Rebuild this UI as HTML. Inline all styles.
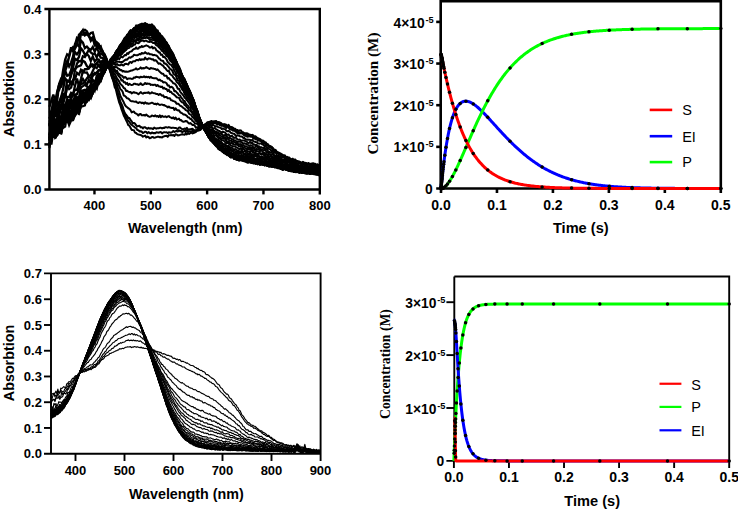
<!DOCTYPE html>
<html><head><meta charset="utf-8"><style>
html,body{margin:0;padding:0;background:#fff;width:738px;height:512px;overflow:hidden;}
svg{display:block;font-family:"Liberation Sans",sans-serif;}
</style></head><body>
<svg width="738" height="512" viewBox="0 0 738 512">
<rect width="738" height="512" fill="#fff"/>
<g fill="none" stroke="#000" stroke-width="2" stroke-linejoin="round">
<path d="M112.49 78.77 L113.62 82.32 L114.74 87.17 L115.87 89.18 L117 94.27 L118.12 98.56 L119.25 102.67 L120.38 105.48 L121.5 109.25 L122.63 112.21 L123.76 115.49 L124.88 117.57 L126.01 120.04 L127.14 122.16 L128.26 125.1 L129.39 125.72 L130.52 127.71 L131.64 129.91 L132.77 130.1 L133.9 130.24 L135.02 132.58 L136.15 133 L137.27 134.15 L138.4 134.42 L139.53 134.83 L140.65 135.02 L141.78 135.56 L142.91 136.7 L144.03 136.09 L145.16 135.63 L146.29 137.42 L147.41 136.59 L148.54 137.02 L149.67 138.32 L150.79 137.89 L151.92 137.11 L153.05 137.12 L154.17 137.78 L155.3 137.49 L156.43 137.08 L157.55 136.73 L158.68 136.83 L159.81 137.18 L160.93 137.12 L162.06 137.54 L163.19 136.64 L164.31 136.28 L165.44 135.91 L166.57 135.77 L167.69 136.91 L168.82 135.13 L169.95 135.36 L171.07 135.09 L172.2 135.38 L173.33 134.95 L174.45 136.04 L175.58 134.17 L176.71 134.7 L177.83 135.41 L178.96 135.33 L180.09 134.87 L181.21 134.54 L182.34 134.17 L183.47 134.49 L184.59 134.77 L185.72 133.49 L186.85 134.38 L187.97 133.11 L189.1 134 L190.23 133.17 L191.35 132.55 L192.48 133.44 L193.6 132.99 L194.73 132.61 L195.86 131.98 L196.98 130.83 L198.11 130.59 L199.24 129.78 L200.36 129.73 L201.49 127.45 L202.62 127.58 L203.74 126.69 L204.87 124.51 L206 123.9 L207.12 122.39 L208.25 122.08 L209.38 122.18 L210.5 121.37 L211.63 120.98 L212.76 121.89 L213.88 121.48 L215.01 121.17 L216.14 120.89 L217.26 122.59 L218.39 122.03 L219.52 122.26 L220.64 122.96 L221.77 123.69 L222.9 124.58 L224.02 124.11 L225.15 124.34 L226.28 124.75 L227.4 126.45 L228.53 124.73 L229.66 126.52 L230.78 127.34 L231.91 126.94 L233.04 127.76 L234.16 128.73 L235.29 128.84 L236.42 130.36 L237.54 129.91 L238.67 130.99 L239.8 130.35 L240.92 130.47 L242.05 131.99 L243.18 132.27 L244.3 133.24 L245.43 133.15 L246.56 133.18 L247.68 133.47 L248.81 134.59 L249.93 134.57 L251.06 135.33 L252.19 134.78 L253.31 135.37 L254.44 136.77 L255.57 136.22 L256.69 137.91 L257.82 138.5 L258.95 138.54 L260.07 139.09 L261.2 140.06 L262.33 140.57 L263.45 140.7 L264.58 142.49 L265.71 142.22 L266.83 144.07 L267.96 144.15 L269.09 145.92 L270.21 146.63 L271.34 146.72 L272.47 147.76 L273.59 149.09 L274.72 149.61 L275.85 150.21 L276.97 151.93 L278.1 152.62 L279.23 152.81 L280.35 153.37 L281.48 154.26 L282.61 154.78 L283.73 155.44 L284.86 155.37 L285.99 157.13 L287.11 156.86 L288.24 157.47 L289.37 157.5 L290.49 159.1 L291.62 159.64 L292.75 158.67 L293.87 160.88 L295 159.37 L296.13 160.47 L297.25 161.71 L298.38 161.94 L299.51 161.57 L300.63 162.32 L301.76 163.02 L302.88 161.87 L304.01 162.59 L305.14 162.65 L306.26 164.2 L307.39 163.68 L308.52 163.07 L309.64 164.78 L310.77 164.64 L311.9 163.39 L313.02 163.33 L314.15 163.54 L315.28 164.87 L316.4 164.76 L317.53 164.22 L318.66 165.19 L319.78 164.86"/>
<path d="M112.49 78.2 L113.62 80.55 L114.74 84.59 L115.87 87.98 L117 91.55 L118.12 95.88 L119.25 100.01 L120.38 103.33 L121.5 106.76 L122.63 109.03 L123.76 112.5 L124.88 115.65 L126.01 117.1 L127.14 118.91 L128.26 120.81 L129.39 121.74 L130.52 123.83 L131.64 124.77 L132.77 125.7 L133.9 126.49 L135.02 127.65 L136.15 128.14 L137.27 129.96 L138.4 130.22 L139.53 131.41 L140.65 131.23 L141.78 131.75 L142.91 133.01 L144.03 132.46 L145.16 131.66 L146.29 132 L147.41 133.32 L148.54 132.1 L149.67 132.82 L150.79 133.54 L151.92 132.48 L153.05 133.16 L154.17 132.94 L155.3 133.26 L156.43 132.33 L157.55 132.49 L158.68 132.76 L159.81 132.18 L160.93 132.11 L162.06 133.48 L163.19 132.5 L164.31 132.15 L165.44 132.39 L166.57 132.17 L167.69 133.1 L168.82 132.34 L169.95 132.47 L171.07 132.75 L172.2 132.06 L173.33 130.99 L174.45 131.96 L175.58 131.29 L176.71 130.99 L177.83 131.59 L178.96 130.37 L180.09 131.27 L181.21 130.93 L182.34 132.34 L183.47 131.36 L184.59 130.66 L185.72 132.17 L186.85 130.33 L187.97 131.86 L189.1 131.25 L190.23 131.39 L191.35 131.16 L192.48 130.85 L193.6 131.57 L194.73 130.45 L195.86 131.31 L196.98 130.38 L198.11 129.97 L199.24 130.22 L200.36 129.7 L201.49 127.74 L202.62 126.68 L203.74 126.67 L204.87 124.39 L206 124.23 L207.12 124.11 L208.25 123.33 L209.38 123.66 L210.5 123.29 L211.63 121.41 L212.76 122.58 L213.88 121.44 L215.01 122.26 L216.14 123.35 L217.26 122.2 L218.39 122.88 L219.52 124.88 L220.64 123.35 L221.77 125.04 L222.9 125.2 L224.02 124.46 L225.15 125.94 L226.28 126.05 L227.4 126.01 L228.53 126.35 L229.66 127.79 L230.78 127.51 L231.91 128.11 L233.04 128.88 L234.16 130.59 L235.29 130.15 L236.42 130.85 L237.54 131.68 L238.67 132.79 L239.8 132.27 L240.92 133.03 L242.05 132.82 L243.18 133.06 L244.3 133.79 L245.43 134.58 L246.56 134.71 L247.68 135.43 L248.81 135.16 L249.93 135.29 L251.06 135 L252.19 135.27 L253.31 136.79 L254.44 137.65 L255.57 138.46 L256.69 137.42 L257.82 138.49 L258.95 138.86 L260.07 140.67 L261.2 141.13 L262.33 140.95 L263.45 141.74 L264.58 142.55 L265.71 143.29 L266.83 143.82 L267.96 145.57 L269.09 146.74 L270.21 146.03 L271.34 146.81 L272.47 147.73 L273.59 150.4 L274.72 150.93 L275.85 151.34 L276.97 152.11 L278.1 152.5 L279.23 154.35 L280.35 154.12 L281.48 155.63 L282.61 156.68 L283.73 155.87 L284.86 156.43 L285.99 156.93 L287.11 158.01 L288.24 158.55 L289.37 159.21 L290.49 159.52 L291.62 159.34 L292.75 159.27 L293.87 161.58 L295 161.37 L296.13 161.04 L297.25 161.27 L298.38 161.42 L299.51 162.88 L300.63 162.43 L301.76 163.13 L302.88 162.3 L304.01 163.07 L305.14 163.27 L306.26 163.06 L307.39 164.19 L308.52 163.69 L309.64 163.87 L310.77 163.74 L311.9 164.21 L313.02 164.66 L314.15 165.46 L315.28 163.89 L316.4 165.89 L317.53 165.79 L318.66 165.45 L319.78 165.59"/>
<path d="M112.49 76.74 L113.62 80.78 L114.74 83.8 L115.87 86.4 L117 90.48 L118.12 93.67 L119.25 97.69 L120.38 101.85 L121.5 103.91 L122.63 106.62 L123.76 110.67 L124.88 113.16 L126.01 114.74 L127.14 116.08 L128.26 117.89 L129.39 118.07 L130.52 119.89 L131.64 121.32 L132.77 123.42 L133.9 122.93 L135.02 123.68 L136.15 125.32 L137.27 126.43 L138.4 126.02 L139.53 125.7 L140.65 127.39 L141.78 127.12 L142.91 128.39 L144.03 127.35 L145.16 127.19 L146.29 128.18 L147.41 128.83 L148.54 127.88 L149.67 128.53 L150.79 128.22 L151.92 128.39 L153.05 129.01 L154.17 127.62 L155.3 128.22 L156.43 128.7 L157.55 128.17 L158.68 128.24 L159.81 127.83 L160.93 127.82 L162.06 128.44 L163.19 127.83 L164.31 128.04 L165.44 127.15 L166.57 127.34 L167.69 127.66 L168.82 127.12 L169.95 127.51 L171.07 127.93 L172.2 127.79 L173.33 127.63 L174.45 127.88 L175.58 127.89 L176.71 128.49 L177.83 128.95 L178.96 127.52 L180.09 127.44 L181.21 128.59 L182.34 129.18 L183.47 129.17 L184.59 128.5 L185.72 129.11 L186.85 127.78 L187.97 129.71 L189.1 129.35 L190.23 129.45 L191.35 129.01 L192.48 128.84 L193.6 129.8 L194.73 130.64 L195.86 130.04 L196.98 129.29 L198.11 128.64 L199.24 130.23 L200.36 129.62 L201.49 128.35 L202.62 127.23 L203.74 126.84 L204.87 124.61 L206 124.05 L207.12 124.19 L208.25 123.99 L209.38 123.87 L210.5 123.97 L211.63 122.17 L212.76 123.55 L213.88 122.94 L215.01 123.06 L216.14 123.55 L217.26 124.48 L218.39 124 L219.52 124.44 L220.64 125.42 L221.77 125.92 L222.9 125.46 L224.02 126.46 L225.15 127.12 L226.28 128.04 L227.4 127.16 L228.53 127.39 L229.66 129.13 L230.78 129.5 L231.91 129.84 L233.04 130.66 L234.16 130.23 L235.29 131.28 L236.42 132.41 L237.54 133.19 L238.67 133.21 L239.8 133.7 L240.92 132.99 L242.05 133.48 L243.18 134.31 L244.3 135.45 L245.43 135.89 L246.56 136.29 L247.68 136.83 L248.81 136.11 L249.93 136.42 L251.06 136.73 L252.19 136.29 L253.31 138.7 L254.44 138.19 L255.57 139.46 L256.69 138.68 L257.82 140.91 L258.95 139.53 L260.07 140.81 L261.2 141.14 L262.33 142.97 L263.45 143.2 L264.58 143.25 L265.71 145.13 L266.83 145.18 L267.96 145.92 L269.09 146.3 L270.21 147.52 L271.34 147.68 L272.47 149.49 L273.59 149.79 L274.72 150.99 L275.85 150.87 L276.97 153.34 L278.1 152.77 L279.23 154.76 L280.35 154.71 L281.48 155.4 L282.61 157.11 L283.73 156.12 L284.86 157.37 L285.99 158.01 L287.11 159.03 L288.24 159.34 L289.37 159.23 L290.49 159.34 L291.62 160.48 L292.75 159.99 L293.87 161.97 L295 161.32 L296.13 162.09 L297.25 161.08 L298.38 161.72 L299.51 162.51 L300.63 163.56 L301.76 163.32 L302.88 162.87 L304.01 163.69 L305.14 163.81 L306.26 164.38 L307.39 165.13 L308.52 163.28 L309.64 164.15 L310.77 165.38 L311.9 164.25 L313.02 165.17 L314.15 165.34 L315.28 164.86 L316.4 165.87 L317.53 165.71 L318.66 166.14 L319.78 165.65"/>
<path d="M112.49 75.21 L113.62 77.63 L114.74 80.18 L115.87 82.12 L117 85.5 L118.12 88.86 L119.25 91.92 L120.38 95.91 L121.5 97.94 L122.63 100.35 L123.76 102.32 L124.88 104.86 L126.01 106.43 L127.14 107.24 L128.26 108.27 L129.39 108.79 L130.52 110.13 L131.64 112.34 L132.77 111.77 L133.9 111.61 L135.02 113.14 L136.15 113.63 L137.27 114.25 L138.4 115.45 L139.53 114.27 L140.65 113.9 L141.78 115.31 L142.91 115.24 L144.03 114.95 L145.16 115.66 L146.29 114.54 L147.41 115.64 L148.54 116.37 L149.67 116.76 L150.79 116.6 L151.92 115.53 L153.05 115.85 L154.17 116.26 L155.3 115.32 L156.43 116.53 L157.55 115.95 L158.68 117.04 L159.81 115.23 L160.93 117.22 L162.06 115.75 L163.19 116.67 L164.31 116.72 L165.44 116.32 L166.57 117.12 L167.69 116.52 L168.82 116.12 L169.95 117.13 L171.07 117.57 L172.2 118.28 L173.33 117.42 L174.45 119.01 L175.58 117.49 L176.71 119.48 L177.83 119.11 L178.96 118.55 L180.09 120.33 L181.21 120.03 L182.34 121.37 L183.47 121.83 L184.59 121.63 L185.72 120.94 L186.85 121.27 L187.97 122.46 L189.1 123.55 L190.23 123.06 L191.35 123.84 L192.48 124.95 L193.6 124.92 L194.73 125.63 L195.86 127.64 L196.98 127.33 L198.11 127.33 L199.24 128.49 L200.36 128.05 L201.49 127.06 L202.62 127.14 L203.74 126.58 L204.87 126.02 L206 125.04 L207.12 125.26 L208.25 124.7 L209.38 126.04 L210.5 125.04 L211.63 125.38 L212.76 124.69 L213.88 125.27 L215.01 126.2 L216.14 126.3 L217.26 126.56 L218.39 127.15 L219.52 127.59 L220.64 127.64 L221.77 129.03 L222.9 128.46 L224.02 128.93 L225.15 129.14 L226.28 130.59 L227.4 131.28 L228.53 131.04 L229.66 131.47 L230.78 132.78 L231.91 133.11 L233.04 133.67 L234.16 133.66 L235.29 135.14 L236.42 135.98 L237.54 135.15 L238.67 135.66 L239.8 136.24 L240.92 136.5 L242.05 136.56 L243.18 137.96 L244.3 137.78 L245.43 139.14 L246.56 139.71 L247.68 139.55 L248.81 139.8 L249.93 139.66 L251.06 140.78 L252.19 139.81 L253.31 141.21 L254.44 141.66 L255.57 142.1 L256.69 142.23 L257.82 143.33 L258.95 143.66 L260.07 143.44 L261.2 143.58 L262.33 144.58 L263.45 144.73 L264.58 146.3 L265.71 146.34 L266.83 148.02 L267.96 147.75 L269.09 149.24 L270.21 149.14 L271.34 151.13 L272.47 150.66 L273.59 152.94 L274.72 152.68 L275.85 152.65 L276.97 155.28 L278.1 155.51 L279.23 156.26 L280.35 156.7 L281.48 157.78 L282.61 157.32 L283.73 157.62 L284.86 158.65 L285.99 159.32 L287.11 159.49 L288.24 161.14 L289.37 161.32 L290.49 160.3 L291.62 161.84 L292.75 161.57 L293.87 161.73 L295 161.49 L296.13 163.25 L297.25 163.59 L298.38 163.81 L299.51 163.16 L300.63 163.1 L301.76 164.73 L302.88 163.72 L304.01 164.55 L305.14 165.03 L306.26 165.93 L307.39 164.63 L308.52 164.31 L309.64 166.23 L310.77 165.65 L311.9 166.03 L313.02 165.15 L314.15 166.94 L315.28 166.65 L316.4 166.15 L317.53 166.79 L318.66 166.28 L319.78 166.33"/>
<path d="M112.49 71.6 L113.62 75.36 L114.74 77.5 L115.87 78.5 L117 81.83 L118.12 84.3 L119.25 86.22 L120.38 89.26 L121.5 90.05 L122.63 91.81 L123.76 95.51 L124.88 95.87 L126.01 96.99 L127.14 98.33 L128.26 98.57 L129.39 99.59 L130.52 100.81 L131.64 101.25 L132.77 101.32 L133.9 101.63 L135.02 101.75 L136.15 101.44 L137.27 102.61 L138.4 103.04 L139.53 102.15 L140.65 102.42 L141.78 103.16 L142.91 102.58 L144.03 103.78 L145.16 102.21 L146.29 103.44 L147.41 103.16 L148.54 103.77 L149.67 103.59 L150.79 103.13 L151.92 102.65 L153.05 103.21 L154.17 103.99 L155.3 103.7 L156.43 104.44 L157.55 103.51 L158.68 104.29 L159.81 104.95 L160.93 104.63 L162.06 104.48 L163.19 105.17 L164.31 104.88 L165.44 105.88 L166.57 106.38 L167.69 107.35 L168.82 106.45 L169.95 107.46 L171.07 107.73 L172.2 108.12 L173.33 107.78 L174.45 109.93 L175.58 108.25 L176.71 109.92 L177.83 110.45 L178.96 110.19 L180.09 112.09 L181.21 112.9 L182.34 113.42 L183.47 114.59 L184.59 114.51 L185.72 115.05 L186.85 115.8 L187.97 117.3 L189.1 117.55 L190.23 118.94 L191.35 118.93 L192.48 120.95 L193.6 121.55 L194.73 123.24 L195.86 123.39 L196.98 123.67 L198.11 124.75 L199.24 127.11 L200.36 126.95 L201.49 126.82 L202.62 126.9 L203.74 126.02 L204.87 127.01 L206 126.12 L207.12 125.76 L208.25 125.61 L209.38 127.59 L210.5 127.36 L211.63 126.45 L212.76 128.6 L213.88 128.32 L215.01 127.99 L216.14 129.42 L217.26 129.69 L218.39 130.65 L219.52 131.06 L220.64 131.77 L221.77 132.84 L222.9 131.51 L224.02 132.17 L225.15 132.5 L226.28 134.09 L227.4 134.81 L228.53 134.31 L229.66 135.91 L230.78 136.17 L231.91 135.67 L233.04 137.08 L234.16 137.95 L235.29 137.24 L236.42 138.25 L237.54 139.59 L238.67 139.74 L239.8 139.56 L240.92 140.61 L242.05 140.42 L243.18 140.4 L244.3 140.41 L245.43 141.3 L246.56 141.44 L247.68 142.59 L248.81 143.04 L249.93 141.89 L251.06 143.21 L252.19 142.65 L253.31 144.73 L254.44 144.42 L255.57 145.23 L256.69 144.84 L257.82 146.3 L258.95 146.22 L260.07 147.42 L261.2 147.16 L262.33 147.86 L263.45 148.06 L264.58 147.81 L265.71 149.02 L266.83 149.28 L267.96 151.03 L269.09 151.82 L270.21 152.79 L271.34 152.2 L272.47 153.47 L273.59 154.65 L274.72 155.51 L275.85 155.85 L276.97 156.59 L278.1 156.96 L279.23 156.82 L280.35 157.62 L281.48 158.97 L282.61 159.78 L283.73 160.26 L284.86 159.12 L285.99 160.71 L287.11 160.54 L288.24 161.28 L289.37 161.08 L290.49 163.14 L291.62 163.08 L292.75 163.02 L293.87 164.46 L295 162.86 L296.13 164.69 L297.25 163.75 L298.38 164.56 L299.51 165.82 L300.63 165.1 L301.76 165.75 L302.88 166.21 L304.01 165.98 L305.14 165.87 L306.26 167.23 L307.39 166.68 L308.52 166.35 L309.64 166.66 L310.77 167.56 L311.9 166.14 L313.02 167.27 L314.15 166.76 L315.28 166.69 L316.4 168.2 L317.53 168.01 L318.66 168.41 L319.78 167.65"/>
<path d="M112.49 70.35 L113.62 72.89 L114.74 74 L115.87 76.08 L117 78.26 L118.12 79.84 L119.25 81.6 L120.38 84.01 L121.5 84.86 L122.63 86.12 L123.76 87.98 L124.88 88.45 L126.01 90.95 L127.14 90.69 L128.26 91.65 L129.39 92.18 L130.52 91.97 L131.64 93.45 L132.77 92.68 L133.9 92.11 L135.02 92.78 L136.15 92.77 L137.27 93.46 L138.4 94.19 L139.53 93.21 L140.65 92.13 L141.78 93.06 L142.91 93.7 L144.03 92.74 L145.16 93.05 L146.29 92.66 L147.41 92.89 L148.54 92.24 L149.67 93.49 L150.79 93.26 L151.92 92.18 L153.05 93.07 L154.17 93.16 L155.3 93.38 L156.43 94.09 L157.55 93.91 L158.68 94.93 L159.81 93.94 L160.93 94.67 L162.06 95.74 L163.19 95.37 L164.31 97.29 L165.44 97.04 L166.57 97 L167.69 98.25 L168.82 98.27 L169.95 98.26 L171.07 100.18 L172.2 100.37 L173.33 101.1 L174.45 101.36 L175.58 102.14 L176.71 103.85 L177.83 103.62 L178.96 104.29 L180.09 105.74 L181.21 106.18 L182.34 106.97 L183.47 108.1 L184.59 108.63 L185.72 110.08 L186.85 110.44 L187.97 111.5 L189.1 113.71 L190.23 114.48 L191.35 115.09 L192.48 117.27 L193.6 117.63 L194.73 119.52 L195.86 121.01 L196.98 121.44 L198.11 123.08 L199.24 125.72 L200.36 125.72 L201.49 126.11 L202.62 126.15 L203.74 127.28 L204.87 127.08 L206 126.43 L207.12 127.19 L208.25 128.17 L209.38 128.83 L210.5 129.18 L211.63 129.19 L212.76 129.63 L213.88 130.5 L215.01 131.53 L216.14 131.7 L217.26 132.44 L218.39 132.22 L219.52 133.96 L220.64 133.52 L221.77 133.99 L222.9 134.93 L224.02 135.77 L225.15 134.84 L226.28 135.56 L227.4 137.79 L228.53 137.49 L229.66 138.11 L230.78 138.26 L231.91 139.32 L233.04 139.14 L234.16 140.78 L235.29 140.38 L236.42 141.4 L237.54 141.7 L238.67 141.73 L239.8 141.82 L240.92 141.83 L242.05 142.59 L243.18 143.44 L244.3 143.23 L245.43 143.78 L246.56 144.05 L247.68 144.49 L248.81 146 L249.93 145.2 L251.06 145.16 L252.19 146.07 L253.31 147.22 L254.44 147.42 L255.57 146.91 L256.69 146.5 L257.82 147.2 L258.95 148.63 L260.07 148.84 L261.2 149.45 L262.33 149.45 L263.45 150.26 L264.58 149.98 L265.71 150.49 L266.83 152.68 L267.96 152.02 L269.09 154.12 L270.21 154.62 L271.34 154.64 L272.47 154.49 L273.59 154.99 L274.72 156.89 L275.85 157.09 L276.97 158.46 L278.1 158.1 L279.23 158.96 L280.35 159.55 L281.48 160.18 L282.61 160.24 L283.73 160.25 L284.86 161.45 L285.99 161.79 L287.11 161.92 L288.24 162.3 L289.37 162.02 L290.49 163.55 L291.62 163.46 L292.75 163.75 L293.87 164.19 L295 165.14 L296.13 165.92 L297.25 165.87 L298.38 164.76 L299.51 166.39 L300.63 165.84 L301.76 166.85 L302.88 166.59 L304.01 167.08 L305.14 166.79 L306.26 167.89 L307.39 166.97 L308.52 167.46 L309.64 168.06 L310.77 167.78 L311.9 167.58 L313.02 168.1 L314.15 168.79 L315.28 168.59 L316.4 167.72 L317.53 168.67 L318.66 169.62 L319.78 169.44"/>
<path d="M112.49 68.13 L113.62 69.7 L114.74 71.33 L115.87 72.79 L117 73.54 L118.12 75.05 L119.25 76.61 L120.38 77.74 L121.5 80.51 L122.63 80.08 L123.76 82.27 L124.88 82.12 L126.01 83.92 L127.14 82.87 L128.26 85.08 L129.39 83.85 L130.52 84.64 L131.64 85.01 L132.77 84.85 L133.9 83.76 L135.02 83.79 L136.15 84.2 L137.27 84.17 L138.4 84.91 L139.53 84.54 L140.65 83.22 L141.78 84.53 L142.91 84.96 L144.03 84.25 L145.16 82.96 L146.29 83.99 L147.41 83.54 L148.54 83.86 L149.67 83.84 L150.79 84.9 L151.92 84.62 L153.05 85.18 L154.17 84.68 L155.3 84.79 L156.43 85.99 L157.55 85.08 L158.68 86.17 L159.81 86.43 L160.93 86.99 L162.06 86.56 L163.19 88.56 L164.31 87.88 L165.44 88.94 L166.57 88.94 L167.69 91.13 L168.82 89.84 L169.95 92.07 L171.07 91.75 L172.2 93.5 L173.33 94.13 L174.45 94.84 L175.58 95.96 L176.71 97.3 L177.83 97.53 L178.96 97.69 L180.09 100.19 L181.21 101.55 L182.34 102.54 L183.47 102.6 L184.59 104.97 L185.72 105.66 L186.85 107.17 L187.97 108.21 L189.1 110.29 L190.23 110.59 L191.35 111.92 L192.48 113.4 L193.6 115.13 L194.73 117.48 L195.86 119.17 L196.98 121.22 L198.11 121.67 L199.24 123.72 L200.36 125.27 L201.49 125.36 L202.62 126.29 L203.74 127.43 L204.87 127.61 L206 127.38 L207.12 128.03 L208.25 128.79 L209.38 130.48 L210.5 130.06 L211.63 130.26 L212.76 131.15 L213.88 131.43 L215.01 131.84 L216.14 133.47 L217.26 133.77 L218.39 133.75 L219.52 134.94 L220.64 135.9 L221.77 136.24 L222.9 136.25 L224.02 137.61 L225.15 137.13 L226.28 139.18 L227.4 138.47 L228.53 139.43 L229.66 140.96 L230.78 140.57 L231.91 141.26 L233.04 141.14 L234.16 142.14 L235.29 142.61 L236.42 143.44 L237.54 142.88 L238.67 145.28 L239.8 144.09 L240.92 144.34 L242.05 145.43 L243.18 145.02 L244.3 145.94 L245.43 146.18 L246.56 146.23 L247.68 147.79 L248.81 147.95 L249.93 146.93 L251.06 148.4 L252.19 147.68 L253.31 148.31 L254.44 148.72 L255.57 149.64 L256.69 148.85 L257.82 149.47 L258.95 149.54 L260.07 151.08 L261.2 150.55 L262.33 151.08 L263.45 152.58 L264.58 152.82 L265.71 153.85 L266.83 154.44 L267.96 154.36 L269.09 154.44 L270.21 154.81 L271.34 156.47 L272.47 156.95 L273.59 157.5 L274.72 156.98 L275.85 157.92 L276.97 158.2 L278.1 160.18 L279.23 159.27 L280.35 161.01 L281.48 160.75 L282.61 161.2 L283.73 161.52 L284.86 162.64 L285.99 162.32 L287.11 163.24 L288.24 164.6 L289.37 164.11 L290.49 164.62 L291.62 164.49 L292.75 165.13 L293.87 165.43 L295 165.04 L296.13 166.77 L297.25 166.68 L298.38 166.01 L299.51 166.83 L300.63 167.28 L301.76 167.65 L302.88 166.29 L304.01 166.81 L305.14 167.93 L306.26 168.56 L307.39 167.08 L308.52 167.48 L309.64 167.91 L310.77 168.74 L311.9 168.42 L313.02 168.58 L314.15 169.37 L315.28 168.33 L316.4 169.3 L317.53 168.52 L318.66 169.79 L319.78 169.72"/>
<path d="M112.49 66.82 L113.62 68.48 L114.74 69.74 L115.87 71.05 L117 70.74 L118.12 73.38 L119.25 74 L120.38 75.17 L121.5 75.45 L122.63 76.32 L123.76 77.83 L124.88 76.98 L126.01 77.64 L127.14 79.18 L128.26 78.54 L129.39 78.39 L130.52 78.58 L131.64 78.9 L132.77 78.83 L133.9 77.5 L135.02 77.82 L136.15 76.7 L137.27 77.09 L138.4 77.21 L139.53 77.69 L140.65 76.65 L141.78 77.19 L142.91 77.09 L144.03 76.25 L145.16 77.31 L146.29 76.7 L147.41 77.31 L148.54 76.85 L149.67 77.86 L150.79 76.68 L151.92 77.68 L153.05 78.05 L154.17 78.34 L155.3 78.21 L156.43 78.16 L157.55 79.39 L158.68 80.26 L159.81 79.63 L160.93 80.7 L162.06 80.87 L163.19 82.52 L164.31 82.16 L165.44 82.48 L166.57 83.27 L167.69 85.6 L168.82 85.37 L169.95 87.54 L171.07 86.8 L172.2 87.21 L173.33 88.39 L174.45 91.31 L175.58 91.07 L176.71 92.42 L177.83 93.54 L178.96 95.1 L180.09 95.47 L181.21 97.62 L182.34 98.71 L183.47 100.73 L184.59 100.98 L185.72 103.47 L186.85 104.74 L187.97 105.66 L189.1 107.51 L190.23 107.84 L191.35 110.76 L192.48 112.07 L193.6 114.22 L194.73 116.28 L195.86 117.89 L196.98 119.18 L198.11 121.32 L199.24 122.65 L200.36 125.33 L201.49 124.71 L202.62 126.67 L203.74 126.53 L204.87 127.42 L206 128.24 L207.12 128.65 L208.25 129 L209.38 129.79 L210.5 131.5 L211.63 132.19 L212.76 133.17 L213.88 132.35 L215.01 133.57 L216.14 133.91 L217.26 135.8 L218.39 136.09 L219.52 137.77 L220.64 137.87 L221.77 138.65 L222.9 137.96 L224.02 138.87 L225.15 138.88 L226.28 141.06 L227.4 141.24 L228.53 141.92 L229.66 142.7 L230.78 143.65 L231.91 142.57 L233.04 144.01 L234.16 144.53 L235.29 144.64 L236.42 144.54 L237.54 144.72 L238.67 146.14 L239.8 146.47 L240.92 145.72 L242.05 146.89 L243.18 147.63 L244.3 147.13 L245.43 148.35 L246.56 148.78 L247.68 149.04 L248.81 149.26 L249.93 149.08 L251.06 149.41 L252.19 149.49 L253.31 151.24 L254.44 149.72 L255.57 151.55 L256.69 150.9 L257.82 151.57 L258.95 151.72 L260.07 153.16 L261.2 153.45 L262.33 153.27 L263.45 153.7 L264.58 153.99 L265.71 154.96 L266.83 154.48 L267.96 155.38 L269.09 157.18 L270.21 156.75 L271.34 156.12 L272.47 158.37 L273.59 158.22 L274.72 157.83 L275.85 159.37 L276.97 159.71 L278.1 160.59 L279.23 161.39 L280.35 161.18 L281.48 161.67 L282.61 163.02 L283.73 162.73 L284.86 162.85 L285.99 162.92 L287.11 164.65 L288.24 165.19 L289.37 164.99 L290.49 165.4 L291.62 164.89 L292.75 165.55 L293.87 165.64 L295 166.22 L296.13 167.23 L297.25 166.34 L298.38 167.71 L299.51 166.52 L300.63 166.64 L301.76 167.87 L302.88 167.98 L304.01 167.02 L305.14 167.74 L306.26 168.34 L307.39 169.3 L308.52 167.91 L309.64 169.69 L310.77 168.84 L311.9 168.55 L313.02 168.22 L314.15 169.05 L315.28 169.97 L316.4 168.95 L317.53 169.2 L318.66 170.05 L319.78 171.08"/>
<path d="M112.49 66.62 L113.62 66.64 L114.74 67.46 L115.87 66.98 L117 67.15 L118.12 68.64 L119.25 68.94 L120.38 70.22 L121.5 70.01 L122.63 71.57 L123.76 70.99 L124.88 71.78 L126.01 71.46 L127.14 71.74 L128.26 71.66 L129.39 71.29 L130.52 70.74 L131.64 70.61 L132.77 70.23 L133.9 69.61 L135.02 69.36 L136.15 68.32 L137.27 69.48 L138.4 69.12 L139.53 68.63 L140.65 67.4 L141.78 68.71 L142.91 68 L144.03 68.47 L145.16 67.83 L146.29 67.11 L147.41 67.91 L148.54 68.48 L149.67 69.09 L150.79 67.96 L151.92 68.4 L153.05 68.49 L154.17 68.93 L155.3 69.05 L156.43 69.87 L157.55 69.35 L158.68 70.62 L159.81 71.78 L160.93 72.86 L162.06 73.8 L163.19 73.81 L164.31 75.73 L165.44 75.71 L166.57 75.78 L167.69 78.55 L168.82 77.93 L169.95 79.7 L171.07 80.65 L172.2 81.77 L173.33 83.37 L174.45 83.53 L175.58 84.43 L176.71 86.26 L177.83 88.86 L178.96 88.68 L180.09 91.48 L181.21 93.03 L182.34 94.11 L183.47 95.53 L184.59 97.64 L185.72 98.4 L186.85 100.11 L187.97 101.41 L189.1 103.04 L190.23 104.84 L191.35 107.61 L192.48 108.41 L193.6 110.57 L194.73 113.94 L195.86 115.26 L196.98 117.27 L198.11 120.34 L199.24 122.69 L200.36 124.74 L201.49 124.83 L202.62 126.37 L203.74 127.9 L204.87 128.34 L206 129.41 L207.12 129.79 L208.25 131.15 L209.38 132.25 L210.5 133.16 L211.63 132.86 L212.76 133.56 L213.88 135.27 L215.01 135.19 L216.14 135.58 L217.26 136.98 L218.39 138.11 L219.52 138.61 L220.64 139.26 L221.77 140.2 L222.9 140.27 L224.02 140.9 L225.15 142.2 L226.28 143.36 L227.4 142.66 L228.53 143.78 L229.66 144.14 L230.78 145.82 L231.91 145.79 L233.04 146.33 L234.16 146.5 L235.29 146.51 L236.42 147.58 L237.54 147.74 L238.67 148.85 L239.8 149.26 L240.92 147.94 L242.05 149.68 L243.18 148.76 L244.3 149.53 L245.43 150.93 L246.56 150.08 L247.68 151.85 L248.81 151.31 L249.93 151.71 L251.06 150.62 L252.19 151.92 L253.31 151.94 L254.44 153.23 L255.57 152.6 L256.69 153.81 L257.82 154.55 L258.95 153.45 L260.07 153.81 L261.2 154.38 L262.33 154.34 L263.45 154.75 L264.58 155.76 L265.71 157.02 L266.83 156.62 L267.96 157.6 L269.09 157.9 L270.21 158.43 L271.34 158.48 L272.47 159.52 L273.59 159.45 L274.72 160.17 L275.85 160.49 L276.97 161.92 L278.1 161.63 L279.23 162.15 L280.35 161.71 L281.48 162.86 L282.61 164.44 L283.73 164.14 L284.86 164.21 L285.99 164.03 L287.11 164.08 L288.24 164.6 L289.37 164.71 L290.49 165.18 L291.62 165.7 L292.75 165.55 L293.87 168.01 L295 166.93 L296.13 167.54 L297.25 167.17 L298.38 167.61 L299.51 168 L300.63 167.26 L301.76 169.09 L302.88 168.4 L304.01 167.55 L305.14 169.85 L306.26 170.04 L307.39 168.62 L308.52 168.32 L309.64 170.48 L310.77 170.63 L311.9 168.81 L313.02 169.39 L314.15 170.01 L315.28 169.72 L316.4 170.02 L317.53 169.86 L318.66 171.83 L319.78 171.73"/>
<path d="M112.49 63.82 L113.62 63.87 L114.74 64.56 L115.87 64.94 L117 63.85 L118.12 65 L119.25 65.22 L120.38 65.18 L121.5 64.21 L122.63 65.26 L123.76 65.44 L124.88 63.88 L126.01 63.81 L127.14 64.17 L128.26 64.52 L129.39 62.42 L130.52 61.99 L131.64 62.89 L132.77 61.42 L133.9 61.16 L135.02 61.3 L136.15 60.11 L137.27 60.03 L138.4 60.43 L139.53 59.07 L140.65 60.07 L141.78 59.32 L142.91 59.44 L144.03 59.63 L145.16 57.54 L146.29 59.05 L147.41 59.5 L148.54 58.35 L149.67 58.49 L150.79 58.79 L151.92 59.52 L153.05 59.2 L154.17 60.64 L155.3 60.24 L156.43 60.7 L157.55 62.4 L158.68 63.8 L159.81 63.3 L160.93 64.18 L162.06 65.09 L163.19 65.78 L164.31 67.58 L165.44 68.22 L166.57 69.86 L167.69 71.09 L168.82 70.64 L169.95 73.88 L171.07 74.78 L172.2 75.41 L173.33 77.4 L174.45 78.74 L175.58 79.76 L176.71 82.01 L177.83 82.87 L178.96 84.12 L180.09 86.1 L181.21 87.49 L182.34 89.8 L183.47 90.82 L184.59 93.78 L185.72 95.6 L186.85 97.43 L187.97 99.07 L189.1 100.13 L190.23 101.42 L191.35 104.56 L192.48 107.21 L193.6 108.89 L194.73 111.34 L195.86 114.42 L196.98 115.58 L198.11 117.8 L199.24 121.31 L200.36 122.98 L201.49 123.86 L202.62 125.88 L203.74 128.26 L204.87 127.56 L206 128.6 L207.12 131.51 L208.25 131.39 L209.38 133.31 L210.5 134.97 L211.63 135.02 L212.76 136.46 L213.88 136.01 L215.01 138.17 L216.14 138.97 L217.26 139.65 L218.39 139.69 L219.52 141.12 L220.64 141.19 L221.77 142.73 L222.9 143.8 L224.02 144.5 L225.15 144.41 L226.28 145.7 L227.4 146.19 L228.53 145.68 L229.66 147.25 L230.78 147.78 L231.91 147.88 L233.04 148.82 L234.16 149.54 L235.29 148.99 L236.42 149.81 L237.54 150.35 L238.67 150.84 L239.8 151.17 L240.92 151.33 L242.05 150.54 L243.18 152.29 L244.3 151.3 L245.43 151.8 L246.56 152.35 L247.68 153.96 L248.81 153.63 L249.93 152.38 L251.06 154.04 L252.19 154.34 L253.31 154.37 L254.44 155.06 L255.57 154.87 L256.69 155.75 L257.82 155 L258.95 155.99 L260.07 157.38 L261.2 156.33 L262.33 157.16 L263.45 157.03 L264.58 157.64 L265.71 157.31 L266.83 158.38 L267.96 158.95 L269.09 160.46 L270.21 159.76 L271.34 160.42 L272.47 160.34 L273.59 161.02 L274.72 161.48 L275.85 162.53 L276.97 162.47 L278.1 162.89 L279.23 163.21 L280.35 162.88 L281.48 164.49 L282.61 165 L283.73 165.59 L284.86 164.43 L285.99 165.87 L287.11 165.26 L288.24 165.89 L289.37 166.89 L290.49 166.16 L291.62 167.25 L292.75 167.36 L293.87 167.96 L295 167 L296.13 168.58 L297.25 168.38 L298.38 169.01 L299.51 168.41 L300.63 168.83 L301.76 169.43 L302.88 169.76 L304.01 169.65 L305.14 169.2 L306.26 169.58 L307.39 169.19 L308.52 169.15 L309.64 170.06 L310.77 170.02 L311.9 169.76 L313.02 169.92 L314.15 170.25 L315.28 171.18 L316.4 170.66 L317.53 171.5 L318.66 172.16 L319.78 170.98"/>
<path d="M112.49 63.68 L113.62 62.52 L114.74 63.47 L115.87 61.97 L117 61.57 L118.12 61.63 L119.25 61.82 L120.38 62.19 L121.5 62.04 L122.63 61.89 L123.76 60.99 L124.88 60.1 L126.01 59.51 L127.14 59.69 L128.26 58.36 L129.39 57.3 L130.52 57.82 L131.64 56.64 L132.77 56.47 L133.9 54.81 L135.02 55.06 L136.15 55.14 L137.27 55.33 L138.4 54.77 L139.53 54.03 L140.65 54.37 L141.78 52.99 L142.91 53.46 L144.03 53.2 L145.16 52.15 L146.29 53.18 L147.41 53.85 L148.54 53.24 L149.67 54.15 L150.79 54.27 L151.92 54.43 L153.05 55.21 L154.17 54.82 L155.3 55.23 L156.43 55.46 L157.55 56.47 L158.68 58.24 L159.81 58.79 L160.93 60.4 L162.06 60.71 L163.19 61.03 L164.31 63.54 L165.44 63.58 L166.57 64.44 L167.69 65.91 L168.82 67.11 L169.95 68.78 L171.07 69.46 L172.2 70.56 L173.33 73.3 L174.45 74.73 L175.58 74.88 L176.71 78 L177.83 80.32 L178.96 80.72 L180.09 84.14 L181.21 85.86 L182.34 87.18 L183.47 89.55 L184.59 90.3 L185.72 92.47 L186.85 94.87 L187.97 96.23 L189.1 98.41 L190.23 100.01 L191.35 102.96 L192.48 105.18 L193.6 107.86 L194.73 110.24 L195.86 112.14 L196.98 114.47 L198.11 118.64 L199.24 121.37 L200.36 123.12 L201.49 123.86 L202.62 125.85 L203.74 128.48 L204.87 128.75 L206 129.75 L207.12 130.81 L208.25 132.71 L209.38 133.67 L210.5 134.74 L211.63 135.18 L212.76 137.72 L213.88 137.15 L215.01 139.47 L216.14 140.1 L217.26 140.44 L218.39 142.35 L219.52 143.18 L220.64 142.99 L221.77 144.09 L222.9 145.32 L224.02 144.25 L225.15 144.87 L226.28 146.36 L227.4 147.07 L228.53 147.69 L229.66 147.65 L230.78 149.9 L231.91 149.94 L233.04 150.48 L234.16 150.13 L235.29 151.13 L236.42 151.58 L237.54 151.84 L238.67 151.69 L239.8 152.97 L240.92 151.95 L242.05 152.33 L243.18 153.32 L244.3 153.72 L245.43 153.94 L246.56 154.5 L247.68 155.08 L248.81 154.81 L249.93 154.77 L251.06 155.39 L252.19 154.64 L253.31 156.19 L254.44 155.98 L255.57 155.67 L256.69 156.54 L257.82 157.3 L258.95 156.18 L260.07 157.07 L261.2 157.39 L262.33 158.26 L263.45 158.01 L264.58 158.36 L265.71 159.54 L266.83 159.1 L267.96 158.99 L269.09 160.33 L270.21 160.45 L271.34 161.09 L272.47 161.13 L273.59 162.63 L274.72 161.8 L275.85 162.57 L276.97 162.42 L278.1 163.92 L279.23 163.84 L280.35 165.3 L281.48 164.96 L282.61 165.11 L283.73 165.95 L284.86 165.41 L285.99 166.53 L287.11 166.65 L288.24 166.15 L289.37 167.59 L290.49 166.72 L291.62 168.61 L292.75 167.64 L293.87 168.04 L295 167.74 L296.13 169.29 L297.25 168.71 L298.38 168.78 L299.51 169.06 L300.63 168.9 L301.76 169.51 L302.88 170.15 L304.01 169.26 L305.14 170.16 L306.26 170.51 L307.39 169.65 L308.52 171 L309.64 170.35 L310.77 171.32 L311.9 170.2 L313.02 170.14 L314.15 171.65 L315.28 170.96 L316.4 171.64 L317.53 171.63 L318.66 172.77 L319.78 171.98"/>
<path d="M112.49 62.56 L113.62 60.9 L114.74 60.58 L115.87 60.3 L117 59.34 L118.12 58.51 L119.25 59.2 L120.38 57.47 L121.5 56.85 L122.63 57.37 L123.76 56.13 L124.88 55.02 L126.01 55.25 L127.14 53.16 L128.26 53.85 L129.39 52.13 L130.52 51.67 L131.64 51.31 L132.77 49.79 L133.9 49.09 L135.02 48.89 L136.15 47.42 L137.27 48.78 L138.4 48.58 L139.53 47.02 L140.65 47.35 L141.78 45.96 L142.91 46.94 L144.03 46.41 L145.16 45.87 L146.29 45.37 L147.41 45.82 L148.54 46.32 L149.67 47.56 L150.79 47.53 L151.92 46.64 L153.05 48.33 L154.17 47.43 L155.3 48.29 L156.43 50.52 L157.55 50.85 L158.68 52.56 L159.81 52.3 L160.93 54.9 L162.06 54.6 L163.19 57.02 L164.31 56.79 L165.44 58.04 L166.57 59.4 L167.69 62 L168.82 63.05 L169.95 64.46 L171.07 64.69 L172.2 66.54 L173.33 67.85 L174.45 71.39 L175.58 72.45 L176.71 75.06 L177.83 75.77 L178.96 78.28 L180.09 80.45 L181.21 81.8 L182.34 83.93 L183.47 86.62 L184.59 88.03 L185.72 90.65 L186.85 91.97 L187.97 94.62 L189.1 96.7 L190.23 98.73 L191.35 101.31 L192.48 103.68 L193.6 106.37 L194.73 109.06 L195.86 111.49 L196.98 114.45 L198.11 117.61 L199.24 119.26 L200.36 122.23 L201.49 123.86 L202.62 125.98 L203.74 127.27 L204.87 128.5 L206 130.17 L207.12 131.65 L208.25 133.03 L209.38 134.88 L210.5 136.28 L211.63 136.74 L212.76 138.16 L213.88 138.9 L215.01 140.15 L216.14 140.69 L217.26 141.37 L218.39 142.33 L219.52 144.48 L220.64 145.25 L221.77 146.03 L222.9 147.12 L224.02 146.22 L225.15 147 L226.28 148.45 L227.4 149.52 L228.53 148.48 L229.66 149.69 L230.78 150.69 L231.91 151.04 L233.04 151.35 L234.16 152.65 L235.29 153.11 L236.42 153.1 L237.54 152.75 L238.67 153.25 L239.8 153.54 L240.92 153.59 L242.05 155.17 L243.18 155.38 L244.3 154.34 L245.43 155.44 L246.56 156.07 L247.68 156.76 L248.81 156.05 L249.93 156.23 L251.06 155.81 L252.19 157.5 L253.31 156.86 L254.44 158.4 L255.57 158.56 L256.69 158.22 L257.82 158.38 L258.95 159.1 L260.07 159.3 L261.2 158.59 L262.33 159.64 L263.45 159.25 L264.58 160 L265.71 160.38 L266.83 161.37 L267.96 161.12 L269.09 161.12 L270.21 161.63 L271.34 162.63 L272.47 162.61 L273.59 163.15 L274.72 163.61 L275.85 163.51 L276.97 164.01 L278.1 165.43 L279.23 165.62 L280.35 165.05 L281.48 166.17 L282.61 167.17 L283.73 165.87 L284.86 166.69 L285.99 165.98 L287.11 167.11 L288.24 168.46 L289.37 167.53 L290.49 168.58 L291.62 167.97 L292.75 168.07 L293.87 168.82 L295 169.77 L296.13 170.57 L297.25 168.98 L298.38 170.41 L299.51 170.66 L300.63 170.77 L301.76 170.84 L302.88 170.35 L304.01 169.4 L305.14 171.16 L306.26 171.59 L307.39 170.49 L308.52 171.48 L309.64 171.17 L310.77 171.37 L311.9 170.39 L313.02 172.3 L314.15 171.7 L315.28 171.84 L316.4 171.67 L317.53 172.62 L318.66 172.36 L319.78 173.32"/>
<path d="M112.49 60.3 L113.62 59.95 L114.74 59.8 L115.87 58.45 L117 56.62 L118.12 56.98 L119.25 54.79 L120.38 55.64 L121.5 54.54 L122.63 53.16 L123.76 51.87 L124.88 50.9 L126.01 50.04 L127.14 48.69 L128.26 48.11 L129.39 47.87 L130.52 45.64 L131.64 46.61 L132.77 45.64 L133.9 44.67 L135.02 44.51 L136.15 42.12 L137.27 42.93 L138.4 43.2 L139.53 42.37 L140.65 40.42 L141.78 40.89 L142.91 40.21 L144.03 41.42 L145.16 40.76 L146.29 40.68 L147.41 41.47 L148.54 41.72 L149.67 41.92 L150.79 41.46 L151.92 42.05 L153.05 42.97 L154.17 42.71 L155.3 43.95 L156.43 45.54 L157.55 45.45 L158.68 47.1 L159.81 47.99 L160.93 49.34 L162.06 51.06 L163.19 51.44 L164.31 53.44 L165.44 54.02 L166.57 56.14 L167.69 56.43 L168.82 58.03 L169.95 60.45 L171.07 61.65 L172.2 62.24 L173.33 65.59 L174.45 67.42 L175.58 68.13 L176.71 71.34 L177.83 72.81 L178.96 74.19 L180.09 78.2 L181.21 79.95 L182.34 82.25 L183.47 83.58 L184.59 85.29 L185.72 87.85 L186.85 89.35 L187.97 93.04 L189.1 94.87 L190.23 96 L191.35 98.91 L192.48 102.49 L193.6 103.33 L194.73 107.12 L195.86 109.97 L196.98 113.38 L198.11 115.98 L199.24 118.46 L200.36 121.03 L201.49 123.48 L202.62 124.89 L203.74 127.18 L204.87 128.62 L206 130.54 L207.12 131.69 L208.25 134.69 L209.38 135.84 L210.5 136.89 L211.63 138.17 L212.76 138.71 L213.88 140.72 L215.01 141.12 L216.14 142.34 L217.26 143.43 L218.39 144.11 L219.52 145.84 L220.64 145.83 L221.77 146.41 L222.9 146.82 L224.02 148.58 L225.15 148.88 L226.28 149.17 L227.4 150.99 L228.53 149.99 L229.66 152.3 L230.78 152.4 L231.91 153.16 L233.04 154.16 L234.16 154.94 L235.29 155.3 L236.42 154.97 L237.54 155.29 L238.67 154.7 L239.8 155.48 L240.92 156.39 L242.05 155.46 L243.18 156.83 L244.3 156.62 L245.43 156.52 L246.56 156.87 L247.68 157.05 L248.81 158.21 L249.93 157.96 L251.06 158.23 L252.19 158.44 L253.31 158.66 L254.44 158.95 L255.57 158.93 L256.69 159.95 L257.82 159.42 L258.95 158.86 L260.07 161.19 L261.2 160.38 L262.33 161.33 L263.45 161.72 L264.58 161.46 L265.71 162.2 L266.83 161.48 L267.96 161.98 L269.09 162.55 L270.21 162.1 L271.34 163.87 L272.47 164.15 L273.59 164.95 L274.72 164.26 L275.85 163.91 L276.97 164.72 L278.1 165.27 L279.23 165.25 L280.35 166.28 L281.48 167.06 L282.61 166.85 L283.73 167.84 L284.86 167.52 L285.99 168.26 L287.11 168.43 L288.24 169.14 L289.37 168.31 L290.49 169.4 L291.62 168.92 L292.75 168.46 L293.87 170.11 L295 170.21 L296.13 169.98 L297.25 169.63 L298.38 169.62 L299.51 170.55 L300.63 170.3 L301.76 170.1 L302.88 170.48 L304.01 169.85 L305.14 171.7 L306.26 171.15 L307.39 171.31 L308.52 171.45 L309.64 172.75 L310.77 172.08 L311.9 172.04 L313.02 171.77 L314.15 172.26 L315.28 172.08 L316.4 173.49 L317.53 173.31 L318.66 173.03 L319.78 172.92"/>
<path d="M112.49 59.91 L113.62 60.29 L114.74 58.36 L115.87 57.62 L117 56.19 L118.12 55 L119.25 55.05 L120.38 52.75 L121.5 52.87 L122.63 52.22 L123.76 50.37 L124.88 50.09 L126.01 49.49 L127.14 47 L128.26 46.6 L129.39 44.36 L130.52 43.64 L131.64 44.4 L132.77 43.72 L133.9 41.52 L135.02 41.55 L136.15 40.93 L137.27 39.75 L138.4 40.73 L139.53 39.05 L140.65 39.51 L141.78 38.04 L142.91 37.87 L144.03 38.11 L145.16 38.13 L146.29 37.65 L147.41 37.96 L148.54 38.27 L149.67 39.98 L150.79 39.49 L151.92 39.89 L153.05 40.14 L154.17 39.86 L155.3 41.01 L156.43 43.33 L157.55 43.48 L158.68 45.46 L159.81 46.43 L160.93 46.96 L162.06 47.92 L163.19 50.11 L164.31 51.26 L165.44 51.64 L166.57 53.17 L167.69 55.53 L168.82 57.26 L169.95 59.42 L171.07 60.79 L172.2 60.99 L173.33 63.55 L174.45 65.63 L175.58 67.47 L176.71 70.14 L177.83 72.59 L178.96 72.97 L180.09 76.17 L181.21 79.24 L182.34 80.59 L183.47 82.96 L184.59 84.74 L185.72 86.91 L186.85 89.14 L187.97 91.09 L189.1 93.16 L190.23 96.13 L191.35 98.51 L192.48 101.46 L193.6 103.82 L194.73 107.32 L195.86 109.95 L196.98 113.04 L198.11 116.13 L199.24 118.41 L200.36 121.03 L201.49 123.2 L202.62 124.94 L203.74 128.31 L204.87 129.08 L206 131.43 L207.12 133.05 L208.25 135.04 L209.38 135.46 L210.5 136.61 L211.63 138.25 L212.76 139.83 L213.88 141.06 L215.01 142.44 L216.14 142.19 L217.26 142.92 L218.39 145.54 L219.52 146.25 L220.64 145.82 L221.77 148.07 L222.9 147.57 L224.02 148.98 L225.15 149.26 L226.28 150.62 L227.4 151.39 L228.53 151.33 L229.66 152.75 L230.78 152.7 L231.91 154.31 L233.04 153.63 L234.16 154.12 L235.29 155.32 L236.42 155.81 L237.54 156.15 L238.67 156.9 L239.8 155.78 L240.92 156.02 L242.05 157.27 L243.18 157.01 L244.3 156.98 L245.43 157.8 L246.56 158.88 L247.68 158.51 L248.81 158.88 L249.93 157.35 L251.06 158.85 L252.19 157.91 L253.31 158.98 L254.44 159.29 L255.57 160.45 L256.69 159.32 L257.82 161.16 L258.95 160.09 L260.07 161.87 L261.2 161.8 L262.33 161.37 L263.45 161.97 L264.58 160.9 L265.71 161.95 L266.83 161.62 L267.96 161.72 L269.09 162.81 L270.21 163.06 L271.34 163.52 L272.47 163.32 L273.59 164.18 L274.72 165.14 L275.85 164.76 L276.97 165.52 L278.1 165.64 L279.23 165.8 L280.35 166.02 L281.48 166.53 L282.61 166.86 L283.73 166.69 L284.86 168.02 L285.99 168.31 L287.11 168.88 L288.24 169.21 L289.37 167.8 L290.49 169.32 L291.62 169.44 L292.75 169.32 L293.87 169.94 L295 170.14 L296.13 170 L297.25 170.54 L298.38 169.89 L299.51 170.32 L300.63 171.53 L301.76 170.86 L302.88 171.71 L304.01 170.21 L305.14 172.28 L306.26 172.24 L307.39 171.26 L308.52 171.42 L309.64 171.77 L310.77 172.38 L311.9 171.77 L313.02 172.67 L314.15 172.53 L315.28 172.72 L316.4 172.59 L317.53 173.54 L318.66 174.04 L319.78 173.96"/>
<path d="M112.49 60.34 L113.62 59 L114.74 58.79 L115.87 57.32 L117 55.59 L118.12 54.64 L119.25 54.19 L120.38 53.29 L121.5 51.65 L122.63 49.67 L123.76 49.05 L124.88 48.94 L126.01 47.63 L127.14 46.08 L128.26 45.41 L129.39 44.2 L130.52 42.45 L131.64 41.71 L132.77 41.52 L133.9 40.67 L135.02 40.57 L136.15 39.78 L137.27 38.35 L138.4 39 L139.53 37.2 L140.65 36.53 L141.78 37.81 L142.91 37.5 L144.03 36.94 L145.16 35.64 L146.29 35.93 L147.41 37.34 L148.54 37.2 L149.67 37.75 L150.79 37.88 L151.92 37.09 L153.05 39.03 L154.17 38.53 L155.3 39.36 L156.43 41.19 L157.55 41.27 L158.68 42.89 L159.81 44.97 L160.93 45.1 L162.06 47.52 L163.19 47.92 L164.31 50.46 L165.44 51.04 L166.57 52.41 L167.69 53.64 L168.82 55.07 L169.95 58.07 L171.07 58.38 L172.2 59.83 L173.33 62.49 L174.45 65.69 L175.58 66.66 L176.71 69.37 L177.83 71.31 L178.96 72.22 L180.09 75.42 L181.21 77.29 L182.34 81.02 L183.47 82.92 L184.59 83.9 L185.72 87.07 L186.85 89.24 L187.97 91.99 L189.1 94.27 L190.23 95.64 L191.35 98.24 L192.48 101 L193.6 103.16 L194.73 107.11 L195.86 110.76 L196.98 112.21 L198.11 115.94 L199.24 118.86 L200.36 121.64 L201.49 123.84 L202.62 126.32 L203.74 128.5 L204.87 129.77 L206 131.8 L207.12 133.73 L208.25 134.58 L209.38 137.07 L210.5 136.95 L211.63 138.44 L212.76 140.03 L213.88 140.67 L215.01 143 L216.14 143.49 L217.26 143.48 L218.39 145.09 L219.52 146.22 L220.64 146.95 L221.77 147.55 L222.9 148.65 L224.02 148.63 L225.15 149.05 L226.28 149.83 L227.4 151.06 L228.53 151.33 L229.66 152.87 L230.78 153.49 L231.91 153.78 L233.04 154.28 L234.16 154.54 L235.29 154.82 L236.42 156.49 L237.54 155.47 L238.67 156.38 L239.8 156.56 L240.92 155.91 L242.05 157.64 L243.18 157.39 L244.3 157.8 L245.43 157.11 L246.56 159.07 L247.68 158.68 L248.81 159.67 L249.93 158.15 L251.06 159.03 L252.19 158.65 L253.31 160.37 L254.44 159.14 L255.57 161.06 L256.69 160.74 L257.82 160.41 L258.95 159.9 L260.07 161.05 L261.2 161.84 L262.33 162.31 L263.45 161.35 L264.58 161.71 L265.71 163.2 L266.83 161.88 L267.96 162.8 L269.09 164.39 L270.21 163.65 L271.34 164.04 L272.47 164.79 L273.59 164.07 L274.72 164.03 L275.85 165.73 L276.97 165.71 L278.1 166.3 L279.23 166.1 L280.35 167.26 L281.48 167.16 L282.61 167.74 L283.73 167.51 L284.86 167.61 L285.99 167.7 L287.11 167.49 L288.24 168.03 L289.37 168.07 L290.49 168.57 L291.62 169.98 L292.75 169.88 L293.87 170.29 L295 169.67 L296.13 170.47 L297.25 170.67 L298.38 169.79 L299.51 171.34 L300.63 171.65 L301.76 171.81 L302.88 171.65 L304.01 170.62 L305.14 171.06 L306.26 172.78 L307.39 172.34 L308.52 172.17 L309.64 171.7 L310.77 171.66 L311.9 172.37 L313.02 172.98 L314.15 171.77 L315.28 171.59 L316.4 172.66 L317.53 173.03 L318.66 173.11 L319.78 173.1"/>
<path d="M112.49 60.48 L113.62 58 L114.74 57.27 L115.87 55.38 L117 54.76 L118.12 54.12 L119.25 52.56 L120.38 51.25 L121.5 50.38 L122.63 50.01 L123.76 49.31 L124.88 46.99 L126.01 46.4 L127.14 44.91 L128.26 44.1 L129.39 42.19 L130.52 40.71 L131.64 40 L132.77 39.4 L133.9 39.33 L135.02 37.59 L136.15 37.08 L137.27 36.73 L138.4 36.63 L139.53 36.15 L140.65 35.62 L141.78 36.12 L142.91 34.95 L144.03 35.7 L145.16 34.1 L146.29 33.94 L147.41 35.01 L148.54 35.25 L149.67 35.28 L150.79 35.36 L151.92 35.41 L153.05 36.13 L154.17 37.58 L155.3 39.42 L156.43 39.65 L157.55 40.34 L158.68 41.55 L159.81 42.75 L160.93 44.79 L162.06 46.48 L163.19 46.52 L164.31 48.25 L165.44 48.55 L166.57 50.89 L167.69 52.39 L168.82 53.72 L169.95 55.52 L171.07 58.03 L172.2 58.7 L173.33 61.66 L174.45 64.77 L175.58 65.65 L176.71 68.38 L177.83 69.45 L178.96 72.39 L180.09 75.22 L181.21 76.8 L182.34 80.29 L183.47 82.16 L184.59 83.88 L185.72 86.86 L186.85 88.03 L187.97 90.82 L189.1 92.44 L190.23 95.29 L191.35 97.03 L192.48 100.94 L193.6 102.84 L194.73 106.88 L195.86 110.46 L196.98 112.61 L198.11 114.72 L199.24 119.04 L200.36 121.32 L201.49 123.31 L202.62 125.92 L203.74 128.11 L204.87 130.26 L206 131.52 L207.12 133.45 L208.25 134.19 L209.38 135.98 L210.5 137.53 L211.63 138.31 L212.76 139.59 L213.88 140.62 L215.01 143.29 L216.14 143.8 L217.26 143.92 L218.39 144.97 L219.52 145.74 L220.64 146.59 L221.77 149.01 L222.9 148.96 L224.02 149.35 L225.15 149.89 L226.28 151.61 L227.4 151.07 L228.53 152.06 L229.66 153.66 L230.78 153.14 L231.91 154.58 L233.04 155.53 L234.16 155.25 L235.29 156.32 L236.42 156.64 L237.54 156.7 L238.67 156.84 L239.8 157.48 L240.92 156.77 L242.05 156.55 L243.18 156.91 L244.3 157.31 L245.43 157.58 L246.56 159.33 L247.68 158.63 L248.81 160.18 L249.93 158.87 L251.06 160.17 L252.19 160.18 L253.31 159.64 L254.44 160.88 L255.57 160.2 L256.69 160.6 L257.82 162.1 L258.95 160.44 L260.07 162.69 L261.2 161.13 L262.33 161.37 L263.45 162.08 L264.58 162.56 L265.71 163.59 L266.83 162.62 L267.96 163.98 L269.09 163.83 L270.21 163.16 L271.34 163.73 L272.47 165.05 L273.59 164.63 L274.72 164.7 L275.85 165.62 L276.97 165.37 L278.1 165.99 L279.23 166.78 L280.35 166.74 L281.48 167.48 L282.61 168.16 L283.73 166.98 L284.86 167.96 L285.99 167.58 L287.11 168.69 L288.24 169.52 L289.37 169.85 L290.49 168.51 L291.62 169.23 L292.75 168.75 L293.87 170.23 L295 170.86 L296.13 171.41 L297.25 171.36 L298.38 170.62 L299.51 170.94 L300.63 170.14 L301.76 171.6 L302.88 171.75 L304.01 171.67 L305.14 172.43 L306.26 172.95 L307.39 172.03 L308.52 172 L309.64 172.58 L310.77 171.71 L311.9 172.42 L313.02 171.84 L314.15 172.68 L315.28 173.27 L316.4 174.01 L317.53 172.93 L318.66 173.02 L319.78 174.51"/>
<path d="M112.49 59.69 L113.62 57.91 L114.74 58.21 L115.87 55.42 L117 54.17 L118.12 52.68 L119.25 51.09 L120.38 50.57 L121.5 50.24 L122.63 49.09 L123.76 47.65 L124.88 46.33 L126.01 44.94 L127.14 44.2 L128.26 42.28 L129.39 41.18 L130.52 40.82 L131.64 40.34 L132.77 37.88 L133.9 36.79 L135.02 36.47 L136.15 36.36 L137.27 35.16 L138.4 36.28 L139.53 34.35 L140.65 33.41 L141.78 34.73 L142.91 34.97 L144.03 34.43 L145.16 34.02 L146.29 33 L147.41 34 L148.54 34.37 L149.67 35.4 L150.79 34.81 L151.92 35.5 L153.05 36.57 L154.17 36.29 L155.3 37.28 L156.43 38.31 L157.55 39.02 L158.68 41.86 L159.81 42.33 L160.93 44.24 L162.06 44.69 L163.19 47.04 L164.31 46.94 L165.44 48.23 L166.57 49.68 L167.69 52.22 L168.82 52.68 L169.95 55.03 L171.07 56.64 L172.2 58.15 L173.33 61.3 L174.45 63.53 L175.58 65.51 L176.71 67.06 L177.83 69.81 L178.96 70.81 L180.09 74.69 L181.21 76.78 L182.34 78.48 L183.47 80.56 L184.59 82.83 L185.72 85.13 L186.85 87.08 L187.97 90.73 L189.1 92.43 L190.23 95.47 L191.35 97.27 L192.48 99.33 L193.6 102.64 L194.73 106.8 L195.86 109.28 L196.98 112.85 L198.11 115.34 L199.24 119.29 L200.36 121.35 L201.49 122.74 L202.62 125.06 L203.74 127.57 L204.87 129.63 L206 131.44 L207.12 133.97 L208.25 134.38 L209.38 136.5 L210.5 138.23 L211.63 139.3 L212.76 140.52 L213.88 142.04 L215.01 143.4 L216.14 144.13 L217.26 144.74 L218.39 146.47 L219.52 146.28 L220.64 147.15 L221.77 148.03 L222.9 149.26 L224.02 150.45 L225.15 150.75 L226.28 150.65 L227.4 152.04 L228.53 152.11 L229.66 153.31 L230.78 155.09 L231.91 155.2 L233.04 155.19 L234.16 155.24 L235.29 155.41 L236.42 156.28 L237.54 157.07 L238.67 158.12 L239.8 157.35 L240.92 157.51 L242.05 156.79 L243.18 158.58 L244.3 158.8 L245.43 159.46 L246.56 160.01 L247.68 158.94 L248.81 159.07 L249.93 159.9 L251.06 160.55 L252.19 159.61 L253.31 161.16 L254.44 160.29 L255.57 160.12 L256.69 160.47 L257.82 161.86 L258.95 161.02 L260.07 162.53 L261.2 161.6 L262.33 162.6 L263.45 161.65 L264.58 162.37 L265.71 162.29 L266.83 163.46 L267.96 162.57 L269.09 163.94 L270.21 164.54 L271.34 163.98 L272.47 164.89 L273.59 165.89 L274.72 166.04 L275.85 165.29 L276.97 166.47 L278.1 167 L279.23 166.29 L280.35 167.57 L281.48 166.77 L282.61 168.33 L283.73 168.04 L284.86 167.06 L285.99 167.61 L287.11 167.98 L288.24 168.25 L289.37 168.9 L290.49 168.68 L291.62 169.57 L292.75 169.57 L293.87 170.81 L295 170.41 L296.13 170.8 L297.25 171.11 L298.38 170.67 L299.51 170.62 L300.63 170.66 L301.76 171.83 L302.88 172.22 L304.01 171.51 L305.14 172.02 L306.26 171.6 L307.39 172.03 L308.52 171.92 L309.64 172.26 L310.77 172.51 L311.9 171.86 L313.02 172.41 L314.15 172.74 L315.28 173.13 L316.4 173.94 L317.53 173.33 L318.66 173.1 L319.78 173.02"/>
<path d="M112.49 58.9 L113.62 58.71 L114.74 56.19 L115.87 54.26 L117 53.77 L118.12 51.66 L119.25 51.07 L120.38 50.46 L121.5 49.77 L122.63 48.64 L123.76 46.64 L124.88 44.69 L126.01 43.92 L127.14 42.02 L128.26 41.75 L129.39 39.59 L130.52 38.8 L131.64 38.38 L132.77 37.5 L133.9 36.04 L135.02 35.95 L136.15 35.78 L137.27 34.58 L138.4 34.21 L139.53 33.74 L140.65 32.22 L141.78 33.11 L142.91 33.54 L144.03 32.61 L145.16 32.41 L146.29 33 L147.41 32.38 L148.54 33.78 L149.67 33.23 L150.79 34.54 L151.92 33.74 L153.05 33.97 L154.17 36.14 L155.3 35.88 L156.43 38.71 L157.55 37.76 L158.68 39.51 L159.81 41.11 L160.93 42.43 L162.06 43.83 L163.19 45.9 L164.31 46.97 L165.44 47.8 L166.57 48.74 L167.69 52.07 L168.82 52.56 L169.95 54.91 L171.07 56.39 L172.2 57.47 L173.33 59.94 L174.45 62.93 L175.58 63.31 L176.71 66.77 L177.83 69.61 L178.96 71.06 L180.09 73.17 L181.21 76.99 L182.34 78.41 L183.47 80.98 L184.59 83.25 L185.72 86.02 L186.85 87.93 L187.97 90.09 L189.1 92.45 L190.23 94.21 L191.35 97.69 L192.48 99.64 L193.6 102.44 L194.73 105.43 L195.86 108.67 L196.98 112.38 L198.11 114.28 L199.24 118.35 L200.36 121.41 L201.49 123.68 L202.62 125.1 L203.74 128.33 L204.87 129.28 L206 131.85 L207.12 132.66 L208.25 135.44 L209.38 136.12 L210.5 138.35 L211.63 139.04 L212.76 140.52 L213.88 141.44 L215.01 142.88 L216.14 143.52 L217.26 144.05 L218.39 145.65 L219.52 147.85 L220.64 146.75 L221.77 149.81 L222.9 150.42 L224.02 149.57 L225.15 151.04 L226.28 152.37 L227.4 153.06 L228.53 152.68 L229.66 153.24 L230.78 155.44 L231.91 155.56 L233.04 156.23 L234.16 156.93 L235.29 156.82 L236.42 156.75 L237.54 156.11 L238.67 157.35 L239.8 157.12 L240.92 157.47 L242.05 157.11 L243.18 158.04 L244.3 159.02 L245.43 159.11 L246.56 159.49 L247.68 160.45 L248.81 159.26 L249.93 159.6 L251.06 160.5 L252.19 160.03 L253.31 160.44 L254.44 161.16 L255.57 160.96 L256.69 161.9 L257.82 162.19 L258.95 162.02 L260.07 162.4 L261.2 161.97 L262.33 162.89 L263.45 162.21 L264.58 162.77 L265.71 162.76 L266.83 162.53 L267.96 163.88 L269.09 163.41 L270.21 164.39 L271.34 164.41 L272.47 165.31 L273.59 166.12 L274.72 165.14 L275.85 166.35 L276.97 167 L278.1 167.18 L279.23 166.86 L280.35 167.62 L281.48 167.78 L282.61 167.59 L283.73 168.03 L284.86 168.57 L285.99 168 L287.11 167.82 L288.24 169 L289.37 169.3 L290.49 169.5 L291.62 169.55 L292.75 169.23 L293.87 170.1 L295 170.75 L296.13 170.54 L297.25 171.47 L298.38 171.68 L299.51 171.35 L300.63 171.71 L301.76 171.33 L302.88 171.86 L304.01 170.59 L305.14 172.12 L306.26 171.75 L307.39 171.42 L308.52 172.13 L309.64 172.06 L310.77 172.71 L311.9 172.45 L313.02 173.27 L314.15 172.64 L315.28 172.01 L316.4 173.04 L317.53 173.64 L318.66 173.83 L319.78 174.16"/>
<path d="M112.49 58.66 L113.62 57.6 L114.74 57.46 L115.87 54.24 L117 54.06 L118.12 52.47 L119.25 50.2 L120.38 49.13 L121.5 48.8 L122.63 47.01 L123.76 45.45 L124.88 44.03 L126.01 43.16 L127.14 42.13 L128.26 41.41 L129.39 39.55 L130.52 37.9 L131.64 37.39 L132.77 36.59 L133.9 35.02 L135.02 34.85 L136.15 33.69 L137.27 33.93 L138.4 32.83 L139.53 32.42 L140.65 31.24 L141.78 31.07 L142.91 31.23 L144.03 31.02 L145.16 30.69 L146.29 31.2 L147.41 32.4 L148.54 32.8 L149.67 32.21 L150.79 33.3 L151.92 32.48 L153.05 33.7 L154.17 34.18 L155.3 35.62 L156.43 37.3 L157.55 37.97 L158.68 38.91 L159.81 39.38 L160.93 42.05 L162.06 43.17 L163.19 44.5 L164.31 45.96 L165.44 46.61 L166.57 48.11 L167.69 50.11 L168.82 51.3 L169.95 53.7 L171.07 54.91 L172.2 57.37 L173.33 59.54 L174.45 61.7 L175.58 63.83 L176.71 65.78 L177.83 68.8 L178.96 70.52 L180.09 73.29 L181.21 75.96 L182.34 79.1 L183.47 80.93 L184.59 82.51 L185.72 84.24 L186.85 87.74 L187.97 88.92 L189.1 91.14 L190.23 93.56 L191.35 97.39 L192.48 100.44 L193.6 101.48 L194.73 106.49 L195.86 109.37 L196.98 110.96 L198.11 114.67 L199.24 117.74 L200.36 120.44 L201.49 123.76 L202.62 125.45 L203.74 128.96 L204.87 129.87 L206 131.51 L207.12 132.85 L208.25 135.54 L209.38 136.64 L210.5 139.06 L211.63 139.49 L212.76 141.64 L213.88 141.56 L215.01 143.04 L216.14 143.49 L217.26 145.24 L218.39 145.56 L219.52 146.99 L220.64 147.76 L221.77 148.57 L222.9 150.48 L224.02 150.78 L225.15 150.84 L226.28 151.65 L227.4 151.97 L228.53 152.65 L229.66 154.94 L230.78 154.1 L231.91 155.33 L233.04 156.19 L234.16 155.98 L235.29 156.56 L236.42 156.4 L237.54 157.14 L238.67 158.33 L239.8 158.08 L240.92 157.98 L242.05 158.39 L243.18 158.48 L244.3 159.47 L245.43 159.6 L246.56 160.41 L247.68 160.88 L248.81 160.24 L249.93 159.42 L251.06 160.41 L252.19 159.58 L253.31 161.06 L254.44 160.74 L255.57 161.76 L256.69 160.73 L257.82 162.26 L258.95 161.11 L260.07 163.11 L261.2 161.75 L262.33 162.33 L263.45 163.34 L264.58 162.74 L265.71 164.04 L266.83 163.83 L267.96 164.01 L269.09 164.78 L270.21 164.75 L271.34 165.22 L272.47 165.1 L273.59 166.28 L274.72 165.05 L275.85 166.08 L276.97 165.96 L278.1 166.73 L279.23 166.24 L280.35 166.56 L281.48 167.14 L282.61 167.6 L283.73 167.33 L284.86 167.32 L285.99 168.6 L287.11 168.66 L288.24 170.1 L289.37 169.57 L290.49 169.99 L291.62 169.8 L292.75 170.81 L293.87 170.27 L295 171.16 L296.13 171.27 L297.25 170.9 L298.38 170.52 L299.51 171.23 L300.63 171.87 L301.76 171.24 L302.88 172.05 L304.01 171.26 L305.14 172.25 L306.26 171.6 L307.39 172.39 L308.52 172.55 L309.64 172.97 L310.77 171.98 L311.9 172.63 L313.02 173.15 L314.15 172.96 L315.28 172.54 L316.4 172.68 L317.53 174.15 L318.66 174.27 L319.78 173.6"/>
<path d="M112.49 58.1 L113.62 56.83 L114.74 55.43 L115.87 54.23 L117 52.42 L118.12 51.29 L119.25 50.14 L120.38 49.53 L121.5 47.37 L122.63 46.36 L123.76 44.85 L124.88 44.15 L126.01 42.65 L127.14 41.3 L128.26 39.2 L129.39 38.02 L130.52 37.29 L131.64 36.01 L132.77 35.41 L133.9 34.56 L135.02 34.06 L136.15 33.72 L137.27 33.43 L138.4 33.12 L139.53 30.52 L140.65 30.1 L141.78 30.71 L142.91 29.89 L144.03 30.29 L145.16 29.58 L146.29 30.86 L147.41 30.94 L148.54 30.78 L149.67 31.55 L150.79 31.47 L151.92 31.87 L153.05 32.45 L154.17 33.84 L155.3 34.49 L156.43 35.96 L157.55 36.59 L158.68 39.07 L159.81 39.56 L160.93 40.42 L162.06 42.52 L163.19 43.56 L164.31 44.09 L165.44 45.8 L166.57 47.32 L167.69 49.3 L168.82 50.23 L169.95 53.54 L171.07 55.2 L172.2 56.13 L173.33 59.61 L174.45 61.39 L175.58 63.3 L176.71 65.68 L177.83 67.69 L178.96 69.46 L180.09 72.82 L181.21 74.91 L182.34 78.53 L183.47 79.83 L184.59 81.31 L185.72 84.45 L186.85 86.75 L187.97 89.27 L189.1 91.81 L190.23 94.34 L191.35 97.24 L192.48 98.8 L193.6 101.88 L194.73 106.33 L195.86 108.61 L196.98 110.98 L198.11 114.57 L199.24 118.76 L200.36 120.15 L201.49 123.7 L202.62 125.43 L203.74 128.34 L204.87 130.31 L206 132 L207.12 134.08 L208.25 135.89 L209.38 137.91 L210.5 138.34 L211.63 138.96 L212.76 141.51 L213.88 141.12 L215.01 143.56 L216.14 144.18 L217.26 144.59 L218.39 146.33 L219.52 147.71 L220.64 147.71 L221.77 149.08 L222.9 150.53 L224.02 151.46 L225.15 150.8 L226.28 151.68 L227.4 152.89 L228.53 153.93 L229.66 154.01 L230.78 155.76 L231.91 155.04 L233.04 155.75 L234.16 156.5 L235.29 157.84 L236.42 157.56 L237.54 157.11 L238.67 158.88 L239.8 159.14 L240.92 158.36 L242.05 157.79 L243.18 158.68 L244.3 159.61 L245.43 160.19 L246.56 159.42 L247.68 159.71 L248.81 160.21 L249.93 160.63 L251.06 160.07 L252.19 161.43 L253.31 162.1 L254.44 161.61 L255.57 160.84 L256.69 162.52 L257.82 162.85 L258.95 161.56 L260.07 162.45 L261.2 163.21 L262.33 163.64 L263.45 162.38 L264.58 162.55 L265.71 162.93 L266.83 163.72 L267.96 164.74 L269.09 164.27 L270.21 164.44 L271.34 164.23 L272.47 164.65 L273.59 165.74 L274.72 164.9 L275.85 166.05 L276.97 166.6 L278.1 166.51 L279.23 166.73 L280.35 167.22 L281.48 166.87 L282.61 168.74 L283.73 167.5 L284.86 167.54 L285.99 168.84 L287.11 169.78 L288.24 169.28 L289.37 169.23 L290.49 168.99 L291.62 170.03 L292.75 169.66 L293.87 170.37 L295 171.11 L296.13 170.95 L297.25 171.09 L298.38 171.73 L299.51 171.97 L300.63 171.59 L301.76 171.22 L302.88 171.58 L304.01 171.88 L305.14 172.98 L306.26 171.99 L307.39 171.95 L308.52 171.64 L309.64 172.22 L310.77 173.65 L311.9 172.85 L313.02 172.86 L314.15 173.47 L315.28 172.36 L316.4 174.08 L317.53 174.36 L318.66 174.15 L319.78 174.89"/>
<path d="M112.49 58.85 L113.62 56.59 L114.74 55.44 L115.87 53.85 L117 52.64 L118.12 51.25 L119.25 50.29 L120.38 48.98 L121.5 46.25 L122.63 45.85 L123.76 45.22 L124.88 41.62 L126.01 41.58 L127.14 39.17 L128.26 38.75 L129.39 36.14 L130.52 36.61 L131.64 35.5 L132.77 34.12 L133.9 33.95 L135.02 32.04 L136.15 32.01 L137.27 31.21 L138.4 31.91 L139.53 30.95 L140.65 30.36 L141.78 29.13 L142.91 28.75 L144.03 28.49 L145.16 28.72 L146.29 29.76 L147.41 29.22 L148.54 29.85 L149.67 29.78 L150.79 30.4 L151.92 30.38 L153.05 32.24 L154.17 32.92 L155.3 34.2 L156.43 34.96 L157.55 36.02 L158.68 36.51 L159.81 38.95 L160.93 39.41 L162.06 41.69 L163.19 43.33 L164.31 43.35 L165.44 45.64 L166.57 46.74 L167.69 48.83 L168.82 50.46 L169.95 52.85 L171.07 54.92 L172.2 55.53 L173.33 58.33 L174.45 60.52 L175.58 61.72 L176.71 65.96 L177.83 67.7 L178.96 69.84 L180.09 71.58 L181.21 74.58 L182.34 77.89 L183.47 79.77 L184.59 82.53 L185.72 84.25 L186.85 87.13 L187.97 89.59 L189.1 91.32 L190.23 93.4 L191.35 96.93 L192.48 98.91 L193.6 102 L194.73 104.94 L195.86 109.42 L196.98 110.79 L198.11 114.78 L199.24 118.65 L200.36 121.23 L201.49 122.86 L202.62 126.14 L203.74 127.56 L204.87 130.26 L206 131.84 L207.12 134.4 L208.25 135.52 L209.38 136.44 L210.5 139.33 L211.63 140.02 L212.76 141.2 L213.88 141.89 L215.01 144.28 L216.14 144.84 L217.26 145.41 L218.39 147.31 L219.52 148.74 L220.64 148.07 L221.77 149.12 L222.9 149.92 L224.02 150.35 L225.15 152.01 L226.28 152.74 L227.4 153.18 L228.53 153.35 L229.66 154.51 L230.78 155.39 L231.91 156.34 L233.04 156.73 L234.16 157.77 L235.29 158.17 L236.42 157.48 L237.54 158.55 L238.67 157.81 L239.8 157.8 L240.92 159.12 L242.05 157.87 L243.18 158.98 L244.3 160.29 L245.43 159.93 L246.56 160.54 L247.68 160.94 L248.81 161.6 L249.93 160.85 L251.06 161.64 L252.19 160.92 L253.31 161.82 L254.44 162.03 L255.57 161.16 L256.69 161.28 L257.82 162.51 L258.95 161.69 L260.07 163.42 L261.2 162.59 L262.33 162.64 L263.45 163.51 L264.58 163.18 L265.71 164.14 L266.83 164.64 L267.96 164.36 L269.09 165.58 L270.21 164.52 L271.34 165.44 L272.47 165.3 L273.59 165.37 L274.72 165.75 L275.85 165.43 L276.97 166.26 L278.1 166.57 L279.23 166.96 L280.35 167.19 L281.48 167.05 L282.61 168.31 L283.73 168.05 L284.86 168.25 L285.99 168.64 L287.11 168.29 L288.24 169.94 L289.37 170.11 L290.49 169.92 L291.62 170.58 L292.75 169.79 L293.87 170.7 L295 171.51 L296.13 171.87 L297.25 170.88 L298.38 171.52 L299.51 171.35 L300.63 171.51 L301.76 172.42 L302.88 171.44 L304.01 170.83 L305.14 173.01 L306.26 172.39 L307.39 172.29 L308.52 172.13 L309.64 172.81 L310.77 172.96 L311.9 171.69 L313.02 172.23 L314.15 173.32 L315.28 172.48 L316.4 173.35 L317.53 173.06 L318.66 173.28 L319.78 174.95"/>
<path d="M112.49 59.17 L113.62 56.73 L114.74 55.08 L115.87 54.17 L117 51.87 L118.12 49.55 L119.25 49.15 L120.38 47.57 L121.5 45.64 L122.63 45.57 L123.76 42.87 L124.88 41.11 L126.01 40.04 L127.14 38.98 L128.26 37.69 L129.39 35.17 L130.52 35.6 L131.64 35.13 L132.77 33.06 L133.9 31.23 L135.02 32.3 L136.15 31.17 L137.27 30.47 L138.4 29.52 L139.53 28.95 L140.65 28.2 L141.78 29.29 L142.91 28.92 L144.03 27.94 L145.16 27.25 L146.29 28.64 L147.41 29.32 L148.54 29.08 L149.67 29.32 L150.79 29.83 L151.92 30 L153.05 31.35 L154.17 31 L155.3 31.64 L156.43 33.6 L157.55 33.93 L158.68 37 L159.81 37 L160.93 39.17 L162.06 39.49 L163.19 41.56 L164.31 43.03 L165.44 43.57 L166.57 45.28 L167.69 48.83 L168.82 49.62 L169.95 52.57 L171.07 53.45 L172.2 55.67 L173.33 57.09 L174.45 60.32 L175.58 62.56 L176.71 63.95 L177.83 67.68 L178.96 69.48 L180.09 71.83 L181.21 75.11 L182.34 76.43 L183.47 78.9 L184.59 81.96 L185.72 83.69 L186.85 86.67 L187.97 88.55 L189.1 91.73 L190.23 93.55 L191.35 96.23 L192.48 98.71 L193.6 101.15 L194.73 104.32 L195.86 108.72 L196.98 111.49 L198.11 115.06 L199.24 117.54 L200.36 121.01 L201.49 123.54 L202.62 125.96 L203.74 128.45 L204.87 129.23 L206 131.87 L207.12 133.2 L208.25 135.63 L209.38 137.27 L210.5 139.38 L211.63 139.8 L212.76 141.09 L213.88 143.1 L215.01 143.96 L216.14 145.02 L217.26 146.21 L218.39 147.39 L219.52 148.7 L220.64 148.55 L221.77 150.86 L222.9 151.21 L224.02 151.68 L225.15 152.35 L226.28 152.1 L227.4 153.32 L228.53 153.16 L229.66 155.68 L230.78 156.34 L231.91 156.5 L233.04 156.55 L234.16 156.75 L235.29 157.09 L236.42 157.28 L237.54 158.97 L238.67 159.61 L239.8 159.19 L240.92 158.91 L242.05 159.85 L243.18 159.74 L244.3 160.35 L245.43 159.35 L246.56 161.08 L247.68 161.2 L248.81 161.69 L249.93 160.05 L251.06 161.75 L252.19 161.21 L253.31 162.55 L254.44 162.28 L255.57 161.3 L256.69 161.84 L257.82 162.35 L258.95 162.74 L260.07 162.57 L261.2 162.46 L262.33 163.13 L263.45 163.96 L264.58 164.64 L265.71 164.02 L266.83 164.3 L267.96 163.79 L269.09 164.22 L270.21 164.54 L271.34 165.65 L272.47 164.63 L273.59 165.9 L274.72 166.91 L275.85 166.84 L276.97 166.01 L278.1 166.55 L279.23 167.11 L280.35 167.38 L281.48 168.78 L282.61 167.84 L283.73 168.82 L284.86 167.99 L285.99 168.75 L287.11 169.22 L288.24 169.66 L289.37 168.94 L290.49 169.44 L291.62 170.55 L292.75 169.65 L293.87 171.63 L295 171 L296.13 171.78 L297.25 171.99 L298.38 171.61 L299.51 172.65 L300.63 170.72 L301.76 171.27 L302.88 171.91 L304.01 172.54 L305.14 172.8 L306.26 172.21 L307.39 172.95 L308.52 173.14 L309.64 173.04 L310.77 172.93 L311.9 173.31 L313.02 173.19 L314.15 173.2 L315.28 172.69 L316.4 173.91 L317.53 172.82 L318.66 174.69 L319.78 173.84"/>
<path d="M112.49 57.43 L113.62 56.55 L114.74 54.62 L115.87 53.64 L117 51.59 L118.12 50.23 L119.25 48.3 L120.38 46.52 L121.5 44.61 L122.63 43.24 L123.76 42.08 L124.88 39.88 L126.01 39.12 L127.14 37.32 L128.26 37.41 L129.39 35.09 L130.52 33.8 L131.64 34.03 L132.77 31.53 L133.9 31.18 L135.02 31.04 L136.15 30.24 L137.27 29.21 L138.4 29.19 L139.53 27.13 L140.65 27.1 L141.78 27.48 L142.91 27.86 L144.03 27.76 L145.16 26.18 L146.29 26.6 L147.41 27.49 L148.54 27.63 L149.67 28.22 L150.79 27.71 L151.92 29.12 L153.05 30.02 L154.17 29.7 L155.3 31.75 L156.43 33.14 L157.55 33.81 L158.68 35.73 L159.81 35.8 L160.93 38.72 L162.06 39.1 L163.19 40.47 L164.31 42.65 L165.44 43.06 L166.57 45.53 L167.69 47.17 L168.82 49.44 L169.95 51.41 L171.07 52.73 L172.2 54.3 L173.33 56.85 L174.45 60.25 L175.58 61.02 L176.71 63.43 L177.83 66.89 L178.96 69.08 L180.09 71.17 L181.21 74.35 L182.34 77.19 L183.47 79.63 L184.59 80.67 L185.72 82.86 L186.85 85.18 L187.97 88.11 L189.1 90.03 L190.23 92.25 L191.35 96.27 L192.48 98.74 L193.6 100.34 L194.73 104.08 L195.86 107.99 L196.98 110.83 L198.11 114.68 L199.24 118.56 L200.36 120.99 L201.49 123.46 L202.62 125.16 L203.74 128.06 L204.87 129.65 L206 131.12 L207.12 134.75 L208.25 136.24 L209.38 138.28 L210.5 139.36 L211.63 139.1 L212.76 141.75 L213.88 142.05 L215.01 144.67 L216.14 145.08 L217.26 145.56 L218.39 147.72 L219.52 148.02 L220.64 148.77 L221.77 150.04 L222.9 151.85 L224.02 151.79 L225.15 151.21 L226.28 153.2 L227.4 154.34 L228.53 153.26 L229.66 155.17 L230.78 155.74 L231.91 156.49 L233.04 156.64 L234.16 157.83 L235.29 158.38 L236.42 158.58 L237.54 158.89 L238.67 158.72 L239.8 159.92 L240.92 159.75 L242.05 159.25 L243.18 158.9 L244.3 159.48 L245.43 159.99 L246.56 160.42 L247.68 161.67 L248.81 161.37 L249.93 161.8 L251.06 161.3 L252.19 162.2 L253.31 163.01 L254.44 162.77 L255.57 162.72 L256.69 162.53 L257.82 163.52 L258.95 163.48 L260.07 164.33 L261.2 162.73 L262.33 162.75 L263.45 162.98 L264.58 164.71 L265.71 164.85 L266.83 163.82 L267.96 165.5 L269.09 165.93 L270.21 165.04 L271.34 164.57 L272.47 164.92 L273.59 165.67 L274.72 166.59 L275.85 166.07 L276.97 166.21 L278.1 166.52 L279.23 166.86 L280.35 167.35 L281.48 167.57 L282.61 168.39 L283.73 168.74 L284.86 168.47 L285.99 168.19 L287.11 169.19 L288.24 170.66 L289.37 169.9 L290.49 169.5 L291.62 170.11 L292.75 170.42 L293.87 170.4 L295 170.39 L296.13 172.06 L297.25 170.94 L298.38 170.89 L299.51 172.75 L300.63 170.88 L301.76 172.06 L302.88 171.35 L304.01 172.72 L305.14 172.8 L306.26 173.13 L307.39 173.18 L308.52 172.24 L309.64 172.48 L310.77 172.89 L311.9 172.01 L313.02 173.75 L314.15 173.77 L315.28 173.39 L316.4 173.32 L317.53 173.36 L318.66 173.48 L319.78 173.72"/>
<path d="M112.49 58.94 L113.62 55.96 L114.74 55.98 L115.87 52.5 L117 50.39 L118.12 49.91 L119.25 47.84 L120.38 46.79 L121.5 45.89 L122.63 42.98 L123.76 42.3 L124.88 39.75 L126.01 39.89 L127.14 37.86 L128.26 36.67 L129.39 33.85 L130.52 34.1 L131.64 33.65 L132.77 31.92 L133.9 30.62 L135.02 29.42 L136.15 28.31 L137.27 29.18 L138.4 27.91 L139.53 27.61 L140.65 26.3 L141.78 26.5 L142.91 27.44 L144.03 26.45 L145.16 26.09 L146.29 26.31 L147.41 26.82 L148.54 26.75 L149.67 27.68 L150.79 27.85 L151.92 27.21 L153.05 28.7 L154.17 30.25 L155.3 31.56 L156.43 32.75 L157.55 32.4 L158.68 35.09 L159.81 35.11 L160.93 36.72 L162.06 38.39 L163.19 40.64 L164.31 41.5 L165.44 43.04 L166.57 44.06 L167.69 46.99 L168.82 48.11 L169.95 50.39 L171.07 52.25 L172.2 54.72 L173.33 56.34 L174.45 59.25 L175.58 60.47 L176.71 63.31 L177.83 66.73 L178.96 68.54 L180.09 71.57 L181.21 72.83 L182.34 76.28 L183.47 78.76 L184.59 79.87 L185.72 82.85 L186.85 84.85 L187.97 88.1 L189.1 91.2 L190.23 92.94 L191.35 96.46 L192.48 98.57 L193.6 101.15 L194.73 104.79 L195.86 107.3 L196.98 110.92 L198.11 114.92 L199.24 118.35 L200.36 120.32 L201.49 122.93 L202.62 125.55 L203.74 128.35 L204.87 130.07 L206 131.58 L207.12 133.76 L208.25 136.59 L209.38 137.66 L210.5 139.66 L211.63 139.78 L212.76 141.86 L213.88 142.23 L215.01 143.41 L216.14 144.52 L217.26 146 L218.39 147.47 L219.52 149.25 L220.64 148.68 L221.77 150.99 L222.9 151.37 L224.02 151.53 L225.15 152.63 L226.28 152.49 L227.4 154.01 L228.53 153.45 L229.66 156.32 L230.78 156.3 L231.91 156.93 L233.04 156.88 L234.16 157.52 L235.29 157.97 L236.42 157.58 L237.54 158.66 L238.67 159.44 L239.8 158.89 L240.92 159.12 L242.05 159.82 L243.18 159.16 L244.3 160.6 L245.43 161.18 L246.56 160.92 L247.68 160.57 L248.81 160.9 L249.93 160.52 L251.06 161.28 L252.19 161.49 L253.31 162.83 L254.44 162.82 L255.57 162.68 L256.69 162.03 L257.82 163.06 L258.95 162.01 L260.07 163.26 L261.2 163.58 L262.33 163.57 L263.45 163.98 L264.58 163.46 L265.71 163.85 L266.83 165.17 L267.96 164.03 L269.09 165.1 L270.21 165.65 L271.34 165.05 L272.47 165.9 L273.59 166.03 L274.72 166.35 L275.85 166.34 L276.97 166.32 L278.1 166.61 L279.23 167.8 L280.35 168.09 L281.48 167.76 L282.61 168.52 L283.73 169.38 L284.86 168.65 L285.99 169.4 L287.11 169.12 L288.24 170.48 L289.37 170.22 L290.49 170.65 L291.62 170.93 L292.75 170.33 L293.87 170.58 L295 170.65 L296.13 171.36 L297.25 170.89 L298.38 171.79 L299.51 172.05 L300.63 171.44 L301.76 172.5 L302.88 171.57 L304.01 171.16 L305.14 171.85 L306.26 173.6 L307.39 171.99 L308.52 173.05 L309.64 173.7 L310.77 173 L311.9 173.06 L313.02 173.68 L314.15 173.25 L315.28 173.2 L316.4 173.82 L317.53 173.81 L318.66 174.19 L319.78 173.93"/>
<path d="M112.49 57.41 L113.62 57.34 L114.74 55.43 L115.87 51.84 L117 51.18 L118.12 50.14 L119.25 48.12 L120.38 46.55 L121.5 44.71 L122.63 43.4 L123.76 42.22 L124.88 39.89 L126.01 38.66 L127.14 37.34 L128.26 35.66 L129.39 33.77 L130.52 32.61 L131.64 31.85 L132.77 31.25 L133.9 30.38 L135.02 28.7 L136.15 29.07 L137.27 28.5 L138.4 27.91 L139.53 26.94 L140.65 26.71 L141.78 25.58 L142.91 26.46 L144.03 25.75 L145.16 25.2 L146.29 26.33 L147.41 26.48 L148.54 27.18 L149.67 26.88 L150.79 26.92 L151.92 26.63 L153.05 27.71 L154.17 29.87 L155.3 30.49 L156.43 31.56 L157.55 32.93 L158.68 33.62 L159.81 35.32 L160.93 36.43 L162.06 39.06 L163.19 40.16 L164.31 41.16 L165.44 42.03 L166.57 44.46 L167.69 45.96 L168.82 47.51 L169.95 50.5 L171.07 51.75 L172.2 53.78 L173.33 56.82 L174.45 58.1 L175.58 59.89 L176.71 62.82 L177.83 66.42 L178.96 67.57 L180.09 71.72 L181.21 73.42 L182.34 76.4 L183.47 78.46 L184.59 80.71 L185.72 83.07 L186.85 85.43 L187.97 87.48 L189.1 90.1 L190.23 92.96 L191.35 96.11 L192.48 98.73 L193.6 101.25 L194.73 104.78 L195.86 108.04 L196.98 110.42 L198.11 113.41 L199.24 118.15 L200.36 120.96 L201.49 122.9 L202.62 126.25 L203.74 128.11 L204.87 130.75 L206 131.77 L207.12 133.83 L208.25 136.06 L209.38 136.86 L210.5 139.64 L211.63 140.88 L212.76 142.6 L213.88 143.26 L215.01 143.92 L216.14 144.64 L217.26 146.59 L218.39 146.93 L219.52 149.29 L220.64 149.7 L221.77 150.47 L222.9 151.24 L224.02 151.31 L225.15 152.7 L226.28 152.56 L227.4 154 L228.53 154.1 L229.66 155.49 L230.78 156.89 L231.91 156.65 L233.04 156.38 L234.16 158.79 L235.29 158.57 L236.42 158.84 L237.54 159.13 L238.67 158.87 L239.8 159.21 L240.92 160 L242.05 159.19 L243.18 159.38 L244.3 161.03 L245.43 161.42 L246.56 160.95 L247.68 160.76 L248.81 161.58 L249.93 161.21 L251.06 161.77 L252.19 161.53 L253.31 161.87 L254.44 162.19 L255.57 162.27 L256.69 162.81 L257.82 162.6 L258.95 162.51 L260.07 163.9 L261.2 164.13 L262.33 164.21 L263.45 163.1 L264.58 164.05 L265.71 165.31 L266.83 164.67 L267.96 164.98 L269.09 165.34 L270.21 165.88 L271.34 164.86 L272.47 165.89 L273.59 165.88 L274.72 166.87 L275.85 165.97 L276.97 167.06 L278.1 167.3 L279.23 167.96 L280.35 167.18 L281.48 168.1 L282.61 168.83 L283.73 168.97 L284.86 168.81 L285.99 169.48 L287.11 169.54 L288.24 170.37 L289.37 170.67 L290.49 170.51 L291.62 171.43 L292.75 170.21 L293.87 171.99 L295 170.24 L296.13 172 L297.25 171.81 L298.38 171.56 L299.51 172.34 L300.63 171.36 L301.76 172.38 L302.88 171.32 L304.01 172.77 L305.14 173.36 L306.26 172.2 L307.39 172.44 L308.52 173.03 L309.64 172.84 L310.77 173.5 L311.9 172.82 L313.02 173.56 L314.15 173.41 L315.28 173.05 L316.4 173.32 L317.53 174.31 L318.66 174.32 L319.78 174.35"/>
<path d="M112.49 58.46 L113.62 55.74 L114.74 54.73 L115.87 53.35 L117 50.9 L118.12 49.92 L119.25 46.68 L120.38 45.3 L121.5 44.02 L122.63 43.69 L123.76 40.69 L124.88 39.82 L126.01 37.88 L127.14 35.83 L128.26 35.09 L129.39 34.07 L130.52 32.67 L131.64 31.33 L132.77 31.3 L133.9 29.55 L135.02 28.17 L136.15 27.99 L137.27 28.2 L138.4 26.93 L139.53 26.48 L140.65 25.11 L141.78 25.88 L142.91 24.96 L144.03 24.69 L145.16 25.4 L146.29 25.03 L147.41 25.9 L148.54 26.64 L149.67 25.67 L150.79 27.06 L151.92 26.52 L153.05 28.74 L154.17 27.88 L155.3 29.06 L156.43 31.03 L157.55 32.87 L158.68 33.63 L159.81 34.89 L160.93 36.66 L162.06 38.34 L163.19 40.14 L164.31 40.47 L165.44 42.02 L166.57 43.61 L167.69 45.78 L168.82 47.76 L169.95 49.88 L171.07 52.11 L172.2 53.19 L173.33 55.93 L174.45 58 L175.58 60.57 L176.71 63.44 L177.83 66.42 L178.96 68.62 L180.09 71.17 L181.21 74.05 L182.34 75.97 L183.47 78.48 L184.59 79.63 L185.72 83.79 L186.85 84.28 L187.97 88.49 L189.1 89.64 L190.23 92.67 L191.35 95.89 L192.48 97.94 L193.6 101.08 L194.73 105.4 L195.86 108.61 L196.98 110.49 L198.11 113.8 L199.24 116.79 L200.36 120.99 L201.49 122.43 L202.62 125.65 L203.74 128.34 L204.87 130.35 L206 132.13 L207.12 133.31 L208.25 136.37 L209.38 137.94 L210.5 138.67 L211.63 140.21 L212.76 141.45 L213.88 142.85 L215.01 144.72 L216.14 144.79 L217.26 146.19 L218.39 147.95 L219.52 147.94 L220.64 150.07 L221.77 150.11 L222.9 151.05 L224.02 151.59 L225.15 152.55 L226.28 152.98 L227.4 155.19 L228.53 154.28 L229.66 155.13 L230.78 156.69 L231.91 156.49 L233.04 156.96 L234.16 158.08 L235.29 157.95 L236.42 158.68 L237.54 159.52 L238.67 159.46 L239.8 159.17 L240.92 160.09 L242.05 159.76 L243.18 159.6 L244.3 161.26 L245.43 160.07 L246.56 161.53 L247.68 161.81 L248.81 161.45 L249.93 161.22 L251.06 162.12 L252.19 162.39 L253.31 162.87 L254.44 161.81 L255.57 161.97 L256.69 162.49 L257.82 163.06 L258.95 162.78 L260.07 163.3 L261.2 164.5 L262.33 164.6 L263.45 163.46 L264.58 165.26 L265.71 164.62 L266.83 164.99 L267.96 164.22 L269.09 165.39 L270.21 166.08 L271.34 166.45 L272.47 166 L273.59 166.46 L274.72 166.58 L275.85 166.59 L276.97 168 L278.1 167.71 L279.23 167.33 L280.35 168.41 L281.48 168.84 L282.61 169.53 L283.73 168.02 L284.86 168.14 L285.99 169.31 L287.11 169.81 L288.24 170.24 L289.37 169.31 L290.49 169.61 L291.62 169.85 L292.75 169.93 L293.87 171.01 L295 171.69 L296.13 170.95 L297.25 172.04 L298.38 171.27 L299.51 172.28 L300.63 172.62 L301.76 171.8 L302.88 172.55 L304.01 171.32 L305.14 173.19 L306.26 172.63 L307.39 172.94 L308.52 173.46 L309.64 173.53 L310.77 173.64 L311.9 172.39 L313.02 172.73 L314.15 172.76 L315.28 173.95 L316.4 174.49 L317.53 174.15 L318.66 174.81 L319.78 175.04"/>
<path d="M112.49 57.19 L113.62 56.8 L114.74 54.26 L115.87 52.25 L117 50.65 L118.12 49.47 L119.25 46.37 L120.38 44.79 L121.5 43.65 L122.63 42.3 L123.76 41.79 L124.88 39.28 L126.01 37.99 L127.14 36.55 L128.26 34.92 L129.39 33.12 L130.52 31.85 L131.64 31.97 L132.77 30.75 L133.9 28 L135.02 28.29 L136.15 27.75 L137.27 27.12 L138.4 26.87 L139.53 25.67 L140.65 25.62 L141.78 24.64 L142.91 24.21 L144.03 24.47 L145.16 23.45 L146.29 24 L147.41 25.18 L148.54 25.38 L149.67 25.51 L150.79 26.46 L151.92 26.93 L153.05 27.52 L154.17 27.6 L155.3 29.1 L156.43 31.67 L157.55 31.15 L158.68 34.24 L159.81 34.33 L160.93 36.73 L162.06 37.75 L163.19 39.56 L164.31 40.45 L165.44 41.41 L166.57 42.96 L167.69 45.8 L168.82 47.98 L169.95 50.42 L171.07 52.13 L172.2 53.78 L173.33 56.05 L174.45 58.55 L175.58 60.53 L176.71 62.33 L177.83 65.67 L178.96 67.59 L180.09 69.92 L181.21 73.54 L182.34 75.63 L183.47 78.87 L184.59 80.14 L185.72 82.04 L186.85 84.85 L187.97 87.96 L189.1 89.83 L190.23 92.27 L191.35 95.31 L192.48 97.77 L193.6 100.34 L194.73 103.75 L195.86 107.02 L196.98 109.91 L198.11 113.57 L199.24 117.28 L200.36 119.98 L201.49 123.42 L202.62 125.9 L203.74 127.77 L204.87 130.1 L206 132.87 L207.12 133.67 L208.25 136.64 L209.38 138.29 L210.5 138.74 L211.63 140.77 L212.76 141.53 L213.88 143.43 L215.01 144.05 L216.14 145.51 L217.26 146.47 L218.39 147.54 L219.52 148.57 L220.64 150 L221.77 150.56 L222.9 152.17 L224.02 152.56 L225.15 152.15 L226.28 154.18 L227.4 154.68 L228.53 155.41 L229.66 155.78 L230.78 157.25 L231.91 157.31 L233.04 156.61 L234.16 158.33 L235.29 158.57 L236.42 159.63 L237.54 159.41 L238.67 160.34 L239.8 159.55 L240.92 160.26 L242.05 160.41 L243.18 160.96 L244.3 160.11 L245.43 160.58 L246.56 161.78 L247.68 162.04 L248.81 162.34 L249.93 161.41 L251.06 161.76 L252.19 162.57 L253.31 163.48 L254.44 162.41 L255.57 163.36 L256.69 162.71 L257.82 164.11 L258.95 163.95 L260.07 164.92 L261.2 163.39 L262.33 164.03 L263.45 165.04 L264.58 164.78 L265.71 164.54 L266.83 165.42 L267.96 164.47 L269.09 166.59 L270.21 165.65 L271.34 165.64 L272.47 166.59 L273.59 165.78 L274.72 166.53 L275.85 167.47 L276.97 166.86 L278.1 168.37 L279.23 167.67 L280.35 167.52 L281.48 168.11 L282.61 169.87 L283.73 169.64 L284.86 168.28 L285.99 168.59 L287.11 169.97 L288.24 169.31 L289.37 169.49 L290.49 171.08 L291.62 170.03 L292.75 171.48 L293.87 171.7 L295 171.58 L296.13 172.29 L297.25 171.51 L298.38 172.55 L299.51 171.25 L300.63 172.37 L301.76 171.81 L302.88 172.43 L304.01 171.31 L305.14 172.57 L306.26 172.98 L307.39 172.41 L308.52 172.6 L309.64 173.28 L310.77 173.92 L311.9 172.39 L313.02 173.03 L314.15 173.64 L315.28 172.54 L316.4 174.09 L317.53 173.54 L318.66 175.13 L319.78 174.81"/>
<path d="M112.49 56.89 L113.62 55.87 L114.74 55.18 L115.87 52.05 L117 50.65 L118.12 48.91 L119.25 47.55 L120.38 44.98 L121.5 43.41 L122.63 42.43 L123.76 41.12 L124.88 37.66 L126.01 37.13 L127.14 34.99 L128.26 34.65 L129.39 31.58 L130.52 30.79 L131.64 30.67 L132.77 30.25 L133.9 28.37 L135.02 28.68 L136.15 27.23 L137.27 25.96 L138.4 26.75 L139.53 25.59 L140.65 24.76 L141.78 23.67 L142.91 25 L144.03 24.28 L145.16 23.64 L146.29 24.8 L147.41 24.58 L148.54 25.62 L149.67 25.61 L150.79 25.99 L151.92 24.76 L153.05 27.02 L154.17 28 L155.3 29.21 L156.43 30.72 L157.55 31.84 L158.68 33.28 L159.81 33.55 L160.93 35.96 L162.06 37.42 L163.19 39.46 L164.31 39.71 L165.44 41.73 L166.57 43.64 L167.69 44.8 L168.82 45.99 L169.95 49.14 L171.07 51.81 L172.2 52.19 L173.33 54.69 L174.45 58.74 L175.58 59.99 L176.71 62.08 L177.83 65.2 L178.96 67.88 L180.09 69.33 L181.21 73.26 L182.34 75.98 L183.47 77.52 L184.59 79.06 L185.72 82.25 L186.85 85.64 L187.97 88.29 L189.1 90.42 L190.23 91.83 L191.35 94.35 L192.48 98.56 L193.6 100.29 L194.73 104.03 L195.86 108.6 L196.98 109.93 L198.11 114.37 L199.24 117.77 L200.36 119.95 L201.49 122.77 L202.62 125.14 L203.74 129.17 L204.87 129.8 L206 132.68 L207.12 133.58 L208.25 135.58 L209.38 137.7 L210.5 139.31 L211.63 139.48 L212.76 141.63 L213.88 142.75 L215.01 144.93 L216.14 146.28 L217.26 145.82 L218.39 148.76 L219.52 149.89 L220.64 149.45 L221.77 150.13 L222.9 151.81 L224.02 152.76 L225.15 153.64 L226.28 154.31 L227.4 154.92 L228.53 155.14 L229.66 156.48 L230.78 156.16 L231.91 156.33 L233.04 156.76 L234.16 158.92 L235.29 158.37 L236.42 159.54 L237.54 159.2 L238.67 159.79 L239.8 160.24 L240.92 159.28 L242.05 160.48 L243.18 159.94 L244.3 160.21 L245.43 160.76 L246.56 162.3 L247.68 162.52 L248.81 161.54 L249.93 160.82 L251.06 162.48 L252.19 161.76 L253.31 162.55 L254.44 162.11 L255.57 163.75 L256.69 163.66 L257.82 164.44 L258.95 163.03 L260.07 164.54 L261.2 163.79 L262.33 164.81 L263.45 164.06 L264.58 165.04 L265.71 164.99 L266.83 164.88 L267.96 164.37 L269.09 166.36 L270.21 165.3 L271.34 166.66 L272.47 166.71 L273.59 166.38 L274.72 167.44 L275.85 166.3 L276.97 166.7 L278.1 168.11 L279.23 167.7 L280.35 167.92 L281.48 167.58 L282.61 169.1 L283.73 169.17 L284.86 168.26 L285.99 169.68 L287.11 168.9 L288.24 170.37 L289.37 170.27 L290.49 169.85 L291.62 170.32 L292.75 171.23 L293.87 171.16 L295 170.26 L296.13 172.01 L297.25 171.46 L298.38 171.52 L299.51 171.74 L300.63 172.1 L301.76 172.39 L302.88 172.79 L304.01 171.88 L305.14 173.02 L306.26 172.51 L307.39 173.73 L308.52 172.29 L309.64 173.84 L310.77 172.74 L311.9 172.4 L313.02 173.56 L314.15 174.33 L315.28 173.96 L316.4 174.59 L317.53 173.17 L318.66 174.04 L319.78 175.46"/>
<path d="M112.49 58.35 L113.62 56.32 L114.74 54.69 L115.87 51.92 L117 50.15 L118.12 48.94 L119.25 47.15 L120.38 45.77 L121.5 44.11 L122.63 41.39 L123.76 39.4 L124.88 37.92 L126.01 37.29 L127.14 34.66 L128.26 33.71 L129.39 32.24 L130.52 30.11 L131.64 30.57 L132.77 29.37 L133.9 28.52 L135.02 27.74 L136.15 25.41 L137.27 25.94 L138.4 25.09 L139.53 24.52 L140.65 24.33 L141.78 24.19 L142.91 23.82 L144.03 23.91 L145.16 23.11 L146.29 24.27 L147.41 24.33 L148.54 24.99 L149.67 24.78 L150.79 25.07 L151.92 24.37 L153.05 25.73 L154.17 26.44 L155.3 28.5 L156.43 30.23 L157.55 30.14 L158.68 33.15 L159.81 33.64 L160.93 36.01 L162.06 35.94 L163.19 37.78 L164.31 39.04 L165.44 41.51 L166.57 42.24 L167.69 44.67 L168.82 46.36 L169.95 48.96 L171.07 50.15 L172.2 52.49 L173.33 54.04 L174.45 56.82 L175.58 59.56 L176.71 62.33 L177.83 65.02 L178.96 66.35 L180.09 69.33 L181.21 72.7 L182.34 75.44 L183.47 77.98 L184.59 79.44 L185.72 82.14 L186.85 84.41 L187.97 87.25 L189.1 89.46 L190.23 92.85 L191.35 95.07 L192.48 97.41 L193.6 100.07 L194.73 103.67 L195.86 108.16 L196.98 109.8 L198.11 113.14 L199.24 117.28 L200.36 119.86 L201.49 123.36 L202.62 125.9 L203.74 128.9 L204.87 129.99 L206 131.41 L207.12 134.48 L208.25 135.37 L209.38 137.46 L210.5 140.46 L211.63 141.25 L212.76 141.44 L213.88 143.24 L215.01 144.31 L216.14 144.9 L217.26 147.18 L218.39 148.98 L219.52 148.57 L220.64 148.99 L221.77 151.32 L222.9 151.57 L224.02 153.25 L225.15 152.15 L226.28 153.65 L227.4 153.98 L228.53 154.69 L229.66 156.47 L230.78 157.54 L231.91 157.34 L233.04 157.11 L234.16 158.47 L235.29 158.8 L236.42 159.59 L237.54 159.91 L238.67 160.4 L239.8 160.4 L240.92 159.98 L242.05 159.34 L243.18 161.02 L244.3 161.3 L245.43 160.71 L246.56 160.91 L247.68 162.46 L248.81 162.58 L249.93 161.92 L251.06 162.93 L252.19 162.91 L253.31 163.05 L254.44 163.35 L255.57 163.71 L256.69 162.73 L257.82 163.83 L258.95 163.38 L260.07 164.13 L261.2 163.84 L262.33 163.59 L263.45 163.59 L264.58 165.44 L265.71 164.57 L266.83 165.99 L267.96 165.95 L269.09 166.35 L270.21 166.55 L271.34 166.58 L272.47 166.7 L273.59 166.27 L274.72 166.28 L275.85 166.99 L276.97 167.38 L278.1 167.25 L279.23 167.98 L280.35 169 L281.48 168.57 L282.61 169.69 L283.73 169.05 L284.86 168.14 L285.99 169.86 L287.11 170.01 L288.24 170.05 L289.37 169.88 L290.49 170.85 L291.62 171.01 L292.75 170.73 L293.87 170.74 L295 171.97 L296.13 171.2 L297.25 171.51 L298.38 171.12 L299.51 172.37 L300.63 171.69 L301.76 173.08 L302.88 172.75 L304.01 171.89 L305.14 173.07 L306.26 173.04 L307.39 172.11 L308.52 172.69 L309.64 172.99 L310.77 173.33 L311.9 173.46 L313.02 172.49 L314.15 173.88 L315.28 174.34 L316.4 174.25 L317.53 174.22 L318.66 175.15 L319.78 174.79"/>
</g>
<g fill="none" stroke="#000" stroke-width="2.3" stroke-linejoin="miter" stroke-miterlimit="3">
<path d="M49.4 106.83 L51.37 100.33 L53.34 94.63 L55.31 101.53 L57.29 91.1 L59.26 84.71 L61.23 82.64 L63.2 69.78 L65.17 59.53 L67.14 54.33 L69.12 55.9 L71.09 47.33 L73.06 52.04 L75.03 44.85 L77 37.66 L78.97 38.8 L80.94 32.53 L82.92 30.49 L84.89 29.84 L86.86 31.32 L88.83 35.32 L90.8 32.99 L92.77 32.43 L94.75 39.77 L96.72 44.18 L98.69 46.95 L100.66 46.1 L102.63 52.95 L104.6 54.22 L106.57 58.92 L108.55 65.85 L110.52 70.68 L111.36 75.28 L112.49 78.77"/>
<path d="M49.4 118.83 L51.37 116 L53.34 108.8 L55.31 108.49 L57.29 93.12 L59.26 83.51 L61.23 78.29 L63.2 76.97 L65.17 70.85 L67.14 65.32 L69.12 56.72 L71.09 49.41 L73.06 46.99 L75.03 48.48 L77 44.8 L78.97 34.69 L80.94 33.05 L82.92 30.07 L84.89 35.35 L86.86 34.27 L88.83 36.29 L90.8 38.49 L92.77 37.34 L94.75 44.66 L96.72 42.11 L98.69 43.88 L100.66 50.9 L102.63 51.97 L104.6 54.72 L106.57 59.83 L108.55 66.16 L110.52 71.96 L111.36 73.83 L112.49 78.2"/>
<path d="M49.4 111.13 L51.37 113.23 L53.34 98.84 L55.31 109.19 L57.29 99.97 L59.26 83.1 L61.23 87.53 L63.2 76.9 L65.17 65.67 L67.14 61.16 L69.12 66.36 L71.09 62.48 L73.06 56.44 L75.03 44.07 L77 44.37 L78.97 46.37 L80.94 33.57 L82.92 34.84 L84.89 32.85 L86.86 32.96 L88.83 35.67 L90.8 40.84 L92.77 38.12 L94.75 44.73 L96.72 46.22 L98.69 47.9 L100.66 48.26 L102.63 50.86 L104.6 57.41 L106.57 60.3 L108.55 65.56 L110.52 71 L111.36 73.45 L112.49 76.74"/>
<path d="M49.4 121.7 L51.37 118.12 L53.34 102.95 L55.31 108.73 L57.29 92.62 L59.26 89.67 L61.23 83.65 L63.2 82.49 L65.17 70.56 L67.14 75.75 L69.12 75 L71.09 70.17 L73.06 60 L75.03 51.93 L77 54.36 L78.97 51.53 L80.94 40.51 L82.92 42.63 L84.89 48.08 L86.86 46.54 L88.83 48.84 L90.8 49.85 L92.77 47 L94.75 51.74 L96.72 47.38 L98.69 51.9 L100.66 53.84 L102.63 54.6 L104.6 56.96 L106.57 59.42 L108.55 65.35 L110.52 69.91 L111.36 71.81 L112.49 75.21"/>
<path d="M49.4 116.6 L51.37 122.42 L53.34 106.92 L55.31 102.5 L57.29 104.68 L59.26 102.11 L61.23 96.67 L63.2 88.84 L65.17 78.48 L67.14 80.92 L69.12 81.29 L71.09 75.51 L73.06 67.52 L75.03 58.66 L77 60.2 L78.97 56.95 L80.94 48.25 L82.92 50.66 L84.89 54.59 L86.86 53.39 L88.83 49.75 L90.8 52.38 L92.77 54 L94.75 53.48 L96.72 57.3 L98.69 52.92 L100.66 57.61 L102.63 57.75 L104.6 59.68 L106.57 63.12 L108.55 64.53 L110.52 68.86 L111.36 70.48 L112.49 71.6"/>
<path d="M49.4 124.48 L51.37 120.7 L53.34 106.84 L55.31 117.05 L57.29 110.52 L59.26 102.18 L61.23 101.38 L63.2 97.55 L65.17 93.12 L67.14 80.49 L69.12 81.91 L71.09 74.21 L73.06 69.85 L75.03 70.55 L77 63.45 L78.97 60.92 L80.94 61.64 L82.92 56.27 L84.89 57.01 L86.86 53.95 L88.83 56.03 L90.8 61.07 L92.77 56.46 L94.75 61.59 L96.72 59.2 L98.69 59.64 L100.66 62.35 L102.63 60.54 L104.6 61.94 L106.57 62.12 L108.55 65.44 L110.52 68.24 L111.36 68.88 L112.49 70.35"/>
<path d="M49.4 125.26 L51.37 112.51 L53.34 120.4 L55.31 109.29 L57.29 110.53 L59.26 104.79 L61.23 96.72 L63.2 96.83 L65.17 97.25 L67.14 86.33 L69.12 85.69 L71.09 81.66 L73.06 83.52 L75.03 68.81 L77 67.11 L78.97 66.06 L80.94 65.35 L82.92 60.72 L84.89 62.13 L86.86 66.04 L88.83 67.95 L90.8 66.39 L92.77 64.52 L94.75 65.68 L96.72 63.14 L98.69 60.63 L100.66 63.53 L102.63 61.82 L104.6 64.52 L106.57 63.79 L108.55 63.15 L110.52 67.78 L111.36 67.47 L112.49 68.13"/>
<path d="M49.4 126.48 L51.37 115.2 L53.34 119.83 L55.31 113.94 L57.29 116.74 L59.26 105.03 L61.23 107.51 L63.2 93.27 L65.17 97.52 L67.14 85.85 L69.12 89.15 L71.09 87.61 L73.06 79.72 L75.03 79.28 L77 72.77 L78.97 74.6 L80.94 69.77 L82.92 72.39 L84.89 69.12 L86.86 69.23 L88.83 68.49 L90.8 64.07 L92.77 66.6 L94.75 64.58 L96.72 63.87 L98.69 65.76 L100.66 64.87 L102.63 65.01 L104.6 61.77 L106.57 64.08 L108.55 64.81 L110.52 66.23 L111.36 66.05 L112.49 66.82"/>
<path d="M49.4 124.57 L51.37 126.52 L53.34 116.71 L55.31 112.04 L57.29 109.04 L59.26 116.41 L61.23 104.25 L63.2 103.82 L65.17 95.67 L67.14 96.98 L69.12 97.05 L71.09 92.98 L73.06 94.78 L75.03 85.63 L77 78.65 L78.97 86.06 L80.94 79.06 L82.92 70.91 L84.89 72.55 L86.86 72.4 L88.83 76.29 L90.8 75.21 L92.77 70.91 L94.75 66.86 L96.72 68.08 L98.69 64.97 L100.66 68.37 L102.63 65.57 L104.6 64.52 L106.57 62.51 L108.55 65.66 L110.52 63.9 L111.36 65.47 L112.49 66.62"/>
<path d="M49.4 125.72 L51.37 119.25 L53.34 116.59 L55.31 124.06 L57.29 121.24 L59.26 115.93 L61.23 119.67 L63.2 103.46 L65.17 107.02 L67.14 98.98 L69.12 100.99 L71.09 99.39 L73.06 93.52 L75.03 89.66 L77 89.9 L78.97 83.51 L80.94 84.44 L82.92 83.23 L84.89 81.91 L86.86 78.44 L88.83 76.06 L90.8 78.41 L92.77 75.84 L94.75 72.82 L96.72 73.43 L98.69 70.24 L100.66 70.62 L102.63 65.3 L104.6 67.25 L106.57 65.36 L108.55 64.98 L110.52 64.52 L111.36 63.81 L112.49 63.82"/>
<path d="M49.4 140.72 L51.37 128.68 L53.34 126.33 L55.31 119.48 L57.29 118.81 L59.26 109.61 L61.23 108.65 L63.2 107.98 L65.17 112.62 L67.14 100.87 L69.12 109.45 L71.09 94.61 L73.06 94.53 L75.03 94.79 L77 94.05 L78.97 89.17 L80.94 82.37 L82.92 78.95 L84.89 82.12 L86.86 84.86 L88.83 79.74 L90.8 83.5 L92.77 74.15 L94.75 74.55 L96.72 72.43 L98.69 70.15 L100.66 70.55 L102.63 66.17 L104.6 66.14 L106.57 64.77 L108.55 64.65 L110.52 63.91 L111.36 64.3 L112.49 63.68"/>
<path d="M49.4 126.95 L51.37 127.81 L53.34 129.07 L55.31 121.24 L57.29 124.09 L59.26 124.06 L61.23 116.55 L63.2 113.88 L65.17 109.63 L67.14 100.12 L69.12 107.25 L71.09 98.83 L73.06 104.72 L75.03 93.85 L77 99.59 L78.97 97.72 L80.94 87.51 L82.92 86.11 L84.89 84.5 L86.86 86.78 L88.83 87.26 L90.8 84.85 L92.77 79.8 L94.75 82.45 L96.72 77.58 L98.69 73.64 L100.66 74.57 L102.63 70.53 L104.6 66.1 L106.57 63.59 L108.55 65.01 L110.52 63.73 L111.36 63.22 L112.49 62.56"/>
<path d="M49.4 135.35 L51.37 124.01 L53.34 131.43 L55.31 131.46 L57.29 118.16 L59.26 118.27 L61.23 127.09 L63.2 120.53 L65.17 116.54 L67.14 112.46 L69.12 106.8 L71.09 105.18 L73.06 100.6 L75.03 98.36 L77 97.17 L78.97 100.56 L80.94 90.99 L82.92 91.62 L84.89 94.96 L86.86 89.23 L88.83 89.59 L90.8 86.56 L92.77 86.02 L94.75 84.92 L96.72 76.06 L98.69 77.14 L100.66 75.18 L102.63 72.47 L104.6 68.06 L106.57 64.03 L108.55 65.17 L110.52 62.31 L111.36 61.78 L112.49 60.3"/>
<path d="M49.4 127.12 L51.37 127.61 L53.34 131.21 L55.31 129.25 L57.29 125.41 L59.26 117.21 L61.23 123.25 L63.2 111.11 L65.17 114.27 L67.14 112.21 L69.12 112.73 L71.09 110.72 L73.06 101.71 L75.03 106.87 L77 101.11 L78.97 105.21 L80.94 92.88 L82.92 96.33 L84.89 95.56 L86.86 91.18 L88.83 89.13 L90.8 86.01 L92.77 84.33 L94.75 84.15 L96.72 80.7 L98.69 74.98 L100.66 76.4 L102.63 73.58 L104.6 67.15 L106.57 65.78 L108.55 65.3 L110.52 63.08 L111.36 60.79 L112.49 59.91"/>
<path d="M49.4 135.63 L51.37 131.67 L53.34 136.47 L55.31 121.12 L57.29 120.78 L59.26 124.38 L61.23 127.5 L63.2 113.28 L65.17 108.32 L67.14 116.04 L69.12 110.11 L71.09 105.98 L73.06 103.45 L75.03 106.06 L77 105.24 L78.97 105.43 L80.94 98.45 L82.92 90.31 L84.89 89.77 L86.86 91.77 L88.83 93.91 L90.8 90.02 L92.77 86.6 L94.75 82.57 L96.72 79.21 L98.69 76.18 L100.66 75.71 L102.63 71.85 L104.6 69.13 L106.57 66.31 L108.55 64.24 L110.52 61.42 L111.36 60.88 L112.49 60.34"/>
<path d="M49.4 136.45 L51.37 137.45 L53.34 128.2 L55.31 126.89 L57.29 129.41 L59.26 121.1 L61.23 128.44 L63.2 112.03 L65.17 119.76 L67.14 116.29 L69.12 108.41 L71.09 105.31 L73.06 104.6 L75.03 99.88 L77 98.37 L78.97 99.68 L80.94 96.22 L82.92 99.23 L84.89 92.43 L86.86 89.7 L88.83 89.17 L90.8 93.26 L92.77 88.7 L94.75 82.78 L96.72 81.29 L98.69 76.08 L100.66 73.33 L102.63 72.25 L104.6 68.5 L106.57 65.33 L108.55 63.45 L110.52 62.12 L111.36 60.77 L112.49 60.48"/>
<path d="M49.4 133.31 L51.37 138.4 L53.34 125.79 L55.31 124.45 L57.29 123.44 L59.26 127.59 L61.23 128.82 L63.2 112.62 L65.17 110.6 L67.14 107.58 L69.12 114.42 L71.09 117.09 L73.06 111.89 L75.03 99.79 L77 107.64 L78.97 105.92 L80.94 102.2 L82.92 92.31 L84.89 96.55 L86.86 96.81 L88.83 93.69 L90.8 92.65 L92.77 86.62 L94.75 84.03 L96.72 80.69 L98.69 80.95 L100.66 75.99 L102.63 74.31 L104.6 69.63 L106.57 64.88 L108.55 64.83 L110.52 60.77 L111.36 61.32 L112.49 59.69"/>
<path d="M49.4 140.81 L51.37 132.8 L53.34 128.92 L55.31 130.94 L57.29 132.47 L59.26 119.73 L61.23 130.37 L63.2 123.75 L65.17 119.98 L67.14 117.79 L69.12 119.51 L71.09 117.38 L73.06 110.72 L75.03 108.92 L77 102.06 L78.97 103.47 L80.94 97.14 L82.92 96.84 L84.89 94.92 L86.86 95.67 L88.83 93.47 L90.8 89.59 L92.77 88.71 L94.75 83.75 L96.72 81.58 L98.69 76.38 L100.66 75.87 L102.63 72.25 L104.6 68.42 L106.57 66.88 L108.55 64.46 L110.52 61.72 L111.36 60.3 L112.49 58.9"/>
<path d="M49.4 139.35 L51.37 129.69 L53.34 137.79 L55.31 130.82 L57.29 127.59 L59.26 130 L61.23 121.32 L63.2 123.93 L65.17 118.83 L67.14 117.79 L69.12 114.93 L71.09 113.68 L73.06 109.48 L75.03 106.72 L77 101.25 L78.97 104.72 L80.94 103.07 L82.92 97.46 L84.89 98.86 L86.86 96.33 L88.83 90.22 L90.8 91.77 L92.77 85.56 L94.75 88.06 L96.72 81.75 L98.69 81.58 L100.66 78.22 L102.63 74.45 L104.6 71.69 L106.57 64.66 L108.55 62.54 L110.52 61.79 L111.36 61.42 L112.49 58.66"/>
<path d="M49.4 137.78 L51.37 131.38 L53.34 126.93 L55.31 137.47 L57.29 135.25 L59.26 130 L61.23 128.16 L63.2 125.49 L65.17 121.01 L67.14 120.17 L69.12 122.9 L71.09 113.16 L73.06 109.27 L75.03 110.45 L77 109.51 L78.97 103.61 L80.94 104.07 L82.92 101.52 L84.89 97.43 L86.86 97.02 L88.83 92.17 L90.8 92.18 L92.77 87.64 L94.75 87.12 L96.72 85.86 L98.69 78.01 L100.66 77.66 L102.63 71.42 L104.6 71.51 L106.57 66.49 L108.55 63.9 L110.52 62.26 L111.36 61.16 L112.49 58.1"/>
<path d="M49.4 146.31 L51.37 133.13 L53.34 128.41 L55.31 130.5 L57.29 135.31 L59.26 124.6 L61.23 125.43 L63.2 124.29 L65.17 122.47 L67.14 120.21 L69.12 117.64 L71.09 115.76 L73.06 111.99 L75.03 105.27 L77 108.24 L78.97 105.61 L80.94 103.03 L82.92 96.51 L84.89 100.72 L86.86 95.17 L88.83 93.21 L90.8 90.56 L92.77 88.14 L94.75 84.07 L96.72 80.45 L98.69 78.54 L100.66 78.13 L102.63 74.27 L104.6 69.49 L106.57 67.69 L108.55 65.05 L110.52 62.32 L111.36 59.99 L112.49 58.85"/>
<path d="M49.4 143.33 L51.37 139.86 L53.34 125.13 L55.31 124.63 L57.29 133.23 L59.26 126.21 L61.23 120.52 L63.2 118.85 L65.17 118.01 L67.14 110.96 L69.12 112.59 L71.09 119.81 L73.06 108.14 L75.03 110.34 L77 105.26 L78.97 104.83 L80.94 103.43 L82.92 101.4 L84.89 95.11 L86.86 94.17 L88.83 91.92 L90.8 96.5 L92.77 88.02 L94.75 85.71 L96.72 81.07 L98.69 79.3 L100.66 78.84 L102.63 75.28 L104.6 71.54 L106.57 67.28 L108.55 63.77 L110.52 61.58 L111.36 60.72 L112.49 59.17"/>
<path d="M49.4 145.95 L51.37 128.39 L53.34 130.01 L55.31 137.16 L57.29 124.34 L59.26 120.59 L61.23 132.27 L63.2 117.1 L65.17 113.44 L67.14 118.74 L69.12 114.93 L71.09 112.67 L73.06 113.55 L75.03 109.94 L77 109.28 L78.97 104.91 L80.94 99.3 L82.92 96.07 L84.89 103.35 L86.86 96.74 L88.83 94.75 L90.8 96.17 L92.77 92.85 L94.75 85.19 L96.72 82.58 L98.69 79.75 L100.66 78.88 L102.63 73.94 L104.6 69.02 L106.57 67.97 L108.55 63.27 L110.52 60.42 L111.36 60.01 L112.49 57.43"/>
<path d="M49.4 138.11 L51.37 131.56 L53.34 125.6 L55.31 131.69 L57.29 126.66 L59.26 121.28 L61.23 122.14 L63.2 127.76 L65.17 126.57 L67.14 114.34 L69.12 114.91 L71.09 119.56 L73.06 110.51 L75.03 106.07 L77 111.27 L78.97 112.19 L80.94 100.92 L82.92 99.49 L84.89 102.88 L86.86 94.2 L88.83 99.01 L90.8 91.81 L92.77 86.59 L94.75 90.53 L96.72 83.29 L98.69 80.85 L100.66 76.04 L102.63 74.03 L104.6 70.77 L106.57 67.49 L108.55 62.86 L110.52 61.42 L111.36 59.14 L112.49 58.94"/>
<path d="M49.4 134.87 L51.37 132.28 L53.34 125.6 L55.31 132.67 L57.29 127.48 L59.26 132.82 L61.23 133.49 L63.2 123.8 L65.17 117.85 L67.14 120.95 L69.12 113.37 L71.09 118.65 L73.06 115.12 L75.03 109.71 L77 102.81 L78.97 112.57 L80.94 105.34 L82.92 99.75 L84.89 101.41 L86.86 99.35 L88.83 100.01 L90.8 91.48 L92.77 90.43 L94.75 87.76 L96.72 86.3 L98.69 78.87 L100.66 80.36 L102.63 72.97 L104.6 72.3 L106.57 66.43 L108.55 64.53 L110.52 59.64 L111.36 59.9 L112.49 57.41"/>
<path d="M49.4 132.3 L51.37 136.31 L53.34 125.13 L55.31 125.45 L57.29 131.32 L59.26 128.57 L61.23 120.62 L63.2 122.26 L65.17 120.22 L67.14 114 L69.12 118.25 L71.09 116.14 L73.06 113.47 L75.03 112.42 L77 109.66 L78.97 114.46 L80.94 101.04 L82.92 98.31 L84.89 98.4 L86.86 94.34 L88.83 95.31 L90.8 97.91 L92.77 91.56 L94.75 85.75 L96.72 87.36 L98.69 79.38 L100.66 76.96 L102.63 75.65 L104.6 71.78 L106.57 65.72 L108.55 63.47 L110.52 62.11 L111.36 59.67 L112.49 58.46"/>
<path d="M49.4 134.58 L51.37 144.63 L53.34 130.76 L55.31 138.47 L57.29 133 L59.26 130.54 L61.23 128.37 L63.2 117.38 L65.17 117.66 L67.14 118.94 L69.12 113.6 L71.09 119.74 L73.06 119.4 L75.03 108.49 L77 105.73 L78.97 107.35 L80.94 103.54 L82.92 99.63 L84.89 102.38 L86.86 94.87 L88.83 95.76 L90.8 92.96 L92.77 90.29 L94.75 86.02 L96.72 85.37 L98.69 79.16 L100.66 78.93 L102.63 72.02 L104.6 71.41 L106.57 66.56 L108.55 63.77 L110.52 60.63 L111.36 59.03 L112.49 57.19"/>
<path d="M49.4 136.87 L51.37 140.42 L53.34 123.23 L55.31 124.71 L57.29 127.96 L59.26 124.25 L61.23 131.45 L63.2 120.04 L65.17 116.23 L67.14 118.85 L69.12 119.37 L71.09 115.09 L73.06 119.01 L75.03 115.58 L77 112.52 L78.97 109.8 L80.94 102.62 L82.92 98.74 L84.89 103.32 L86.86 101.87 L88.83 98.66 L90.8 98.08 L92.77 92.55 L94.75 89.1 L96.72 84.27 L98.69 84.11 L100.66 80.47 L102.63 74.38 L104.6 70.63 L106.57 67.85 L108.55 63.44 L110.52 60.54 L111.36 58.74 L112.49 56.89"/>
<path d="M49.4 148.01 L51.37 135.39 L53.34 132.45 L55.31 131.99 L57.29 125.06 L59.26 122.67 L61.23 133.73 L63.2 117.5 L65.17 122.07 L67.14 119 L69.12 125.01 L71.09 120.56 L73.06 120.09 L75.03 113.25 L77 108.92 L78.97 112.97 L80.94 106.66 L82.92 106.17 L84.89 105.46 L86.86 95.87 L88.83 98.83 L90.8 96.2 L92.77 93.73 L94.75 86.09 L96.72 88.6 L98.69 80.48 L100.66 81.3 L102.63 75.35 L104.6 70.86 L106.57 66.86 L108.55 63.29 L110.52 60.46 L111.36 59.13 L112.49 58.35"/>
</g>
<g stroke="#000" stroke-width="2.4" fill="none" stroke-linecap="butt">
<path d="M44.4 9 H319.8 M49.4 9 V189.5 M44.4 189.5 H319.8 M319.8 7.8 V194.4"/>
<path d="M44.4 144.38 H49.4"/>
<path d="M44.4 99.25 H49.4"/>
<path d="M44.4 54.12 H49.4"/>
<path d="M94.46 189.5 V194.4"/>
<path d="M150.79 189.5 V194.4"/>
<path d="M207.12 189.5 V194.4"/>
<path d="M263.45 189.5 V194.4"/>
</g>
<g font-family="Liberation Sans, sans-serif" font-weight="bold" font-size="13" fill="#000" text-anchor="end">
<text x="41.6" y="194.2">0.0</text>
<text x="41.6" y="149.07">0.1</text>
<text x="41.6" y="103.95">0.2</text>
<text x="41.6" y="58.83">0.3</text>
<text x="41.6" y="13.7">0.4</text>
</g>
<g font-family="Liberation Sans, sans-serif" font-weight="bold" font-size="13" fill="#000" text-anchor="middle">
<text x="94.46" y="209.8">400</text>
<text x="150.79" y="209.8">500</text>
<text x="207.12" y="209.8">600</text>
<text x="263.45" y="209.8">700</text>
<text x="319.78" y="209.8">800</text>
</g>
<text font-family="Liberation Sans, sans-serif" font-weight="bold" font-size="14.3" text-anchor="middle" x="185.2" y="233">Wavelength (nm)</text>
<text font-family="Liberation Sans, sans-serif" font-weight="bold" font-size="14.3" text-anchor="middle" transform="translate(13.5 98.8) rotate(-90)">Absorbtion</text>
<g fill="none" stroke="#000" stroke-width="1.15" stroke-linejoin="round">
<path d="M51 397.3 L51.98 394.11 L52.96 393.56 L53.94 394.08 L54.92 393.27 L55.9 391.12 L56.88 393.91 L57.86 389.14 L58.84 393.41 L59.82 393 L60.8 388.16 L61.78 388.61 L62.76 387.66 L63.74 386.68 L64.72 387.31 L65.7 388.08 L66.68 383.83 L67.66 383.53 L68.64 381.92 L69.62 381.74 L70.6 381.26 L71.58 379.89 L72.56 378.36 L73.54 378.48 L74.52 376.83 L75.5 375.73 L76.48 376.25 L77.46 375.59 L78.44 373.9 L79.42 373.23 L80.4 372.71 L81.38 372.42 L82.36 372.22 L83.34 371.54 L84.32 371.85 L85.3 370.86 L86.28 371.28 L87.26 370.03 L88.24 369.92 L89.22 369.72 L90.2 368.9 L91.18 369.73 L92.16 368.42 L93.14 368.13 L94.12 367.19 L95.1 367.47 L96.08 366.43 L97.06 365.07 L98.04 364.19 L99.02 363.74 L100 361.88 L100.98 360.49 L101.96 359.51 L102.94 359.34 L103.92 358.43 L104.9 356.65 L105.88 356.27 L106.86 355.73 L107.84 355.32 L108.82 354.84 L109.8 353.23 L110.78 353.44 L111.76 352.8 L112.74 352.52 L113.72 351.94 L114.7 351.45 L115.68 350.9 L116.66 350.79 L117.64 350.05 L118.62 349.91 L119.6 348.7 L120.58 348.87 L121.56 348.82 L122.54 348.26 L123.52 348.63 L124.5 347.91 L125.48 347.26 L126.46 347.21 L127.44 346.92 L128.42 347.01 L129.4 346.94 L130.38 346.56 L131.36 347.6 L132.34 347.02 L133.32 347.17 L134.3 346.59 L135.28 346.81 L136.26 347.32 L137.24 346.79 L138.22 347.12 L139.2 347.4 L140.18 347.84 L141.16 347.06 L142.14 348.22 L143.12 347.64 L144.1 348.51 L145.08 348.26 L146.06 348.52 L147.04 348.78 L148.02 348.75 L149 349.78 L149.98 348.96 L150.96 349.42 L151.94 350.53 L152.92 349.93 L153.9 350.08 L154.88 350.37 L155.86 351.73 L156.84 351.12 L157.82 352.03 L158.8 351.73 L159.78 352.61 L160.76 352.21 L161.74 353.4 L162.72 353.97 L163.7 353.64 L164.68 353.98 L165.66 354.58 L166.64 355.17 L167.62 355.38 L168.6 355.31 L169.58 356 L170.56 356.11 L171.54 356.36 L172.52 357.87 L173.5 358.31 L174.48 358.13 L175.46 358.74 L176.44 359.43 L177.42 359 L178.4 360.21 L179.38 359.49 L180.36 360.03 L181.34 361.58 L182.32 361.25 L183.3 361.35 L184.28 362.05 L185.26 362.32 L186.24 363.11 L187.22 362.91 L188.2 363.62 L189.18 364.27 L190.16 364.92 L191.14 365.45 L192.12 365.52 L193.1 365.73 L194.08 366.44 L195.06 367.32 L196.04 367.46 L197.02 368.74 L198 368.39 L198.98 369.61 L199.96 370.1 L200.94 370.33 L201.92 370.56 L202.9 371.68 L203.88 371.64 L204.86 372.35 L205.84 374.14 L206.82 374.68 L207.8 374.68 L208.78 375.43 L209.76 376.45 L210.74 377.13 L211.72 378.09 L212.7 378.41 L213.68 379.05 L214.66 380.01 L215.64 381.29 L216.62 382.99 L217.6 384.11 L218.58 384.29 L219.56 385.42 L220.54 387.61 L221.52 388.16 L222.5 388.95 L223.48 390.97 L224.46 392.22 L225.44 392.88 L226.42 394.12 L227.4 394.18 L228.38 395.2 L229.36 397.53 L230.34 398.41 L231.32 398.88 L232.3 400.54 L233.28 401.81 L234.26 403.36 L235.24 404.31 L236.22 404.98 L237.2 407.08 L238.18 407.9 L239.16 410.34 L240.14 410.83 L241.12 413.02 L242.1 415.15 L243.08 415.85 L244.06 417.24 L245.04 419.09 L246.02 420.2 L247 421.27 L247.98 422.83 L248.96 422.62 L249.94 423.7 L250.92 424.71 L251.9 425.14 L252.88 425.32 L253.86 426.08 L254.84 426.23 L255.82 427.03 L256.8 427.96 L257.78 428.67 L258.76 429.67 L259.74 430.26 L260.72 431.13 L261.7 430.81 L262.68 432.36 L263.66 432.4 L264.64 433 L265.62 433.75 L266.6 434.48 L267.58 435.84 L268.56 435.27 L269.54 436.24 L270.52 437.88 L271.5 437.34 L272.48 438.91 L273.46 439.09 L274.44 439.47 L275.42 440.53 L276.4 441.24 L277.38 441.97 L278.36 442.16 L279.34 442.27 L280.32 442.7 L281.3 442.77 L282.28 443.15 L283.26 443.63 L284.24 444.73 L285.22 445.2 L286.2 444.52 L287.18 445.2 L288.16 445.12 L289.14 446.1 L290.12 445.22 L291.1 445.35 L292.08 446.67 L293.06 445.86 L294.04 445.31 L295.02 446.81 L296 446.11 L296.98 445.99 L297.96 444.46 L298.94 446.09 L299.92 447.9 L300.9 447.67 L301.88 446.78 L302.86 447.28 L303.84 447.94 L304.82 444.35 L305.8 448.1 L306.78 449.1 L307.76 449.38 L308.74 449.27 L309.72 449.65 L310.7 449.79 L311.68 449.73 L312.66 450.12 L313.64 449.07 L314.62 450.01 L315.6 450.27 L316.58 449.45 L317.56 450.78 L318.54 449.95 L319.52 450.35 L320.5 450.36"/>
<path d="M51 397.32 L51.98 398.72 L52.96 395.59 L53.94 393.12 L54.92 396.85 L55.9 394.92 L56.88 396.81 L57.86 391.83 L58.84 391.62 L59.82 392.89 L60.8 390.09 L61.78 391.27 L62.76 391.8 L63.74 391.67 L64.72 389.07 L65.7 388.05 L66.68 387.38 L67.66 386.53 L68.64 383.51 L69.62 384.03 L70.6 382.44 L71.58 381.89 L72.56 381.01 L73.54 380.36 L74.52 379.5 L75.5 376.86 L76.48 375.5 L77.46 375.85 L78.44 374.4 L79.42 374.19 L80.4 371.95 L81.38 372.06 L82.36 372.06 L83.34 370.69 L84.32 371.07 L85.3 370.81 L86.28 369.87 L87.26 370.22 L88.24 369.96 L89.22 369.18 L90.2 368.73 L91.18 367.98 L92.16 367.94 L93.14 366.82 L94.12 366.92 L95.1 366.38 L96.08 364.72 L97.06 363.91 L98.04 363.27 L99.02 362.56 L100 360.35 L100.98 359.82 L101.96 358.68 L102.94 356.69 L103.92 356.21 L104.9 355.17 L105.88 353.61 L106.86 352.68 L107.84 352.4 L108.82 351 L109.8 350.36 L110.78 349.98 L111.76 348.56 L112.74 348.44 L113.72 347.69 L114.7 346.11 L115.68 346.23 L116.66 345.38 L117.64 344.87 L118.62 343.66 L119.6 343.66 L120.58 342.67 L121.56 343.14 L122.54 342.35 L123.52 342.21 L124.5 342.05 L125.48 341.07 L126.46 340.46 L127.44 340.39 L128.42 339.87 L129.4 340.76 L130.38 340.31 L131.36 340.14 L132.34 340.73 L133.32 339.92 L134.3 340.72 L135.28 340.39 L136.26 341.03 L137.24 340.55 L138.22 340.93 L139.2 341.41 L140.18 340.87 L141.16 341.44 L142.14 342.64 L143.12 343.07 L144.1 343.51 L145.08 344.74 L146.06 344.62 L147.04 345.05 L148.02 346.85 L149 346.75 L149.98 347.71 L150.96 348.81 L151.94 350.08 L152.92 349.75 L153.9 351.17 L154.88 351.96 L155.86 351.83 L156.84 352.23 L157.82 353.95 L158.8 354.57 L159.78 354.07 L160.76 355.65 L161.74 355.73 L162.72 356.93 L163.7 357.18 L164.68 356.86 L165.66 358.07 L166.64 358.52 L167.62 359.25 L168.6 359.08 L169.58 360.1 L170.56 360.97 L171.54 361.23 L172.52 362.26 L173.5 362.03 L174.48 362.12 L175.46 363.14 L176.44 363.97 L177.42 363.91 L178.4 364.94 L179.38 365.07 L180.36 365.69 L181.34 365.79 L182.32 366.97 L183.3 367.05 L184.28 366.99 L185.26 368.09 L186.24 368.77 L187.22 369.31 L188.2 369.63 L189.18 370.35 L190.16 370.38 L191.14 371.12 L192.12 371.33 L193.1 371.99 L194.08 372.15 L195.06 372.97 L196.04 373.82 L197.02 373.75 L198 374.85 L198.98 374.29 L199.96 375.05 L200.94 376.17 L201.92 376.07 L202.9 376.99 L203.88 377.46 L204.86 378.54 L205.84 378.21 L206.82 379.62 L207.8 380.22 L208.78 380.82 L209.76 381.97 L210.74 381.98 L211.72 382.99 L212.7 383.63 L213.68 383.8 L214.66 384.91 L215.64 386.54 L216.62 386.76 L217.6 387.64 L218.58 389.26 L219.56 390.38 L220.54 391.66 L221.52 392.65 L222.5 393.39 L223.48 394.37 L224.46 395.51 L225.44 396.37 L226.42 397.61 L227.4 398.04 L228.38 399.97 L229.36 400.89 L230.34 401.3 L231.32 402.11 L232.3 403.78 L233.28 405.43 L234.26 405.67 L235.24 406.98 L236.22 408.51 L237.2 410.17 L238.18 410.68 L239.16 412.27 L240.14 413.84 L241.12 415.79 L242.1 417.49 L243.08 418.6 L244.06 420.28 L245.04 421.63 L246.02 422.52 L247 423.83 L247.98 424.31 L248.96 425.18 L249.94 425.29 L250.92 426.26 L251.9 426.57 L252.88 427.11 L253.86 428.32 L254.84 427.98 L255.82 428.71 L256.8 429.21 L257.78 430.37 L258.76 430.67 L259.74 431.21 L260.72 431.63 L261.7 432.98 L262.68 433.63 L263.66 434.47 L264.64 434.57 L265.62 435.6 L266.6 436.16 L267.58 436.54 L268.56 436.29 L269.54 437.07 L270.52 437.69 L271.5 438.83 L272.48 439.46 L273.46 440.55 L274.44 440.33 L275.42 440.71 L276.4 442.1 L277.38 442.61 L278.36 442.27 L279.34 443.25 L280.32 443.51 L281.3 443.59 L282.28 444.67 L283.26 444.89 L284.24 444.78 L285.22 445.32 L286.2 444.79 L287.18 445.66 L288.16 445.21 L289.14 446.56 L290.12 445.76 L291.1 445.98 L292.08 446.81 L293.06 446.18 L294.04 446.55 L295.02 446.89 L296 447.14 L296.98 443.88 L297.96 444.91 L298.94 447.04 L299.92 445.89 L300.9 448.7 L301.88 447.59 L302.86 448.17 L303.84 448.64 L304.82 447.61 L305.8 448.32 L306.78 449.37 L307.76 448.66 L308.74 448.55 L309.72 448.78 L310.7 448.89 L311.68 449.88 L312.66 450.09 L313.64 449.98 L314.62 450.13 L315.6 449.97 L316.58 450.41 L317.56 450.19 L318.54 450.4 L319.52 450.02 L320.5 450.59"/>
<path d="M51 399.2 L51.98 400.92 L52.96 399.5 L53.94 399.55 L54.92 400.03 L55.9 397.67 L56.88 395.63 L57.86 394.18 L58.84 394.95 L59.82 397.19 L60.8 396.78 L61.78 391.76 L62.76 394.63 L63.74 393.89 L64.72 392.04 L65.7 390.91 L66.68 388.77 L67.66 389.73 L68.64 386.14 L69.62 385.23 L70.6 386 L71.58 383.07 L72.56 381.76 L73.54 381.09 L74.52 378.24 L75.5 377.86 L76.48 377.52 L77.46 376.57 L78.44 373.49 L79.42 373.47 L80.4 372.54 L81.38 371.44 L82.36 370.5 L83.34 370.86 L84.32 369.58 L85.3 369.27 L86.28 369.96 L87.26 369.27 L88.24 368.15 L89.22 368.46 L90.2 368.03 L91.18 366.81 L92.16 366.46 L93.14 365.97 L94.12 364.65 L95.1 364.5 L96.08 364 L97.06 363.15 L98.04 360.98 L99.02 360.47 L100 358.94 L100.98 357.53 L101.96 355.91 L102.94 354.15 L103.92 353.62 L104.9 351.74 L105.88 351.22 L106.86 349.17 L107.84 348.18 L108.82 347.17 L109.8 345.97 L110.78 345.17 L111.76 344.13 L112.74 342.72 L113.72 342.48 L114.7 341.64 L115.68 340.62 L116.66 340.47 L117.64 339.13 L118.62 338.46 L119.6 338.29 L120.58 338.09 L121.56 337.41 L122.54 337.09 L123.52 336.59 L124.5 336.1 L125.48 335.39 L126.46 335.3 L127.44 335.03 L128.42 334.2 L129.4 333.91 L130.38 334.63 L131.36 333.62 L132.34 333.64 L133.32 334.8 L134.3 333.93 L135.28 335.15 L136.26 334.5 L137.24 335.03 L138.22 335.72 L139.2 335.95 L140.18 336.05 L141.16 337.47 L142.14 337.96 L143.12 339.2 L144.1 338.76 L145.08 340.68 L146.06 341.17 L147.04 342.78 L148.02 343.66 L149 345.18 L149.98 345.49 L150.96 347.25 L151.94 349.31 L152.92 350.46 L153.9 351.94 L154.88 353.95 L155.86 355.28 L156.84 356.08 L157.82 358.18 L158.8 359.09 L159.78 361.5 L160.76 362.65 L161.74 364.36 L162.72 364.66 L163.7 366.56 L164.68 366.89 L165.66 368.69 L166.64 369.4 L167.62 370.14 L168.6 371.66 L169.58 372.65 L170.56 373.72 L171.54 374.12 L172.52 376.05 L173.5 376.21 L174.48 377.7 L175.46 378.57 L176.44 379.05 L177.42 379.77 L178.4 380.9 L179.38 381.64 L180.36 382.36 L181.34 383.06 L182.32 382.49 L183.3 383.75 L184.28 383.98 L185.26 385.09 L186.24 385.9 L187.22 386.22 L188.2 386.43 L189.18 387.54 L190.16 387.91 L191.14 388.29 L192.12 388.42 L193.1 389.24 L194.08 389.72 L195.06 389.51 L196.04 390.12 L197.02 390.94 L198 391.63 L198.98 391.44 L199.96 392.12 L200.94 392.85 L201.92 393.42 L202.9 393.69 L203.88 394.21 L204.86 394.86 L205.84 395.66 L206.82 395.98 L207.8 396.5 L208.78 396.43 L209.76 397.68 L210.74 398.12 L211.72 398.77 L212.7 398.74 L213.68 400.07 L214.66 400.27 L215.64 400.69 L216.62 401.88 L217.6 402.6 L218.58 403.71 L219.56 404.2 L220.54 405.11 L221.52 406.26 L222.5 406.72 L223.48 408.13 L224.46 409.1 L225.44 408.73 L226.42 409.84 L227.4 410.44 L228.38 411.64 L229.36 412.77 L230.34 413.09 L231.32 413.96 L232.3 415.09 L233.28 415.38 L234.26 416.73 L235.24 417.71 L236.22 418.86 L237.2 419.8 L238.18 420.58 L239.16 421.1 L240.14 422.52 L241.12 423.24 L242.1 424.41 L243.08 426.49 L244.06 426.76 L245.04 428.43 L246.02 429.61 L247 429.92 L247.98 429.83 L248.96 431.35 L249.94 431.43 L250.92 431.41 L251.9 432.68 L252.88 432.89 L253.86 433.79 L254.84 433.71 L255.82 433.63 L256.8 434.71 L257.78 434.93 L258.76 435.64 L259.74 436.5 L260.72 436.34 L261.7 436.35 L262.68 437.82 L263.66 438.42 L264.64 438.57 L265.62 439.23 L266.6 439.7 L267.58 440.39 L268.56 440.38 L269.54 440.77 L270.52 440.73 L271.5 441.71 L272.48 442.05 L273.46 443.22 L274.44 443.54 L275.42 443.89 L276.4 444.33 L277.38 444.43 L278.36 444.37 L279.34 444.58 L280.32 444.84 L281.3 445.7 L282.28 445.3 L283.26 446.05 L284.24 446.71 L285.22 446.84 L286.2 446.93 L287.18 446.46 L288.16 447.74 L289.14 447.16 L290.12 446.85 L291.1 447.47 L292.08 447.33 L293.06 448.19 L294.04 448.37 L295.02 446.87 L296 445.81 L296.98 444.81 L297.96 445.63 L298.94 447.94 L299.92 448.81 L300.9 449.14 L301.88 450.03 L302.86 449.36 L303.84 449.23 L304.82 447.64 L305.8 448.36 L306.78 450.67 L307.76 449.07 L308.74 451 L309.72 449.48 L310.7 449.94 L311.68 449.98 L312.66 450.35 L313.64 450.06 L314.62 450.79 L315.6 450.71 L316.58 450.84 L317.56 451.17 L318.54 451.53 L319.52 451.53 L320.5 451.22"/>
<path d="M51 404.67 L51.98 400.14 L52.96 400.12 L53.94 399.22 L54.92 401.48 L55.9 398.63 L56.88 397.64 L57.86 398.38 L58.84 396.5 L59.82 399.35 L60.8 397.51 L61.78 397.18 L62.76 396.42 L63.74 393.01 L64.72 393.34 L65.7 393.93 L66.68 392.57 L67.66 388.89 L68.64 389.07 L69.62 386.17 L70.6 385.12 L71.58 385.05 L72.56 384.81 L73.54 381.89 L74.52 379.77 L75.5 378.77 L76.48 378.28 L77.46 375.75 L78.44 374.69 L79.42 372.95 L80.4 372.53 L81.38 370.86 L82.36 371.08 L83.34 369.15 L84.32 368.7 L85.3 368.23 L86.28 368.05 L87.26 366.77 L88.24 366.48 L89.22 365.79 L90.2 364.89 L91.18 364.94 L92.16 364.69 L93.14 363.78 L94.12 362.26 L95.1 361.73 L96.08 360.18 L97.06 359.57 L98.04 357.83 L99.02 357.21 L100 355.21 L100.98 353.25 L101.96 351.71 L102.94 349.62 L103.92 348.22 L104.9 347.76 L105.88 346.28 L106.86 344.13 L107.84 343.03 L108.82 342.43 L109.8 341.05 L110.78 339.33 L111.76 338.23 L112.74 337.52 L113.72 335.43 L114.7 334.91 L115.68 334.24 L116.66 333.86 L117.64 332.88 L118.62 332.29 L119.6 331.35 L120.58 330.68 L121.56 329.94 L122.54 329.69 L123.52 328.85 L124.5 328.22 L125.48 327.49 L126.46 326.82 L127.44 327.52 L128.42 326.71 L129.4 326.54 L130.38 326.37 L131.36 326.73 L132.34 327.51 L133.32 326.97 L134.3 327.91 L135.28 327.93 L136.26 328.82 L137.24 329.56 L138.22 330 L139.2 330.43 L140.18 331.9 L141.16 332.7 L142.14 333.18 L143.12 334.68 L144.1 335.94 L145.08 337.35 L146.06 338.4 L147.04 340.83 L148.02 342.56 L149 343.69 L149.98 345.42 L150.96 347.07 L151.94 348.86 L152.92 351.67 L153.9 352.86 L154.88 354.67 L155.86 356.59 L156.84 358.47 L157.82 361.15 L158.8 362.97 L159.78 364.04 L160.76 366.74 L161.74 367.82 L162.72 369.64 L163.7 370.46 L164.68 372.88 L165.66 373.8 L166.64 374.68 L167.62 377.14 L168.6 377.44 L169.58 378.97 L170.56 379.59 L171.54 380.92 L172.52 382.57 L173.5 383.02 L174.48 384.36 L175.46 385.15 L176.44 385.92 L177.42 387.78 L178.4 388.25 L179.38 389.33 L180.36 389.2 L181.34 390.55 L182.32 391.25 L183.3 392.25 L184.28 392.28 L185.26 393.43 L186.24 394.38 L187.22 394.9 L188.2 395.44 L189.18 395.31 L190.16 396.65 L191.14 396.93 L192.12 396.69 L193.1 397.86 L194.08 397.65 L195.06 398.79 L196.04 399.59 L197.02 399.18 L198 400.33 L198.98 399.77 L199.96 400.61 L200.94 400.98 L201.92 401.15 L202.9 402.62 L203.88 402.86 L204.86 402.4 L205.84 403.1 L206.82 403.89 L207.8 404.21 L208.78 404.95 L209.76 404.72 L210.74 406.04 L211.72 405.97 L212.7 406.77 L213.68 407.57 L214.66 407.52 L215.64 409.17 L216.62 409.62 L217.6 410.47 L218.58 410.78 L219.56 411.17 L220.54 412.44 L221.52 413.23 L222.5 413.8 L223.48 413.68 L224.46 415.27 L225.44 414.94 L226.42 416.46 L227.4 416.31 L228.38 418.05 L229.36 417.83 L230.34 418.45 L231.32 419.31 L232.3 420.14 L233.28 420.78 L234.26 421.39 L235.24 422.64 L236.22 424 L237.2 424.04 L238.18 425.65 L239.16 425.65 L240.14 427.01 L241.12 428.48 L242.1 429.41 L243.08 429.66 L244.06 430.43 L245.04 431.23 L246.02 432.67 L247 432.44 L247.98 434.05 L248.96 434.57 L249.94 434.73 L250.92 434.39 L251.9 434.87 L252.88 435.65 L253.86 435.7 L254.84 437 L255.82 436.95 L256.8 436.97 L257.78 436.94 L258.76 437.98 L259.74 437.83 L260.72 438.97 L261.7 438.67 L262.68 439.37 L263.66 439.62 L264.64 440.02 L265.62 441.31 L266.6 440.99 L267.58 441.74 L268.56 442.39 L269.54 442.42 L270.52 442.5 L271.5 443.35 L272.48 444.27 L273.46 443.74 L274.44 445.03 L275.42 444.98 L276.4 445.62 L277.38 445.08 L278.36 445.54 L279.34 446.15 L280.32 446.41 L281.3 445.92 L282.28 446.46 L283.26 447.43 L284.24 447.75 L285.22 446.81 L286.2 447.59 L287.18 447.6 L288.16 447.89 L289.14 447.77 L290.12 448.56 L291.1 448.18 L292.08 448.63 L293.06 448.82 L294.04 448.8 L295.02 448.79 L296 447.46 L296.98 444.18 L297.96 445.78 L298.94 447.7 L299.92 449.34 L300.9 449.35 L301.88 450.42 L302.86 450.11 L303.84 449.92 L304.82 449.55 L305.8 449.32 L306.78 449.48 L307.76 449.4 L308.74 449.84 L309.72 450.05 L310.7 450.8 L311.68 450.1 L312.66 451.16 L313.64 450.65 L314.62 450.42 L315.6 450.46 L316.58 451.27 L317.56 451.1 L318.54 450.64 L319.52 451.19 L320.5 451"/>
<path d="M51 406.25 L51.98 406.63 L52.96 408.81 L53.94 403.38 L54.92 404.83 L55.9 403.49 L56.88 406.33 L57.86 404.62 L58.84 401.71 L59.82 402.28 L60.8 401.99 L61.78 402.91 L62.76 401.09 L63.74 400.28 L64.72 399.24 L65.7 397.07 L66.68 396.59 L67.66 392.54 L68.64 392.71 L69.62 391.6 L70.6 388.89 L71.58 386.68 L72.56 387.11 L73.54 385.78 L74.52 383.32 L75.5 380.16 L76.48 379.52 L77.46 375.96 L78.44 375.88 L79.42 373.37 L80.4 371.1 L81.38 370.6 L82.36 369.31 L83.34 367.34 L84.32 366.49 L85.3 365.23 L86.28 363.93 L87.26 362.66 L88.24 362.34 L89.22 360.72 L90.2 359.7 L91.18 359.19 L92.16 357.3 L93.14 356.35 L94.12 355.07 L95.1 353.89 L96.08 351.81 L97.06 350.69 L98.04 348.32 L99.02 347.14 L100 345.28 L100.98 343.56 L101.96 341.34 L102.94 339.76 L103.92 336.88 L104.9 335.6 L105.88 334.41 L106.86 331.55 L107.84 330.82 L108.82 329.32 L109.8 327.14 L110.78 326.09 L111.76 324.25 L112.74 323.15 L113.72 322.05 L114.7 320.59 L115.68 319.76 L116.66 319.38 L117.64 318.37 L118.62 316.73 L119.6 316.92 L120.58 315.62 L121.56 315.18 L122.54 314.1 L123.52 313.91 L124.5 313.96 L125.48 313.58 L126.46 313.23 L127.44 313.87 L128.42 313.35 L129.4 313.71 L130.38 315.1 L131.36 315.04 L132.34 315.92 L133.32 316.87 L134.3 318.05 L135.28 319.07 L136.26 320.53 L137.24 321.61 L138.22 322.04 L139.2 324.66 L140.18 325.21 L141.16 327.23 L142.14 328.88 L143.12 331.46 L144.1 333.02 L145.08 335.66 L146.06 336.73 L147.04 339.88 L148.02 341.41 L149 344.35 L149.98 347.4 L150.96 349.48 L151.94 352.07 L152.92 353.9 L153.9 356.64 L154.88 358.5 L155.86 359.94 L156.84 363.03 L157.82 365.07 L158.8 366.72 L159.78 368.5 L160.76 371.16 L161.74 372.99 L162.72 373.84 L163.7 375.53 L164.68 377.75 L165.66 379.62 L166.64 380.86 L167.62 382.42 L168.6 384.8 L169.58 385.67 L170.56 387.69 L171.54 388.51 L172.52 389.52 L173.5 390.91 L174.48 391.87 L175.46 392.94 L176.44 394.41 L177.42 395.23 L178.4 396.5 L179.38 397.39 L180.36 398.76 L181.34 400.02 L182.32 400.67 L183.3 401.39 L184.28 401.76 L185.26 402.24 L186.24 403.1 L187.22 403.35 L188.2 404.52 L189.18 405.09 L190.16 405.84 L191.14 406.36 L192.12 406.61 L193.1 406.61 L194.08 407.97 L195.06 407.6 L196.04 408.75 L197.02 409.43 L198 409.41 L198.98 410.19 L199.96 410.38 L200.94 411.04 L201.92 410.26 L202.9 410.6 L203.88 411.86 L204.86 412.66 L205.84 413 L206.82 413.15 L207.8 413.8 L208.78 414.22 L209.76 413.62 L210.74 415.02 L211.72 415.33 L212.7 415.93 L213.68 415.85 L214.66 416.23 L215.64 416.24 L216.62 417.26 L217.6 418.25 L218.58 418.45 L219.56 419.29 L220.54 419.94 L221.52 419.64 L222.5 420.74 L223.48 421.69 L224.46 421.35 L225.44 422.16 L226.42 423.29 L227.4 422.94 L228.38 424.59 L229.36 424.99 L230.34 425.1 L231.32 425.94 L232.3 426.47 L233.28 426.79 L234.26 427.25 L235.24 427.66 L236.22 429.15 L237.2 430.06 L238.18 429.74 L239.16 430.65 L240.14 431.09 L241.12 432.62 L242.1 433.39 L243.08 434.12 L244.06 434.35 L245.04 435.23 L246.02 435.78 L247 436.91 L247.98 437.43 L248.96 437.09 L249.94 437.74 L250.92 437.82 L251.9 438.42 L252.88 438.6 L253.86 439.4 L254.84 439.22 L255.82 439.81 L256.8 439.56 L257.78 440.18 L258.76 440.71 L259.74 440.86 L260.72 441.77 L261.7 442.11 L262.68 441.92 L263.66 442.32 L264.64 442.45 L265.62 442.27 L266.6 443.62 L267.58 442.88 L268.56 443.33 L269.54 443.65 L270.52 444.69 L271.5 444.42 L272.48 444.98 L273.46 445.23 L274.44 445.17 L275.42 446.55 L276.4 446.46 L277.38 446.03 L278.36 446.52 L279.34 446.99 L280.32 446.81 L281.3 447.5 L282.28 448.12 L283.26 447.73 L284.24 447.74 L285.22 447.63 L286.2 448.45 L287.18 448.77 L288.16 448.78 L289.14 449.22 L290.12 449.23 L291.1 449.33 L292.08 449.4 L293.06 448.86 L294.04 448.5 L295.02 448.3 L296 448.21 L296.98 446.34 L297.96 448.73 L298.94 448.36 L299.92 450.27 L300.9 450.44 L301.88 450.3 L302.86 449.15 L303.84 447.88 L304.82 447.46 L305.8 449.65 L306.78 449.01 L307.76 449.99 L308.74 450.42 L309.72 450 L310.7 450.18 L311.68 451.3 L312.66 451.16 L313.64 450.46 L314.62 450.95 L315.6 450.92 L316.58 450.86 L317.56 450.65 L318.54 450.87 L319.52 451.5 L320.5 451.79"/>
<path d="M51 408.48 L51.98 409.85 L52.96 408.06 L53.94 411.8 L54.92 408.74 L55.9 405.4 L56.88 409.41 L57.86 408.82 L58.84 406.01 L59.82 404.27 L60.8 406.18 L61.78 402.6 L62.76 401.96 L63.74 399.82 L64.72 402.15 L65.7 399.3 L66.68 399.09 L67.66 394.79 L68.64 395.31 L69.62 392.67 L70.6 390.94 L71.58 390.96 L72.56 387.61 L73.54 385.19 L74.52 384.96 L75.5 382.9 L76.48 380.31 L77.46 377.38 L78.44 376.11 L79.42 373.42 L80.4 370.8 L81.38 370 L82.36 368.22 L83.34 366.45 L84.32 364.55 L85.3 362.53 L86.28 361.68 L87.26 360.27 L88.24 357.69 L89.22 356.52 L90.2 354.88 L91.18 353.42 L92.16 351.28 L93.14 350.53 L94.12 348.21 L95.1 347.06 L96.08 344.81 L97.06 343.76 L98.04 340.91 L99.02 338.79 L100 337.12 L100.98 334.05 L101.96 331.91 L102.94 330.41 L103.92 328.17 L104.9 327.1 L105.88 325.16 L106.86 322.29 L107.84 320.62 L108.82 319.92 L109.8 317.62 L110.78 316.86 L111.76 314.56 L112.74 313.49 L113.72 313.19 L114.7 311.84 L115.68 310.5 L116.66 308.89 L117.64 307.74 L118.62 306.94 L119.6 306 L120.58 306.14 L121.56 305.92 L122.54 304.77 L123.52 305.68 L124.5 304.73 L125.48 305.54 L126.46 305.2 L127.44 306.64 L128.42 306.65 L129.4 307.09 L130.38 308.24 L131.36 309.21 L132.34 310.58 L133.32 312.13 L134.3 313.09 L135.28 314.7 L136.26 316.89 L137.24 318.24 L138.22 320.68 L139.2 322.52 L140.18 324.22 L141.16 325.48 L142.14 327.87 L143.12 330.67 L144.1 333.11 L145.08 335.31 L146.06 337.96 L147.04 340.82 L148.02 343.51 L149 345.94 L149.98 348.79 L150.96 351.36 L151.94 353.24 L152.92 355.28 L153.9 358.25 L154.88 360.55 L155.86 361.81 L156.84 364.57 L157.82 366.54 L158.8 368.54 L159.78 369.54 L160.76 371.81 L161.74 374.13 L162.72 375.23 L163.7 377.34 L164.68 379.54 L165.66 381.32 L166.64 383.12 L167.62 385.01 L168.6 386.12 L169.58 387.93 L170.56 390.56 L171.54 391.97 L172.52 392.76 L173.5 394.52 L174.48 396.5 L175.46 397.74 L176.44 398.07 L177.42 399.68 L178.4 400.84 L179.38 402.47 L180.36 403.85 L181.34 404.81 L182.32 405.33 L183.3 406.37 L184.28 406.87 L185.26 407.13 L186.24 408.86 L187.22 409.78 L188.2 409.61 L189.18 410.13 L190.16 411.15 L191.14 411.51 L192.12 412.56 L193.1 412.72 L194.08 413.75 L195.06 413.65 L196.04 413.73 L197.02 414.2 L198 414.72 L198.98 416.22 L199.96 415.59 L200.94 416.91 L201.92 417.21 L202.9 417.35 L203.88 417.8 L204.86 417.99 L205.84 418.91 L206.82 418.12 L207.8 419.68 L208.78 419.85 L209.76 419.37 L210.74 419.59 L211.72 421.25 L212.7 421.18 L213.68 420.89 L214.66 421.21 L215.64 422.32 L216.62 422.13 L217.6 423.73 L218.58 423.12 L219.56 424.38 L220.54 424.79 L221.52 425.79 L222.5 425.2 L223.48 426.44 L224.46 426.52 L225.44 427.04 L226.42 426.95 L227.4 427.58 L228.38 428.94 L229.36 429.01 L230.34 429.9 L231.32 430.35 L232.3 430.73 L233.28 430.87 L234.26 430.96 L235.24 432.08 L236.22 432.19 L237.2 432.74 L238.18 433.93 L239.16 434.82 L240.14 434.38 L241.12 436 L242.1 436.34 L243.08 436.87 L244.06 437.97 L245.04 438.43 L246.02 438.58 L247 439.36 L247.98 439.18 L248.96 439.33 L249.94 440.28 L250.92 440.09 L251.9 440.45 L252.88 440.95 L253.86 441.09 L254.84 441.81 L255.82 440.98 L256.8 441.79 L257.78 441.39 L258.76 441.87 L259.74 442.43 L260.72 443.19 L261.7 442.48 L262.68 443.49 L263.66 443.39 L264.64 443.51 L265.62 444.39 L266.6 444.64 L267.58 444.23 L268.56 445.38 L269.54 445.76 L270.52 446.11 L271.5 445.37 L272.48 445.64 L273.46 446.31 L274.44 447.33 L275.42 447.19 L276.4 446.86 L277.38 447.93 L278.36 448.21 L279.34 447.19 L280.32 448.25 L281.3 448.2 L282.28 448.66 L283.26 448.55 L284.24 448.69 L285.22 449.29 L286.2 448.8 L287.18 448.35 L288.16 449.46 L289.14 448.55 L290.12 449.13 L291.1 449.55 L292.08 449.75 L293.06 449.07 L294.04 448.51 L295.02 448.13 L296 447.02 L296.98 447.88 L297.96 447.15 L298.94 446.75 L299.92 448.21 L300.9 449.94 L301.88 449 L302.86 449.13 L303.84 449.9 L304.82 449.34 L305.8 449.9 L306.78 451.24 L307.76 451.93 L308.74 451.76 L309.72 451.19 L310.7 451.52 L311.68 451.66 L312.66 451.35 L313.64 450.65 L314.62 450.78 L315.6 450.88 L316.58 451.55 L317.56 451.63 L318.54 450.91 L319.52 451.73 L320.5 451.38"/>
<path d="M51 409.13 L51.98 414.07 L52.96 413.35 L53.94 411.51 L54.92 410.49 L55.9 409.41 L56.88 408.57 L57.86 410.42 L58.84 409.16 L59.82 404.47 L60.8 406.05 L61.78 407.12 L62.76 405.46 L63.74 401.56 L64.72 400.06 L65.7 400.02 L66.68 398.01 L67.66 398.13 L68.64 396.26 L69.62 392.68 L70.6 391.99 L71.58 391.01 L72.56 389.02 L73.54 386.67 L74.52 384.39 L75.5 382.74 L76.48 380.48 L77.46 376.83 L78.44 376.25 L79.42 373.99 L80.4 371.14 L81.38 368.64 L82.36 367.08 L83.34 365.67 L84.32 362.98 L85.3 361.4 L86.28 359.48 L87.26 358.72 L88.24 357.04 L89.22 354.05 L90.2 353.36 L91.18 351.51 L92.16 349.44 L93.14 347.04 L94.12 345 L95.1 344.28 L96.08 341.16 L97.06 340.02 L98.04 338.14 L99.02 335.42 L100 332.6 L100.98 330.64 L101.96 328.75 L102.94 326.4 L103.92 324.86 L104.9 321.91 L105.88 321.16 L106.86 318.42 L107.84 317.24 L108.82 315.3 L109.8 313.71 L110.78 311.85 L111.76 310.45 L112.74 310.11 L113.72 308.23 L114.7 306.95 L115.68 306.36 L116.66 304.94 L117.64 304.15 L118.62 303.47 L119.6 302.74 L120.58 302.56 L121.56 301.96 L122.54 301.49 L123.52 301.47 L124.5 301.81 L125.48 301.72 L126.46 303.24 L127.44 303.76 L128.42 303.98 L129.4 304.91 L130.38 306.51 L131.36 307.17 L132.34 308.59 L133.32 309.72 L134.3 312.31 L135.28 313.85 L136.26 315.22 L137.24 317.9 L138.22 319.94 L139.2 321.88 L140.18 323.21 L141.16 325.63 L142.14 329.09 L143.12 330.39 L144.1 333.62 L145.08 335.82 L146.06 338.55 L147.04 342.24 L148.02 343.89 L149 347.63 L149.98 349.12 L150.96 352.07 L151.94 354.3 L152.92 356.47 L153.9 359.61 L154.88 361.89 L155.86 363.35 L156.84 365.19 L157.82 367.35 L158.8 370.25 L159.78 372.4 L160.76 373.35 L161.74 375.1 L162.72 377.03 L163.7 379.92 L164.68 381.64 L165.66 383.09 L166.64 386.31 L167.62 388.25 L168.6 389.82 L169.58 391.3 L170.56 392.93 L171.54 395.29 L172.52 396.77 L173.5 398.82 L174.48 399.06 L175.46 400.52 L176.44 402.86 L177.42 403.41 L178.4 405.37 L179.38 406.07 L180.36 407.07 L181.34 408 L182.32 409.44 L183.3 410.35 L184.28 411.96 L185.26 411.74 L186.24 413.22 L187.22 414.3 L188.2 414.63 L189.18 415.75 L190.16 416.07 L191.14 416.37 L192.12 416.5 L193.1 417.9 L194.08 417.93 L195.06 418.95 L196.04 419.47 L197.02 419.39 L198 419.38 L198.98 420.26 L199.96 420.12 L200.94 421.6 L201.92 420.83 L202.9 421.5 L203.88 422.72 L204.86 422.93 L205.84 422.82 L206.82 422.89 L207.8 424.12 L208.78 424.19 L209.76 424.37 L210.74 424.69 L211.72 424.56 L212.7 425.39 L213.68 425.78 L214.66 426.09 L215.64 426.3 L216.62 427.19 L217.6 427.09 L218.58 427.12 L219.56 428.38 L220.54 428.19 L221.52 429.55 L222.5 429.94 L223.48 429.89 L224.46 430.36 L225.44 430.56 L226.42 430.49 L227.4 431.77 L228.38 431.87 L229.36 432.43 L230.34 432.33 L231.32 432.7 L232.3 433.5 L233.28 433.31 L234.26 434.44 L235.24 434.57 L236.22 434.89 L237.2 435.48 L238.18 435.55 L239.16 436.16 L240.14 437.1 L241.12 438.35 L242.1 438.42 L243.08 438.52 L244.06 439.48 L245.04 439.59 L246.02 439.91 L247 440.52 L247.98 441.08 L248.96 441.52 L249.94 441.02 L250.92 441.83 L251.9 441.87 L252.88 442.37 L253.86 442.51 L254.84 442.97 L255.82 443.46 L256.8 443.38 L257.78 442.91 L258.76 443.23 L259.74 444.28 L260.72 443.97 L261.7 444.41 L262.68 444.08 L263.66 444.83 L264.64 444.59 L265.62 445.62 L266.6 446.02 L267.58 445.89 L268.56 445.44 L269.54 446.68 L270.52 447.07 L271.5 446.59 L272.48 446.57 L273.46 447.36 L274.44 447.92 L275.42 447.04 L276.4 447.68 L277.38 447.32 L278.36 447.66 L279.34 448.76 L280.32 448.09 L281.3 448.05 L282.28 448.93 L283.26 448.73 L284.24 449.44 L285.22 449.63 L286.2 449.61 L287.18 449.31 L288.16 449.57 L289.14 449.58 L290.12 449.71 L291.1 449.89 L292.08 449.12 L293.06 449.44 L294.04 450.14 L295.02 448.73 L296 448 L296.98 448.1 L297.96 447.53 L298.94 446.78 L299.92 449.19 L300.9 450.81 L301.88 449.22 L302.86 449.22 L303.84 450.06 L304.82 448.77 L305.8 451.05 L306.78 451.54 L307.76 451.61 L308.74 450.55 L309.72 450.46 L310.7 450.63 L311.68 450.67 L312.66 451.57 L313.64 451.86 L314.62 451.59 L315.6 451.19 L316.58 452.06 L317.56 451.36 L318.54 452.27 L319.52 451.44 L320.5 451.98"/>
<path d="M51 410.57 L51.98 414.7 L52.96 409.96 L53.94 413.07 L54.92 410.91 L55.9 410.75 L56.88 409.91 L57.86 406.55 L58.84 406.52 L59.82 408.76 L60.8 408.86 L61.78 405.83 L62.76 403.48 L63.74 403.39 L64.72 404.2 L65.7 402.51 L66.68 399.99 L67.66 396.23 L68.64 397.35 L69.62 395.86 L70.6 393.22 L71.58 391.58 L72.56 390.48 L73.54 387.61 L74.52 386.31 L75.5 383.43 L76.48 379.33 L77.46 378.92 L78.44 375.35 L79.42 373.1 L80.4 371.38 L81.38 368.67 L82.36 366.76 L83.34 365.32 L84.32 362.76 L85.3 360.89 L86.28 359.17 L87.26 356.86 L88.24 355.5 L89.22 354.06 L90.2 352.26 L91.18 349.76 L92.16 347.37 L93.14 345.54 L94.12 343.84 L95.1 341.65 L96.08 340.01 L97.06 338.22 L98.04 335.77 L99.02 332.77 L100 330.49 L100.98 329.24 L101.96 326.83 L102.94 324.56 L103.92 321.91 L104.9 320.85 L105.88 318.65 L106.86 317.13 L107.84 314.44 L108.82 313.62 L109.8 311.84 L110.78 310.51 L111.76 308.54 L112.74 308.34 L113.72 306.57 L114.7 305.73 L115.68 304.48 L116.66 302.55 L117.64 302.42 L118.62 301.86 L119.6 300.66 L120.58 300.42 L121.56 299.41 L122.54 299.58 L123.52 300.53 L124.5 300.47 L125.48 300.98 L126.46 300.96 L127.44 301.97 L128.42 302.28 L129.4 303.59 L130.38 304.47 L131.36 305.8 L132.34 307.82 L133.32 309.87 L134.3 311.96 L135.28 313.01 L136.26 315.91 L137.24 317.43 L138.22 319.88 L139.2 322.24 L140.18 323.95 L141.16 326.13 L142.14 328.77 L143.12 331.84 L144.1 333.3 L145.08 336.59 L146.06 339.19 L147.04 341.71 L148.02 345.2 L149 348 L149.98 350.17 L150.96 353.09 L151.94 355.15 L152.92 358.22 L153.9 360.55 L154.88 361.9 L155.86 364.41 L156.84 367.29 L157.82 368.39 L158.8 370.54 L159.78 372.87 L160.76 375.87 L161.74 377.06 L162.72 379.88 L163.7 381.08 L164.68 383.8 L165.66 385.48 L166.64 387.9 L167.62 390.05 L168.6 391.88 L169.58 394.78 L170.56 396.18 L171.54 398.29 L172.52 399.72 L173.5 400.7 L174.48 403.09 L175.46 404.71 L176.44 405.61 L177.42 407.29 L178.4 408.73 L179.38 409.98 L180.36 411.25 L181.34 412.77 L182.32 413.11 L183.3 413.95 L184.28 415.28 L185.26 416.26 L186.24 416.46 L187.22 417.62 L188.2 418.1 L189.18 418.93 L190.16 419.3 L191.14 419.94 L192.12 421.18 L193.1 421.54 L194.08 422.14 L195.06 422.88 L196.04 422.64 L197.02 423.13 L198 424.32 L198.98 423.84 L199.96 423.94 L200.94 424.92 L201.92 424.97 L202.9 425.94 L203.88 425.91 L204.86 426.11 L205.84 426.76 L206.82 427 L207.8 427.5 L208.78 427.26 L209.76 427.38 L210.74 428.77 L211.72 427.99 L212.7 429.01 L213.68 428.99 L214.66 429.82 L215.64 430.05 L216.62 429.68 L217.6 430.28 L218.58 430.8 L219.56 431.3 L220.54 432.13 L221.52 432.06 L222.5 431.89 L223.48 433.3 L224.46 433.7 L225.44 433.87 L226.42 433.52 L227.4 433.74 L228.38 433.93 L229.36 434.34 L230.34 435.7 L231.32 435.43 L232.3 435.46 L233.28 436.22 L234.26 436.48 L235.24 437.46 L236.22 437.76 L237.2 438.38 L238.18 438.23 L239.16 438.54 L240.14 438.72 L241.12 439.9 L242.1 440.24 L243.08 440.05 L244.06 440.85 L245.04 441.31 L246.02 442.41 L247 442.21 L247.98 442.85 L248.96 443.26 L249.94 442.28 L250.92 443.06 L251.9 443.81 L252.88 443.3 L253.86 443.54 L254.84 444.05 L255.82 443.73 L256.8 443.72 L257.78 444.94 L258.76 444.05 L259.74 444.55 L260.72 444.48 L261.7 445.84 L262.68 446.1 L263.66 445.34 L264.64 445.93 L265.62 446.27 L266.6 446.88 L267.58 447.1 L268.56 446.2 L269.54 446.29 L270.52 446.49 L271.5 447.43 L272.48 447.08 L273.46 448.06 L274.44 447.48 L275.42 448.02 L276.4 448.12 L277.38 448.1 L278.36 448.19 L279.34 448.57 L280.32 449.49 L281.3 449.14 L282.28 449.19 L283.26 449.84 L284.24 449.43 L285.22 449.99 L286.2 449.8 L287.18 450.17 L288.16 450.08 L289.14 449.56 L290.12 449.73 L291.1 449.88 L292.08 449.5 L293.06 449.97 L294.04 449.15 L295.02 449.33 L296 448.38 L296.98 447.62 L297.96 447.97 L298.94 448.88 L299.92 449.18 L300.9 451.08 L301.88 450.41 L302.86 450.36 L303.84 449.21 L304.82 449.9 L305.8 449.45 L306.78 450.32 L307.76 451.09 L308.74 450.24 L309.72 451.68 L310.7 450.69 L311.68 450.87 L312.66 451.77 L313.64 452.06 L314.62 451.35 L315.6 451.7 L316.58 451.11 L317.56 451.63 L318.54 451.62 L319.52 451.36 L320.5 452.41"/>
<path d="M51 410.58 L51.98 409.9 L52.96 413.57 L53.94 410.48 L54.92 408.56 L55.9 411.02 L56.88 410.55 L57.86 408.02 L58.84 407.24 L59.82 405.95 L60.8 408.21 L61.78 406.09 L62.76 405.67 L63.74 405.54 L64.72 402.52 L65.7 400.59 L66.68 399.15 L67.66 399.05 L68.64 397.93 L69.62 395.61 L70.6 393.2 L71.58 390.5 L72.56 388.72 L73.54 386.83 L74.52 384.21 L75.5 383.9 L76.48 380.29 L77.46 378.48 L78.44 376.4 L79.42 374.05 L80.4 371.09 L81.38 368.63 L82.36 366.24 L83.34 364.79 L84.32 363.03 L85.3 360.67 L86.28 358.69 L87.26 356.22 L88.24 354.58 L89.22 352.39 L90.2 350.27 L91.18 349.27 L92.16 346.55 L93.14 344.55 L94.12 343.14 L95.1 340.54 L96.08 338.94 L97.06 335.9 L98.04 333.46 L99.02 331.13 L100 329.49 L100.98 326.83 L101.96 324.79 L102.94 323.21 L103.92 320.22 L104.9 319.22 L105.88 316.76 L106.86 314.64 L107.84 312.95 L108.82 311.41 L109.8 310.44 L110.78 308.64 L111.76 306.93 L112.74 305.82 L113.72 305.44 L114.7 304.18 L115.68 302.63 L116.66 301.34 L117.64 300.52 L118.62 299.57 L119.6 298.5 L120.58 299.26 L121.56 298.15 L122.54 299.29 L123.52 299.13 L124.5 299.67 L125.48 299.53 L126.46 299.43 L127.44 300.76 L128.42 301.45 L129.4 302.51 L130.38 303.83 L131.36 305.83 L132.34 307.72 L133.32 308.64 L134.3 310.52 L135.28 313.67 L136.26 315.15 L137.24 316.94 L138.22 319.39 L139.2 322.06 L140.18 324.51 L141.16 326.62 L142.14 328.95 L143.12 331.92 L144.1 333.94 L145.08 337.1 L146.06 339.04 L147.04 341.85 L148.02 345.59 L149 348.18 L149.98 350.85 L150.96 353.5 L151.94 355.83 L152.92 358.93 L153.9 360.19 L154.88 363.37 L155.86 366.01 L156.84 367.31 L157.82 370.32 L158.8 372.63 L159.78 374.51 L160.76 376.36 L161.74 379.32 L162.72 380.36 L163.7 382.81 L164.68 384.77 L165.66 387.48 L166.64 389.68 L167.62 391.59 L168.6 394.11 L169.58 395.9 L170.56 398.8 L171.54 400.6 L172.52 402.29 L173.5 403.29 L174.48 404.83 L175.46 406.42 L176.44 407.97 L177.42 409.48 L178.4 411.32 L179.38 412.79 L180.36 413.54 L181.34 415.49 L182.32 415.89 L183.3 416.78 L184.28 417.83 L185.26 418.49 L186.24 420.4 L187.22 420.67 L188.2 421.71 L189.18 422.29 L190.16 422.87 L191.14 423.95 L192.12 424.64 L193.1 424.13 L194.08 424.75 L195.06 424.87 L196.04 425.88 L197.02 426.78 L198 426.93 L198.98 427.42 L199.96 427.67 L200.94 427.6 L201.92 428.65 L202.9 429.18 L203.88 428.33 L204.86 428.93 L205.84 429.38 L206.82 429.45 L207.8 429.85 L208.78 430.98 L209.76 431.32 L210.74 430.88 L211.72 431.14 L212.7 431.19 L213.68 431.98 L214.66 432.34 L215.64 432.78 L216.62 432.31 L217.6 433.75 L218.58 433.15 L219.56 433.81 L220.54 433.87 L221.52 433.84 L222.5 434.54 L223.48 435.11 L224.46 435.91 L225.44 436.03 L226.42 436.36 L227.4 436.79 L228.38 436.88 L229.36 436.76 L230.34 437.59 L231.32 437.65 L232.3 437.66 L233.28 437.83 L234.26 437.89 L235.24 438.97 L236.22 439.15 L237.2 439.49 L238.18 439.83 L239.16 440.3 L240.14 440.34 L241.12 441 L242.1 441.74 L243.08 441.46 L244.06 442.91 L245.04 442.5 L246.02 442.8 L247 443.16 L247.98 443.17 L248.96 443.15 L249.94 443.8 L250.92 444.29 L251.9 444.05 L252.88 444.58 L253.86 444.62 L254.84 445.34 L255.82 445.09 L256.8 444.85 L257.78 444.77 L258.76 445 L259.74 445.47 L260.72 446.43 L261.7 445.51 L262.68 445.67 L263.66 446.44 L264.64 446.01 L265.62 447.21 L266.6 447.56 L267.58 447.35 L268.56 446.86 L269.54 447.58 L270.52 448.28 L271.5 447.91 L272.48 448.23 L273.46 447.75 L274.44 447.96 L275.42 448.11 L276.4 448.9 L277.38 448.65 L278.36 449.49 L279.34 448.58 L280.32 449.45 L281.3 449.13 L282.28 449.33 L283.26 449.47 L284.24 449.86 L285.22 449.7 L286.2 449.61 L287.18 449.88 L288.16 449.33 L289.14 450.17 L290.12 449.72 L291.1 450.09 L292.08 450.83 L293.06 450.55 L294.04 449 L295.02 449.37 L296 448.71 L296.98 447.11 L297.96 446.32 L298.94 448.62 L299.92 450.23 L300.9 451.9 L301.88 451.9 L302.86 450.17 L303.84 448.61 L304.82 450.22 L305.8 450.61 L306.78 449.78 L307.76 450.4 L308.74 450.86 L309.72 451.92 L310.7 451.24 L311.68 451.16 L312.66 451.59 L313.64 451.88 L314.62 452.09 L315.6 451.89 L316.58 452.35 L317.56 452.02 L318.54 452.34 L319.52 452.09 L320.5 451.64"/>
<path d="M51 414.82 L51.98 410.22 L52.96 412.66 L53.94 410.79 L54.92 409.2 L55.9 410.93 L56.88 411.32 L57.86 408.9 L58.84 406.81 L59.82 408.64 L60.8 406.12 L61.78 407.94 L62.76 403.81 L63.74 403.92 L64.72 401.64 L65.7 400.9 L66.68 399.42 L67.66 399.88 L68.64 395.41 L69.62 397.16 L70.6 392.81 L71.58 392.31 L72.56 388.6 L73.54 389.06 L74.52 384.44 L75.5 383.75 L76.48 379.61 L77.46 377.52 L78.44 376.53 L79.42 373.39 L80.4 370.6 L81.38 368.94 L82.36 366.72 L83.34 364.94 L84.32 362.44 L85.3 360.08 L86.28 358.3 L87.26 356.48 L88.24 354.56 L89.22 352.61 L90.2 350.29 L91.18 347.63 L92.16 345.2 L93.14 343.4 L94.12 341.6 L95.1 339.63 L96.08 337.87 L97.06 334.5 L98.04 332.73 L99.02 330.02 L100 328.15 L100.98 325.07 L101.96 323.03 L102.94 321.64 L103.92 319.46 L104.9 317.57 L105.88 315.24 L106.86 314.12 L107.84 311.3 L108.82 309.61 L109.8 308.48 L110.78 307.63 L111.76 306.26 L112.74 304.83 L113.72 303.2 L114.7 301.73 L115.68 301.52 L116.66 299.89 L117.64 298.99 L118.62 298.97 L119.6 297.88 L120.58 297.41 L121.56 297.99 L122.54 297.8 L123.52 298.36 L124.5 298.43 L125.48 298.08 L126.46 299.62 L127.44 300.38 L128.42 300.84 L129.4 302.8 L130.38 303.92 L131.36 305.8 L132.34 307.32 L133.32 309.17 L134.3 310.31 L135.28 313.02 L136.26 314.46 L137.24 316.72 L138.22 319.12 L139.2 321.17 L140.18 323.8 L141.16 326.86 L142.14 328.86 L143.12 331.08 L144.1 334.48 L145.08 336.86 L146.06 340.07 L147.04 342.76 L148.02 346.23 L149 349.03 L149.98 351.65 L150.96 354.52 L151.94 356.68 L152.92 358.57 L153.9 361.64 L154.88 364.14 L155.86 366.03 L156.84 368.85 L157.82 370.85 L158.8 373.32 L159.78 376.38 L160.76 378.42 L161.74 380.94 L162.72 383.48 L163.7 385.68 L164.68 387.82 L165.66 390.25 L166.64 392.41 L167.62 394.28 L168.6 396.72 L169.58 399.65 L170.56 401.32 L171.54 402.86 L172.52 405.24 L173.5 406.5 L174.48 408.87 L175.46 410.21 L176.44 412.58 L177.42 413.57 L178.4 415.24 L179.38 415.84 L180.36 417.6 L181.34 418.99 L182.32 419.42 L183.3 421.26 L184.28 422.27 L185.26 423.53 L186.24 424.02 L187.22 424.5 L188.2 425.59 L189.18 426.07 L190.16 427.17 L191.14 427.2 L192.12 427.9 L193.1 428.85 L194.08 428.71 L195.06 429.58 L196.04 430.37 L197.02 430.95 L198 430.48 L198.98 430.72 L199.96 431.31 L200.94 431.81 L201.92 432.39 L202.9 431.97 L203.88 433.23 L204.86 432.96 L205.84 433.1 L206.82 433.72 L207.8 433.24 L208.78 434.56 L209.76 434.74 L210.74 434.39 L211.72 434.79 L212.7 434.85 L213.68 434.98 L214.66 435.58 L215.64 435.77 L216.62 436.46 L217.6 436.66 L218.58 436.94 L219.56 437.19 L220.54 437.16 L221.52 437.24 L222.5 438.38 L223.48 438.09 L224.46 437.84 L225.44 438.93 L226.42 438.6 L227.4 439.64 L228.38 438.76 L229.36 439.79 L230.34 440.2 L231.32 439.44 L232.3 440.12 L233.28 441.02 L234.26 440.94 L235.24 440.89 L236.22 441.75 L237.2 441.45 L238.18 442.45 L239.16 442.22 L240.14 442.83 L241.12 442.86 L242.1 442.95 L243.08 443.89 L244.06 444.24 L245.04 444.05 L246.02 444.59 L247 444.41 L247.98 445.19 L248.96 445.65 L249.94 445.36 L250.92 445.42 L251.9 446.03 L252.88 445.84 L253.86 445.31 L254.84 446.33 L255.82 446.46 L256.8 446.64 L257.78 447.01 L258.76 446.31 L259.74 446.34 L260.72 446.8 L261.7 446.63 L262.68 446.82 L263.66 447.93 L264.64 447.18 L265.62 447.37 L266.6 447.47 L267.58 448.53 L268.56 448.6 L269.54 448.12 L270.52 448.9 L271.5 448.02 L272.48 449.1 L273.46 448.82 L274.44 448.79 L275.42 449.26 L276.4 449.69 L277.38 448.84 L278.36 449.74 L279.34 449.51 L280.32 449.55 L281.3 450.26 L282.28 450.24 L283.26 450.43 L284.24 450.2 L285.22 449.47 L286.2 450.01 L287.18 450.74 L288.16 449.88 L289.14 449.75 L290.12 449.81 L291.1 450.87 L292.08 450.93 L293.06 450.76 L294.04 451.19 L295.02 451.17 L296 449.77 L296.98 447.31 L297.96 446.49 L298.94 450.1 L299.92 450.61 L300.9 450.71 L301.88 450.05 L302.86 450.6 L303.84 449.37 L304.82 447.66 L305.8 449.17 L306.78 452.28 L307.76 450.97 L308.74 450.79 L309.72 451.37 L310.7 451.3 L311.68 451.15 L312.66 451.22 L313.64 451.44 L314.62 452.14 L315.6 451.96 L316.58 451.63 L317.56 452.17 L318.54 451.46 L319.52 451.48 L320.5 452.27"/>
<path d="M51 411.24 L51.98 411.73 L52.96 410.15 L53.94 411.47 L54.92 410.44 L55.9 410.55 L56.88 411.82 L57.86 408.27 L58.84 407.75 L59.82 408.67 L60.8 407.08 L61.78 408.46 L62.76 404.13 L63.74 404.26 L64.72 402.93 L65.7 402.36 L66.68 398.85 L67.66 398.16 L68.64 398.83 L69.62 394.65 L70.6 394.54 L71.58 392.17 L72.56 389.17 L73.54 386.73 L74.52 386.52 L75.5 382.38 L76.48 381.48 L77.46 377.78 L78.44 376.21 L79.42 373.93 L80.4 370.49 L81.38 368.35 L82.36 367 L83.34 364.11 L84.32 361.78 L85.3 359.83 L86.28 358.45 L87.26 355.69 L88.24 353.4 L89.22 351.94 L90.2 348.78 L91.18 346.75 L92.16 345.02 L93.14 343.16 L94.12 340.82 L95.1 339.06 L96.08 336.2 L97.06 333.99 L98.04 331.79 L99.02 328.76 L100 327.44 L100.98 325.08 L101.96 322.52 L102.94 320.69 L103.92 317.71 L104.9 316.47 L105.88 313.77 L106.86 312.59 L107.84 310.09 L108.82 309.26 L109.8 307.67 L110.78 306.46 L111.76 305.33 L112.74 304.18 L113.72 302.19 L114.7 301.07 L115.68 300.11 L116.66 299.63 L117.64 298.05 L118.62 297.36 L119.6 296.39 L120.58 296.59 L121.56 296.88 L122.54 297.31 L123.52 296.77 L124.5 297.08 L125.48 298.36 L126.46 298.45 L127.44 299.02 L128.42 300.72 L129.4 301.83 L130.38 302.78 L131.36 304.53 L132.34 307.2 L133.32 309.2 L134.3 311.02 L135.28 312.48 L136.26 315.33 L137.24 317.78 L138.22 319 L139.2 321.56 L140.18 324.07 L141.16 326.31 L142.14 329.29 L143.12 332.32 L144.1 334.73 L145.08 337.72 L146.06 340.52 L147.04 343.32 L148.02 346.52 L149 349.03 L149.98 351.95 L150.96 354.14 L151.94 357.03 L152.92 360.46 L153.9 362.97 L154.88 364.64 L155.86 367.3 L156.84 369.63 L157.82 372.29 L158.8 375.64 L159.78 378.13 L160.76 380.19 L161.74 382.77 L162.72 385.4 L163.7 388.06 L164.68 389.6 L165.66 392.97 L166.64 395.42 L167.62 397.83 L168.6 400.26 L169.58 402.64 L170.56 404.72 L171.54 406.73 L172.52 408.37 L173.5 410.62 L174.48 412.64 L175.46 413.55 L176.44 415.87 L177.42 417.25 L178.4 418.19 L179.38 419.56 L180.36 421.39 L181.34 422.34 L182.32 423.1 L183.3 424.59 L184.28 426.41 L185.26 426.92 L186.24 428.4 L187.22 428.69 L188.2 428.78 L189.18 430.26 L190.16 431.02 L191.14 431.88 L192.12 432.12 L193.1 432.02 L194.08 432.46 L195.06 434.01 L196.04 434.12 L197.02 434.11 L198 435.04 L198.98 434.57 L199.96 435.59 L200.94 435.63 L201.92 436.16 L202.9 436.67 L203.88 436.59 L204.86 436.9 L205.84 436.91 L206.82 436.77 L207.8 437.9 L208.78 438.07 L209.76 437.96 L210.74 437.87 L211.72 438.61 L212.7 439.11 L213.68 439.13 L214.66 439.71 L215.64 439.37 L216.62 438.93 L217.6 439.89 L218.58 439.69 L219.56 440.54 L220.54 440.78 L221.52 440.3 L222.5 441.48 L223.48 441.54 L224.46 441.79 L225.44 441.12 L226.42 441.41 L227.4 442.04 L228.38 441.74 L229.36 441.72 L230.34 442.93 L231.32 442.99 L232.3 443.32 L233.28 443.29 L234.26 443.67 L235.24 443.19 L236.22 444.1 L237.2 443.39 L238.18 443.66 L239.16 444.48 L240.14 444.93 L241.12 444.34 L242.1 445.27 L243.08 445.3 L244.06 446.01 L245.04 445.39 L246.02 446.51 L247 445.63 L247.98 446.84 L248.96 446.17 L249.94 447.08 L250.92 446.53 L251.9 447.16 L252.88 446.69 L253.86 447.23 L254.84 447.35 L255.82 446.74 L256.8 447.26 L257.78 447.87 L258.76 448.07 L259.74 447.37 L260.72 448.27 L261.7 448.29 L262.68 447.73 L263.66 448.62 L264.64 448.69 L265.62 448.81 L266.6 448.71 L267.58 448.55 L268.56 449 L269.54 449.52 L270.52 448.6 L271.5 449.37 L272.48 449.09 L273.46 449.55 L274.44 449.7 L275.42 449.99 L276.4 449.59 L277.38 450.09 L278.36 449.74 L279.34 449.66 L280.32 450.67 L281.3 450.45 L282.28 450.08 L283.26 449.83 L284.24 450.21 L285.22 451.03 L286.2 450.87 L287.18 450.71 L288.16 450.22 L289.14 450.45 L290.12 451.2 L291.1 451.26 L292.08 450.58 L293.06 450.79 L294.04 450.4 L295.02 449.57 L296 450.83 L296.98 447.54 L297.96 447.35 L298.94 451.24 L299.92 449.59 L300.9 450.45 L301.88 450.71 L302.86 450.6 L303.84 448.98 L304.82 449.68 L305.8 449.23 L306.78 450.16 L307.76 451.75 L308.74 452.75 L309.72 451.3 L310.7 452.16 L311.68 451.76 L312.66 451.16 L313.64 452.14 L314.62 451.48 L315.6 451.69 L316.58 452.1 L317.56 451.53 L318.54 451.93 L319.52 451.45 L320.5 451.89"/>
<path d="M51 411.29 L51.98 411.4 L52.96 411.05 L53.94 414.6 L54.92 411.36 L55.9 413.05 L56.88 408.25 L57.86 408.17 L58.84 410.95 L59.82 409.69 L60.8 405.83 L61.78 405.64 L62.76 406.97 L63.74 404.2 L64.72 403.93 L65.7 403.32 L66.68 400.68 L67.66 400.69 L68.64 398.89 L69.62 394.26 L70.6 395.75 L71.58 391.59 L72.56 391.04 L73.54 389.38 L74.52 386.08 L75.5 382.94 L76.48 379.74 L77.46 377.29 L78.44 375.08 L79.42 373.85 L80.4 370.46 L81.38 368.35 L82.36 365.74 L83.34 364.23 L84.32 362.08 L85.3 359.75 L86.28 357.5 L87.26 355.6 L88.24 353.12 L89.22 351.51 L90.2 348.59 L91.18 345.96 L92.16 344.62 L93.14 342.48 L94.12 340.07 L95.1 337.18 L96.08 335.24 L97.06 332.52 L98.04 330.37 L99.02 328.65 L100 325.38 L100.98 323.77 L101.96 321.82 L102.94 319.19 L103.92 317.2 L104.9 315.65 L105.88 313.57 L106.86 310.77 L107.84 310.03 L108.82 307.46 L109.8 306.92 L110.78 304.71 L111.76 304.54 L112.74 301.99 L113.72 301.3 L114.7 300.5 L115.68 299.59 L116.66 297.52 L117.64 297.38 L118.62 296.55 L119.6 296.18 L120.58 296.37 L121.56 296.36 L122.54 295.6 L123.52 295.97 L124.5 296.06 L125.48 297.28 L126.46 297.16 L127.44 298.86 L128.42 300.56 L129.4 300.81 L130.38 302.96 L131.36 304.52 L132.34 306.64 L133.32 309 L134.3 310.36 L135.28 313.28 L136.26 314.69 L137.24 317.35 L138.22 319.66 L139.2 322.43 L140.18 324.48 L141.16 326.59 L142.14 329.98 L143.12 332.36 L144.1 334.42 L145.08 337.37 L146.06 340.05 L147.04 343.8 L148.02 346.34 L149 349.86 L149.98 351.53 L150.96 354.91 L151.94 357.16 L152.92 360.68 L153.9 363.66 L154.88 366.17 L155.86 368.29 L156.84 370.57 L157.82 373.96 L158.8 375.82 L159.78 379.27 L160.76 382.03 L161.74 383.94 L162.72 387.25 L163.7 389.33 L164.68 391.43 L165.66 394.57 L166.64 397.71 L167.62 399.43 L168.6 401.94 L169.58 404.16 L170.56 406.26 L171.54 409.08 L172.52 410.42 L173.5 412.96 L174.48 414.17 L175.46 415.5 L176.44 417.73 L177.42 418.99 L178.4 421.22 L179.38 422.22 L180.36 424.11 L181.34 425.12 L182.32 426.57 L183.3 426.61 L184.28 428.27 L185.26 429.65 L186.24 429.96 L187.22 430.6 L188.2 431.61 L189.18 432.44 L190.16 432.86 L191.14 433.87 L192.12 433.98 L193.1 435.01 L194.08 434.95 L195.06 436.27 L196.04 436.39 L197.02 436.96 L198 436.67 L198.98 437.83 L199.96 437.59 L200.94 438.48 L201.92 437.94 L202.9 438.67 L203.88 439.38 L204.86 438.96 L205.84 439.25 L206.82 438.91 L207.8 439.35 L208.78 440.6 L209.76 440.17 L210.74 440.43 L211.72 440.84 L212.7 441.36 L213.68 440.78 L214.66 441.39 L215.64 441.38 L216.62 441.54 L217.6 442.16 L218.58 442.51 L219.56 441.91 L220.54 442.4 L221.52 443.05 L222.5 443.26 L223.48 442.64 L224.46 443.55 L225.44 442.66 L226.42 443.82 L227.4 443.44 L228.38 443.41 L229.36 443.4 L230.34 443.36 L231.32 443.59 L232.3 444.47 L233.28 445.02 L234.26 445.16 L235.24 445.29 L236.22 445.48 L237.2 445.17 L238.18 445.28 L239.16 445.79 L240.14 445.16 L241.12 446.28 L242.1 445.82 L243.08 446.66 L244.06 446.99 L245.04 447.09 L246.02 447.24 L247 447.67 L247.98 447.33 L248.96 447.89 L249.94 447.47 L250.92 447.16 L251.9 447.98 L252.88 448.3 L253.86 447.54 L254.84 448.46 L255.82 447.76 L256.8 447.55 L257.78 448.74 L258.76 448.68 L259.74 447.97 L260.72 448.9 L261.7 448.45 L262.68 448.11 L263.66 449.3 L264.64 449.46 L265.62 449.28 L266.6 449.55 L267.58 448.61 L268.56 449.22 L269.54 449.76 L270.52 449.22 L271.5 449.54 L272.48 449.93 L273.46 449.12 L274.44 449.45 L275.42 449.52 L276.4 449.72 L277.38 449.8 L278.36 449.71 L279.34 450.86 L280.32 450.13 L281.3 450.14 L282.28 450.76 L283.26 450.79 L284.24 450.05 L285.22 451.2 L286.2 450.67 L287.18 450.68 L288.16 451.1 L289.14 450.4 L290.12 451.26 L291.1 450.84 L292.08 451.32 L293.06 450.49 L294.04 449.82 L295.02 450.51 L296 449.07 L296.98 450.8 L297.96 447.3 L298.94 448.86 L299.92 449.55 L300.9 451.39 L301.88 451.79 L302.86 451.92 L303.84 449.95 L304.82 450.21 L305.8 450.33 L306.78 451.32 L307.76 451.37 L308.74 452.59 L309.72 452.24 L310.7 452.32 L311.68 451.62 L312.66 452.31 L313.64 452.06 L314.62 452.32 L315.6 451.74 L316.58 451.97 L317.56 451.48 L318.54 451.61 L319.52 452.76 L320.5 452.05"/>
<path d="M51 412.33 L51.98 414.03 L52.96 410.77 L53.94 414.13 L54.92 413.65 L55.9 413.84 L56.88 410.47 L57.86 410.94 L58.84 407.69 L59.82 408.05 L60.8 409.67 L61.78 407.04 L62.76 408.27 L63.74 404.77 L64.72 403.57 L65.7 402.05 L66.68 400.82 L67.66 398.56 L68.64 398.39 L69.62 396.97 L70.6 395.42 L71.58 392.92 L72.56 391.32 L73.54 388.64 L74.52 385.84 L75.5 384.59 L76.48 381.21 L77.46 377.81 L78.44 375.89 L79.42 373.68 L80.4 370.62 L81.38 368.71 L82.36 366.42 L83.34 363.59 L84.32 362.09 L85.3 359.88 L86.28 357.17 L87.26 354.57 L88.24 352.28 L89.22 350.5 L90.2 347.9 L91.18 346.44 L92.16 344.09 L93.14 341.73 L94.12 339.07 L95.1 336.25 L96.08 334.36 L97.06 331.84 L98.04 329.36 L99.02 326.66 L100 324.23 L100.98 322.62 L101.96 320.21 L102.94 317.67 L103.92 315.54 L104.9 314.4 L105.88 312.78 L106.86 310.29 L107.84 308.01 L108.82 306.74 L109.8 305.03 L110.78 303.95 L111.76 302.84 L112.74 302.15 L113.72 300 L114.7 298.77 L115.68 298.22 L116.66 296.75 L117.64 296.42 L118.62 296.02 L119.6 295.23 L120.58 294.53 L121.56 295.11 L122.54 295.48 L123.52 295.6 L124.5 296.15 L125.48 296.57 L126.46 297.11 L127.44 298.4 L128.42 299.54 L129.4 300.85 L130.38 302.22 L131.36 304.32 L132.34 306.61 L133.32 308.73 L134.3 310.54 L135.28 312.51 L136.26 314.38 L137.24 317.17 L138.22 319.88 L139.2 322.24 L140.18 324.22 L141.16 327.04 L142.14 330.16 L143.12 332.56 L144.1 335.51 L145.08 338 L146.06 341.52 L147.04 343.98 L148.02 346.91 L149 349.08 L149.98 352.73 L150.96 355.45 L151.94 358.22 L152.92 361.05 L153.9 364.25 L154.88 366.97 L155.86 368.74 L156.84 371.36 L157.82 374.19 L158.8 377.58 L159.78 379.37 L160.76 382.13 L161.74 384.55 L162.72 387.55 L163.7 390.52 L164.68 392.91 L165.66 395.37 L166.64 398.52 L167.62 401.35 L168.6 403.69 L169.58 406.23 L170.56 408.52 L171.54 409.78 L172.52 412.47 L173.5 413.9 L174.48 415.66 L175.46 417.26 L176.44 419.06 L177.42 421.08 L178.4 422.2 L179.38 423.94 L180.36 425.52 L181.34 426.4 L182.32 428.37 L183.3 429.49 L184.28 430.52 L185.26 431.56 L186.24 432.45 L187.22 432.49 L188.2 434.05 L189.18 433.64 L190.16 434.86 L191.14 435.35 L192.12 435.8 L193.1 436.36 L194.08 436.93 L195.06 437.43 L196.04 437.99 L197.02 438.79 L198 438.96 L198.98 438.88 L199.96 438.71 L200.94 439.97 L201.92 439.95 L202.9 439.54 L203.88 439.71 L204.86 441.08 L205.84 441.03 L206.82 441.18 L207.8 441.52 L208.78 441.3 L209.76 441.28 L210.74 442.16 L211.72 441.56 L212.7 442.14 L213.68 442.83 L214.66 442.79 L215.64 442.83 L216.62 443.15 L217.6 443.52 L218.58 442.93 L219.56 443.17 L220.54 443.35 L221.52 443.85 L222.5 444.32 L223.48 443.51 L224.46 444.49 L225.44 444.76 L226.42 443.76 L227.4 444.3 L228.38 444.57 L229.36 445.04 L230.34 445.38 L231.32 445.68 L232.3 444.69 L233.28 445.79 L234.26 445.64 L235.24 445.31 L236.22 446.45 L237.2 446.31 L238.18 445.91 L239.16 446.78 L240.14 446.61 L241.12 447.05 L242.1 447.47 L243.08 447.51 L244.06 447.42 L245.04 447.32 L246.02 446.97 L247 447.01 L247.98 447.84 L248.96 447.59 L249.94 448.45 L250.92 447.77 L251.9 448.34 L252.88 448.07 L253.86 447.79 L254.84 448.22 L255.82 448.17 L256.8 448.17 L257.78 448.67 L258.76 448.8 L259.74 449.03 L260.72 448.93 L261.7 449.15 L262.68 449.01 L263.66 448.71 L264.64 448.95 L265.62 449.42 L266.6 449.97 L267.58 448.99 L268.56 449.58 L269.54 449.89 L270.52 450.05 L271.5 450.11 L272.48 450.09 L273.46 450.03 L274.44 449.96 L275.42 449.65 L276.4 449.81 L277.38 450.38 L278.36 449.81 L279.34 449.84 L280.32 451.06 L281.3 449.91 L282.28 449.99 L283.26 451.2 L284.24 450.83 L285.22 451.11 L286.2 450.7 L287.18 451.02 L288.16 450.54 L289.14 451.49 L290.12 450.31 L291.1 450.44 L292.08 451.08 L293.06 451.25 L294.04 450.23 L295.02 451.21 L296 450.19 L296.98 447.82 L297.96 447.79 L298.94 448.15 L299.92 451.91 L300.9 452.35 L301.88 452.5 L302.86 450.82 L303.84 450.42 L304.82 450.34 L305.8 450.21 L306.78 452.42 L307.76 452.81 L308.74 452.51 L309.72 451.79 L310.7 451.52 L311.68 452.21 L312.66 451.67 L313.64 451.36 L314.62 451.74 L315.6 452.21 L316.58 452.61 L317.56 451.55 L318.54 451.57 L319.52 451.66 L320.5 452.55"/>
<path d="M51 415.12 L51.98 416.22 L52.96 412.06 L53.94 411.43 L54.92 412.01 L55.9 413.04 L56.88 413.79 L57.86 412.15 L58.84 412.35 L59.82 408.24 L60.8 408.79 L61.78 405.37 L62.76 408.7 L63.74 405.72 L64.72 404.72 L65.7 402.23 L66.68 402.23 L67.66 400.16 L68.64 399.56 L69.62 397.26 L70.6 394.12 L71.58 391.63 L72.56 389.56 L73.54 388.52 L74.52 386.55 L75.5 383.14 L76.48 380.99 L77.46 379.42 L78.44 375.16 L79.42 373.79 L80.4 370.69 L81.38 368.01 L82.36 365.89 L83.34 363.9 L84.32 361.22 L85.3 359.07 L86.28 356.84 L87.26 354.78 L88.24 352.72 L89.22 349.84 L90.2 346.95 L91.18 345.44 L92.16 343.23 L93.14 340.13 L94.12 337.95 L95.1 335.23 L96.08 333.99 L97.06 331.25 L98.04 328.36 L99.02 326.66 L100 323.26 L100.98 321.88 L101.96 319.64 L102.94 317.35 L103.92 315.2 L104.9 312.85 L105.88 310.41 L106.86 309.21 L107.84 307.57 L108.82 305.81 L109.8 304.66 L110.78 303.26 L111.76 302.32 L112.74 300.68 L113.72 299.36 L114.7 298.09 L115.68 296.64 L116.66 296.22 L117.64 295.37 L118.62 294.74 L119.6 294.09 L120.58 293.69 L121.56 294.03 L122.54 294.79 L123.52 294.28 L124.5 295.78 L125.48 296.08 L126.46 296.2 L127.44 297.27 L128.42 298.61 L129.4 300.64 L130.38 301.89 L131.36 304.48 L132.34 305.23 L133.32 307.71 L134.3 309.69 L135.28 311.98 L136.26 314.83 L137.24 316.72 L138.22 319.71 L139.2 321.4 L140.18 324.94 L141.16 326.73 L142.14 330.24 L143.12 333.01 L144.1 335.55 L145.08 337.8 L146.06 341.13 L147.04 344.82 L148.02 346.91 L149 350.28 L149.98 352.81 L150.96 356.26 L151.94 358.7 L152.92 361.9 L153.9 364.23 L154.88 367.38 L155.86 369.37 L156.84 372.34 L157.82 375.67 L158.8 377.58 L159.78 380.66 L160.76 384.02 L161.74 385.59 L162.72 388.3 L163.7 391.89 L164.68 393.93 L165.66 397.07 L166.64 400.4 L167.62 402.53 L168.6 405.43 L169.58 407.82 L170.56 409.43 L171.54 412.21 L172.52 414.46 L173.5 415.47 L174.48 417.18 L175.46 418.77 L176.44 420.94 L177.42 422.77 L178.4 424.31 L179.38 425.51 L180.36 426.58 L181.34 428.9 L182.32 429.74 L183.3 430.14 L184.28 431.35 L185.26 432.59 L186.24 433.48 L187.22 434.81 L188.2 435.6 L189.18 435.73 L190.16 435.91 L191.14 437.62 L192.12 437.98 L193.1 437.7 L194.08 438.79 L195.06 438.55 L196.04 439.2 L197.02 439.46 L198 440.15 L198.98 440.77 L199.96 440.39 L200.94 441.51 L201.92 441.1 L202.9 441.52 L203.88 441.28 L204.86 442.41 L205.84 442.11 L206.82 442.65 L207.8 442.9 L208.78 442.77 L209.76 443.54 L210.74 443.25 L211.72 443.9 L212.7 443.84 L213.68 444.32 L214.66 444.36 L215.64 444.01 L216.62 444.06 L217.6 444.67 L218.58 444.01 L219.56 444.1 L220.54 444.25 L221.52 445.24 L222.5 444.73 L223.48 445.4 L224.46 445.42 L225.44 445.46 L226.42 445.04 L227.4 445.88 L228.38 445.93 L229.36 445.69 L230.34 446.37 L231.32 446.35 L232.3 446.6 L233.28 446.19 L234.26 446.95 L235.24 446.95 L236.22 446.69 L237.2 447.31 L238.18 447.49 L239.16 447.42 L240.14 447.16 L241.12 446.8 L242.1 447.02 L243.08 448.03 L244.06 447.84 L245.04 447.91 L246.02 448.06 L247 447.72 L247.98 447.69 L248.96 448.44 L249.94 448.92 L250.92 448.1 L251.9 448.76 L252.88 449.09 L253.86 449.26 L254.84 448.63 L255.82 448.75 L256.8 449.59 L257.78 448.72 L258.76 448.76 L259.74 449.49 L260.72 449.59 L261.7 449.63 L262.68 448.79 L263.66 449.02 L264.64 449.8 L265.62 449.28 L266.6 450.24 L267.58 449.79 L268.56 449.97 L269.54 450.24 L270.52 450.41 L271.5 449.47 L272.48 450.6 L273.46 450.39 L274.44 450.77 L275.42 449.93 L276.4 450.88 L277.38 450.75 L278.36 450.85 L279.34 451 L280.32 451.14 L281.3 450.11 L282.28 450.56 L283.26 450.2 L284.24 450.33 L285.22 450.76 L286.2 450.6 L287.18 451.49 L288.16 451.56 L289.14 450.69 L290.12 450.73 L291.1 450.46 L292.08 450.77 L293.06 451.69 L294.04 450.91 L295.02 450.93 L296 447.61 L296.98 448.66 L297.96 448.04 L298.94 450.2 L299.92 451.55 L300.9 452.65 L301.88 452.11 L302.86 451.45 L303.84 450.99 L304.82 450.73 L305.8 450.3 L306.78 451.96 L307.76 451.93 L308.74 452.59 L309.72 452.04 L310.7 452.01 L311.68 452.29 L312.66 452.14 L313.64 451.88 L314.62 452.06 L315.6 452.32 L316.58 451.56 L317.56 452.72 L318.54 451.98 L319.52 451.86 L320.5 451.7"/>
<path d="M51 412.77 L51.98 416.34 L52.96 416.48 L53.94 414.32 L54.92 414.94 L55.9 411.57 L56.88 411.02 L57.86 412.72 L58.84 411.17 L59.82 409.3 L60.8 407.94 L61.78 408.06 L62.76 406.81 L63.74 404.56 L64.72 402.36 L65.7 404.3 L66.68 399.73 L67.66 401.72 L68.64 396.89 L69.62 396.48 L70.6 396.32 L71.58 394.19 L72.56 391.72 L73.54 389.11 L74.52 384.88 L75.5 384.37 L76.48 381.11 L77.46 379.08 L78.44 376.45 L79.42 373.78 L80.4 371.01 L81.38 368.55 L82.36 365.67 L83.34 363.48 L84.32 361.12 L85.3 359.2 L86.28 356.68 L87.26 354.68 L88.24 351.1 L89.22 349.74 L90.2 347.62 L91.18 344.63 L92.16 342.5 L93.14 340.42 L94.12 337.69 L95.1 335.61 L96.08 332.33 L97.06 330.76 L98.04 328.41 L99.02 325.12 L100 323.31 L100.98 321.23 L101.96 318.07 L102.94 316.4 L103.92 314.31 L104.9 311.71 L105.88 310.33 L106.86 308.38 L107.84 306.05 L108.82 305.51 L109.8 303.45 L110.78 302.11 L111.76 301.22 L112.74 299.74 L113.72 298.7 L114.7 296.73 L115.68 295.48 L116.66 295.03 L117.64 294.78 L118.62 293.97 L119.6 293.71 L120.58 293.4 L121.56 293.05 L122.54 293.25 L123.52 294.76 L124.5 295.34 L125.48 295.44 L126.46 295.6 L127.44 297.54 L128.42 298.77 L129.4 300.87 L130.38 302.13 L131.36 303.95 L132.34 305.48 L133.32 308.43 L134.3 310.06 L135.28 312.77 L136.26 314.58 L137.24 317.45 L138.22 319.54 L139.2 322.2 L140.18 325.15 L141.16 326.75 L142.14 329.35 L143.12 332.89 L144.1 336.05 L145.08 338.49 L146.06 341.68 L147.04 344.15 L148.02 347.34 L149 350.57 L149.98 352.94 L150.96 356.18 L151.94 359.43 L152.92 361.36 L153.9 364.24 L154.88 366.88 L155.86 369.74 L156.84 373.65 L157.82 375.75 L158.8 379.17 L159.78 381.6 L160.76 384.45 L161.74 387.18 L162.72 390.07 L163.7 392.27 L164.68 396.13 L165.66 398.59 L166.64 401.62 L167.62 403.92 L168.6 406.44 L169.58 409.36 L170.56 410.49 L171.54 412.96 L172.52 415.16 L173.5 416.7 L174.48 418.54 L175.46 420.31 L176.44 422.79 L177.42 424.05 L178.4 426.47 L179.38 426.93 L180.36 428.27 L181.34 429.42 L182.32 431.24 L183.3 432.11 L184.28 433.47 L185.26 434.9 L186.24 434.79 L187.22 436.55 L188.2 436.57 L189.18 436.94 L190.16 438.5 L191.14 438.7 L192.12 439.62 L193.1 439.11 L194.08 440.65 L195.06 441.18 L196.04 440.56 L197.02 441.96 L198 441.29 L198.98 442.09 L199.96 442.51 L200.94 441.94 L201.92 443.4 L202.9 443.6 L203.88 442.74 L204.86 444.1 L205.84 443.97 L206.82 443.69 L207.8 444.43 L208.78 444.19 L209.76 445.15 L210.74 444.59 L211.72 444.81 L212.7 445.6 L213.68 445.2 L214.66 445.56 L215.64 445.02 L216.62 445.58 L217.6 445.92 L218.58 445.51 L219.56 446.4 L220.54 446.27 L221.52 445.89 L222.5 445.8 L223.48 446.13 L224.46 445.89 L225.44 447.01 L226.42 447.08 L227.4 447.28 L228.38 446.91 L229.36 447.35 L230.34 446.36 L231.32 446.81 L232.3 446.57 L233.28 446.79 L234.26 447.08 L235.24 447.3 L236.22 447.3 L237.2 448.24 L238.18 447.23 L239.16 447.29 L240.14 447.91 L241.12 448.47 L242.1 448.48 L243.08 448.04 L244.06 448.04 L245.04 448.24 L246.02 449.22 L247 448.14 L247.98 449.24 L248.96 449.13 L249.94 448.52 L250.92 449.31 L251.9 449.48 L252.88 448.79 L253.86 448.86 L254.84 449.82 L255.82 449.37 L256.8 449.44 L257.78 449.78 L258.76 449.03 L259.74 448.99 L260.72 450.05 L261.7 450.04 L262.68 450.09 L263.66 449.8 L264.64 449.61 L265.62 449.84 L266.6 449.66 L267.58 449.46 L268.56 449.74 L269.54 450.4 L270.52 450.27 L271.5 450.96 L272.48 450.84 L273.46 450.75 L274.44 451.08 L275.42 449.98 L276.4 450.02 L277.38 451.08 L278.36 451.08 L279.34 451.06 L280.32 450.84 L281.3 450.63 L282.28 451.04 L283.26 450.44 L284.24 450.67 L285.22 451.03 L286.2 451.09 L287.18 450.93 L288.16 451.33 L289.14 451.39 L290.12 451.22 L291.1 451.73 L292.08 450.92 L293.06 450.73 L294.04 452.01 L295.02 451.04 L296 448.15 L296.98 448.25 L297.96 448.81 L298.94 450.26 L299.92 450.13 L300.9 452.01 L301.88 452.34 L302.86 450.9 L303.84 449.79 L304.82 448.6 L305.8 451.17 L306.78 451.9 L307.76 450.97 L308.74 452.25 L309.72 451.91 L310.7 451.96 L311.68 452.01 L312.66 452.38 L313.64 451.98 L314.62 451.73 L315.6 452.29 L316.58 452.29 L317.56 451.96 L318.54 451.64 L319.52 452.72 L320.5 452.78"/>
<path d="M51 415.66 L51.98 414.67 L52.96 412.36 L53.94 415.88 L54.92 413.82 L55.9 410.13 L56.88 412.44 L57.86 410.21 L58.84 411.01 L59.82 407.73 L60.8 408.74 L61.78 407.35 L62.76 408.89 L63.74 404.26 L64.72 402.82 L65.7 403.23 L66.68 402.86 L67.66 400.24 L68.64 397.07 L69.62 395.02 L70.6 394.78 L71.58 391.56 L72.56 392.11 L73.54 387.99 L74.52 385.41 L75.5 384.66 L76.48 381.67 L77.46 377.64 L78.44 375.49 L79.42 373.65 L80.4 370.48 L81.38 368.25 L82.36 366 L83.34 363.08 L84.32 361.05 L85.3 358.18 L86.28 356.56 L87.26 353.8 L88.24 351.19 L89.22 348.7 L90.2 347.03 L91.18 344.2 L92.16 341.69 L93.14 338.92 L94.12 337.63 L95.1 334.64 L96.08 331.68 L97.06 329.09 L98.04 326.89 L99.02 324.6 L100 321.97 L100.98 319.9 L101.96 317.39 L102.94 316.23 L103.92 312.96 L104.9 311.89 L105.88 308.98 L106.86 307.95 L107.84 305.57 L108.82 304.56 L109.8 302.97 L110.78 301.29 L111.76 299.72 L112.74 299.19 L113.72 297.96 L114.7 296.98 L115.68 295.83 L116.66 294.35 L117.64 293.09 L118.62 293.38 L119.6 293.44 L120.58 293.17 L121.56 292.76 L122.54 292.93 L123.52 293.33 L124.5 293.62 L125.48 295.32 L126.46 295.17 L127.44 297.24 L128.42 298.98 L129.4 300.38 L130.38 302.11 L131.36 303.45 L132.34 305.46 L133.32 308.12 L134.3 309.73 L135.28 312.82 L136.26 315.41 L137.24 316.89 L138.22 319.36 L139.2 322.05 L140.18 325.31 L141.16 327.58 L142.14 329.68 L143.12 333.21 L144.1 335.77 L145.08 339.02 L146.06 341.89 L147.04 344.38 L148.02 347.85 L149 351.14 L149.98 353.27 L150.96 356.63 L151.94 359.34 L152.92 361.85 L153.9 365.31 L154.88 367.43 L155.86 370.64 L156.84 372.94 L157.82 376.33 L158.8 379.13 L159.78 381.65 L160.76 384.88 L161.74 388.12 L162.72 391.06 L163.7 393.73 L164.68 395.9 L165.66 399.81 L166.64 401.71 L167.62 404.44 L168.6 406.74 L169.58 409.22 L170.56 412.39 L171.54 414.6 L172.52 416.74 L173.5 418.52 L174.48 419.61 L175.46 422.28 L176.44 424.19 L177.42 425.18 L178.4 427.16 L179.38 427.72 L180.36 429.79 L181.34 431.2 L182.32 432.01 L183.3 433.6 L184.28 433.73 L185.26 434.86 L186.24 435.65 L187.22 436.41 L188.2 438.08 L189.18 438.76 L190.16 438.57 L191.14 439.83 L192.12 440.65 L193.1 439.99 L194.08 441.57 L195.06 441.85 L196.04 441.26 L197.02 442.76 L198 442.35 L198.98 442.77 L199.96 443.58 L200.94 443.63 L201.92 443.64 L202.9 443.3 L203.88 444.46 L204.86 444.86 L205.84 444.71 L206.82 444.97 L207.8 445.16 L208.78 445.35 L209.76 445.62 L210.74 445.96 L211.72 445.55 L212.7 446.34 L213.68 446.21 L214.66 445.51 L215.64 445.79 L216.62 446.62 L217.6 446.17 L218.58 446.69 L219.56 445.86 L220.54 446.41 L221.52 446.49 L222.5 446.37 L223.48 447.18 L224.46 446.74 L225.44 447.02 L226.42 447.48 L227.4 447.76 L228.38 447.51 L229.36 447.31 L230.34 447.82 L231.32 447.25 L232.3 447.17 L233.28 447.75 L234.26 448.29 L235.24 447.8 L236.22 447.93 L237.2 448.56 L238.18 448.71 L239.16 448.25 L240.14 448.48 L241.12 448.57 L242.1 448.05 L243.08 449.03 L244.06 448.71 L245.04 448.32 L246.02 448.52 L247 449.57 L247.98 449.05 L248.96 449.35 L249.94 449.28 L250.92 449.5 L251.9 449.93 L252.88 449.52 L253.86 449.47 L254.84 449.46 L255.82 449.91 L256.8 450.12 L257.78 450.32 L258.76 449.17 L259.74 450.4 L260.72 449.84 L261.7 449.37 L262.68 450.36 L263.66 450.23 L264.64 449.85 L265.62 449.49 L266.6 450.39 L267.58 450.7 L268.56 449.65 L269.54 449.94 L270.52 450.63 L271.5 451.02 L272.48 449.96 L273.46 450.67 L274.44 450.29 L275.42 451.05 L276.4 450.42 L277.38 451.34 L278.36 451.25 L279.34 450.44 L280.32 451.07 L281.3 450.79 L282.28 450.33 L283.26 450.65 L284.24 450.46 L285.22 450.9 L286.2 450.64 L287.18 451.55 L288.16 451.57 L289.14 450.93 L290.12 451.4 L291.1 451.23 L292.08 450.77 L293.06 451.33 L294.04 452.13 L295.02 451.26 L296 449.29 L296.98 448.81 L297.96 450.64 L298.94 448.98 L299.92 451.92 L300.9 451.7 L301.88 452.04 L302.86 452.13 L303.84 450.9 L304.82 448.75 L305.8 451.35 L306.78 452.15 L307.76 451.91 L308.74 451.31 L309.72 452.37 L310.7 452.08 L311.68 451.65 L312.66 451.8 L313.64 451.96 L314.62 451.91 L315.6 452.6 L316.58 451.9 L317.56 451.97 L318.54 451.61 L319.52 452.68 L320.5 452.27"/>
<path d="M51 412.86 L51.98 417.2 L52.96 415.94 L53.94 410.99 L54.92 415.41 L55.9 411.44 L56.88 413.75 L57.86 410.75 L58.84 412.47 L59.82 412.06 L60.8 408.72 L61.78 406.54 L62.76 407.68 L63.74 408.1 L64.72 405.18 L65.7 401.45 L66.68 401.5 L67.66 398.41 L68.64 396.81 L69.62 397.96 L70.6 395.27 L71.58 392.07 L72.56 390.54 L73.54 387.52 L74.52 387.35 L75.5 383.55 L76.48 381.38 L77.46 377.8 L78.44 376.55 L79.42 372.55 L80.4 371.23 L81.38 368.74 L82.36 365.68 L83.34 363.32 L84.32 361.06 L85.3 357.89 L86.28 356.34 L87.26 353.18 L88.24 350.65 L89.22 349.01 L90.2 345.68 L91.18 343.14 L92.16 340.91 L93.14 338.32 L94.12 336.72 L95.1 334.3 L96.08 332.01 L97.06 329.49 L98.04 326.42 L99.02 323.84 L100 321.06 L100.98 319.17 L101.96 316.59 L102.94 314.62 L103.92 312.25 L104.9 311.33 L105.88 308.82 L106.86 307.07 L107.84 304.89 L108.82 303.91 L109.8 302.51 L110.78 301.43 L111.76 299.36 L112.74 298.77 L113.72 296.71 L114.7 295.96 L115.68 294.21 L116.66 293.56 L117.64 293.08 L118.62 292.22 L119.6 291.65 L120.58 292.27 L121.56 292.76 L122.54 293.28 L123.52 293.71 L124.5 293.3 L125.48 294.34 L126.46 295.55 L127.44 296.75 L128.42 298.75 L129.4 299.14 L130.38 301.69 L131.36 302.9 L132.34 305.5 L133.32 307.59 L134.3 310.17 L135.28 312.63 L136.26 314.24 L137.24 316.81 L138.22 319.81 L139.2 321.75 L140.18 325.23 L141.16 327.93 L142.14 330.67 L143.12 333.24 L144.1 335.71 L145.08 339.46 L146.06 341.53 L147.04 344.66 L148.02 348.24 L149 350.38 L149.98 353.42 L150.96 356.84 L151.94 360.23 L152.92 363.07 L153.9 365.47 L154.88 368 L155.86 370.95 L156.84 373.57 L157.82 377.24 L158.8 379.37 L159.78 382.74 L160.76 385.07 L161.74 388.88 L162.72 391.39 L163.7 393.73 L164.68 396.73 L165.66 400.14 L166.64 403.25 L167.62 405.03 L168.6 408.58 L169.58 410.25 L170.56 412.38 L171.54 415.5 L172.52 417.23 L173.5 419.17 L174.48 420.78 L175.46 422.56 L176.44 424.66 L177.42 426.08 L178.4 427.36 L179.38 429.17 L180.36 430.8 L181.34 432.08 L182.32 432.5 L183.3 434.38 L184.28 435.41 L185.26 435.54 L186.24 436.76 L187.22 438.2 L188.2 438.09 L189.18 439 L190.16 439.42 L191.14 440.71 L192.12 441.45 L193.1 441.04 L194.08 441.82 L195.06 442.44 L196.04 442.74 L197.02 442.46 L198 443.46 L198.98 443.9 L199.96 443.52 L200.94 443.56 L201.92 444.85 L202.9 445.25 L203.88 444.58 L204.86 445.18 L205.84 444.84 L206.82 445.4 L207.8 445.44 L208.78 445.99 L209.76 446.58 L210.74 445.77 L211.72 446.22 L212.7 445.94 L213.68 446.27 L214.66 446.2 L215.64 446.48 L216.62 447.45 L217.6 446.76 L218.58 446.77 L219.56 447.68 L220.54 447.83 L221.52 447.43 L222.5 447.93 L223.48 447.85 L224.46 446.98 L225.44 448.28 L226.42 447.57 L227.4 447.93 L228.38 448.25 L229.36 447.94 L230.34 448.31 L231.32 447.58 L232.3 447.96 L233.28 448.09 L234.26 448.74 L235.24 448.37 L236.22 448.66 L237.2 448.44 L238.18 449.02 L239.16 448.44 L240.14 449.04 L241.12 448.68 L242.1 449.57 L243.08 449.18 L244.06 448.68 L245.04 449.7 L246.02 449.81 L247 448.98 L247.98 449.85 L248.96 448.97 L249.94 449.37 L250.92 449.94 L251.9 449.9 L252.88 449.21 L253.86 449.27 L254.84 449.69 L255.82 450.13 L256.8 449.55 L257.78 450.33 L258.76 449.91 L259.74 449.82 L260.72 450.64 L261.7 449.58 L262.68 450.74 L263.66 450.13 L264.64 450.28 L265.62 450.11 L266.6 450.32 L267.58 450.86 L268.56 450.9 L269.54 450.14 L270.52 450.27 L271.5 450.38 L272.48 450.3 L273.46 450.92 L274.44 450.82 L275.42 450.79 L276.4 450.63 L277.38 450.3 L278.36 450.85 L279.34 450.87 L280.32 451.45 L281.3 450.63 L282.28 451.41 L283.26 451.19 L284.24 451.52 L285.22 451.69 L286.2 450.67 L287.18 450.61 L288.16 450.98 L289.14 451.26 L290.12 451.21 L291.1 451.27 L292.08 451.35 L293.06 451.37 L294.04 450.34 L295.02 452.21 L296 448.17 L296.98 448.19 L297.96 448.26 L298.94 449.7 L299.92 451.43 L300.9 451.6 L301.88 452.36 L302.86 452.09 L303.84 450.84 L304.82 448.93 L305.8 451.72 L306.78 451.43 L307.76 451.4 L308.74 451.08 L309.72 451.46 L310.7 451.43 L311.68 451.51 L312.66 451.63 L313.64 451.83 L314.62 452.52 L315.6 451.96 L316.58 451.66 L317.56 452.29 L318.54 452.61 L319.52 452.63 L320.5 452.9"/>
<path d="M51 416.12 L51.98 415.48 L52.96 417.2 L53.94 416.57 L54.92 413.58 L55.9 413.23 L56.88 411.91 L57.86 412.43 L58.84 412.11 L59.82 410.37 L60.8 408.55 L61.78 409.16 L62.76 407.27 L63.74 408.04 L64.72 402.79 L65.7 404.68 L66.68 402.67 L67.66 399.06 L68.64 400.17 L69.62 398.09 L70.6 396.63 L71.58 391.96 L72.56 391.05 L73.54 387.78 L74.52 385.39 L75.5 384.32 L76.48 381.61 L77.46 378.37 L78.44 375.06 L79.42 372.75 L80.4 370.28 L81.38 367.99 L82.36 365.7 L83.34 362.59 L84.32 360.99 L85.3 357.68 L86.28 355.45 L87.26 353.19 L88.24 350.55 L89.22 348.41 L90.2 346.04 L91.18 343.61 L92.16 340.64 L93.14 338.84 L94.12 336.15 L95.1 334.23 L96.08 330.62 L97.06 327.88 L98.04 326.37 L99.02 322.99 L100 321.36 L100.98 318.74 L101.96 316.16 L102.94 314.45 L103.92 312.91 L104.9 309.96 L105.88 308.96 L106.86 307.12 L107.84 304.98 L108.82 303.51 L109.8 301.61 L110.78 300.71 L111.76 299.53 L112.74 297.79 L113.72 296.06 L114.7 295.04 L115.68 294.71 L116.66 293.76 L117.64 292.53 L118.62 291.87 L119.6 292.01 L120.58 291.97 L121.56 292.33 L122.54 292.21 L123.52 292.48 L124.5 293.17 L125.48 294.34 L126.46 295.74 L127.44 296.6 L128.42 297.39 L129.4 299.06 L130.38 301.5 L131.36 303.4 L132.34 304.8 L133.32 307.42 L134.3 310.48 L135.28 312.1 L136.26 314.63 L137.24 317.86 L138.22 319.9 L139.2 322.03 L140.18 324.4 L141.16 327.79 L142.14 329.78 L143.12 332.64 L144.1 335.97 L145.08 339.06 L146.06 341.58 L147.04 345.74 L148.02 347.92 L149 350.53 L149.98 354.01 L150.96 357.07 L151.94 359.7 L152.92 362.26 L153.9 365.49 L154.88 369.13 L155.86 371.71 L156.84 373.83 L157.82 376.88 L158.8 380.36 L159.78 382.83 L160.76 385.35 L161.74 388.31 L162.72 392.36 L163.7 394.11 L164.68 397.49 L165.66 400.92 L166.64 403.56 L167.62 405.77 L168.6 408.79 L169.58 411.64 L170.56 413.31 L171.54 416.09 L172.52 418.05 L173.5 419.25 L174.48 422.23 L175.46 423.93 L176.44 425.76 L177.42 427.59 L178.4 428.38 L179.38 429.83 L180.36 431.11 L181.34 432.8 L182.32 434.07 L183.3 434.38 L184.28 436.33 L185.26 436.83 L186.24 437.29 L187.22 439.17 L188.2 438.7 L189.18 439.64 L190.16 440.75 L191.14 441.04 L192.12 441.58 L193.1 441.83 L194.08 442.51 L195.06 443.5 L196.04 443.85 L197.02 443.9 L198 443.48 L198.98 444.75 L199.96 444.87 L200.94 445.23 L201.92 445.16 L202.9 445.1 L203.88 445.19 L204.86 445.23 L205.84 445.62 L206.82 446.58 L207.8 446.48 L208.78 446.24 L209.76 447.14 L210.74 446.62 L211.72 446.88 L212.7 446.78 L213.68 446.8 L214.66 446.94 L215.64 447.69 L216.62 447.8 L217.6 447.3 L218.58 448 L219.56 447.81 L220.54 448.23 L221.52 448.24 L222.5 448 L223.48 448.02 L224.46 448.07 L225.44 448.44 L226.42 448.61 L227.4 448.64 L228.38 448.83 L229.36 448.36 L230.34 447.95 L231.32 448.26 L232.3 448.58 L233.28 448.68 L234.26 448.3 L235.24 448.54 L236.22 449.13 L237.2 448.84 L238.18 449.18 L239.16 449.33 L240.14 449.05 L241.12 449.35 L242.1 449.45 L243.08 449.38 L244.06 449.02 L245.04 448.97 L246.02 450.12 L247 449.54 L247.98 449.28 L248.96 450.12 L249.94 449.84 L250.92 450.02 L251.9 449.85 L252.88 449.61 L253.86 449.47 L254.84 449.61 L255.82 449.99 L256.8 450.04 L257.78 450.71 L258.76 449.79 L259.74 450.14 L260.72 450.29 L261.7 450.2 L262.68 449.77 L263.66 450.89 L264.64 449.86 L265.62 450.35 L266.6 449.88 L267.58 451.12 L268.56 450.63 L269.54 451.23 L270.52 450.95 L271.5 450.8 L272.48 451.33 L273.46 451.12 L274.44 451.41 L275.42 450.24 L276.4 450.92 L277.38 451.26 L278.36 451.54 L279.34 451.35 L280.32 451 L281.3 451.36 L282.28 451.63 L283.26 450.69 L284.24 451.11 L285.22 451.48 L286.2 450.6 L287.18 450.88 L288.16 450.83 L289.14 451.08 L290.12 451.52 L291.1 451.7 L292.08 451.04 L293.06 450.77 L294.04 452.05 L295.02 451.76 L296 450.46 L296.98 447.32 L297.96 449.66 L298.94 449.01 L299.92 450.1 L300.9 450.39 L301.88 452.37 L302.86 451.85 L303.84 450.8 L304.82 449.72 L305.8 452.03 L306.78 453 L307.76 451.81 L308.74 451.64 L309.72 452.19 L310.7 451.98 L311.68 451.46 L312.66 452.26 L313.64 452.5 L314.62 452.13 L315.6 451.73 L316.58 452.65 L317.56 452.37 L318.54 452.63 L319.52 452.29 L320.5 452.8"/>
<path d="M51 418.6 L51.98 416.48 L52.96 416.72 L53.94 412.07 L54.92 416.03 L55.9 411 L56.88 414.45 L57.86 409.49 L58.84 410.85 L59.82 408.88 L60.8 408.37 L61.78 407.26 L62.76 407.6 L63.74 406.74 L64.72 404.45 L65.7 404.33 L66.68 403.29 L67.66 399.69 L68.64 398.7 L69.62 398.6 L70.6 396.38 L71.58 392.34 L72.56 389.76 L73.54 389.74 L74.52 385.5 L75.5 383.48 L76.48 382.17 L77.46 377.68 L78.44 375.71 L79.42 373.4 L80.4 370.46 L81.38 367.66 L82.36 365.56 L83.34 363.76 L84.32 360.37 L85.3 358.45 L86.28 355.15 L87.26 352.82 L88.24 350.21 L89.22 348.51 L90.2 346.33 L91.18 343.03 L92.16 340.78 L93.14 338.55 L94.12 336.22 L95.1 333.59 L96.08 330.46 L97.06 327.92 L98.04 326.06 L99.02 322.74 L100 321.28 L100.98 318.33 L101.96 316 L102.94 314.36 L103.92 311.91 L104.9 309.86 L105.88 308.19 L106.86 306.48 L107.84 304.35 L108.82 303.2 L109.8 301.72 L110.78 300.41 L111.76 299.14 L112.74 297.02 L113.72 296.59 L114.7 294.41 L115.68 294.22 L116.66 292.62 L117.64 292.81 L118.62 292.3 L119.6 291.27 L120.58 291.48 L121.56 291.69 L122.54 291.91 L123.52 292.83 L124.5 293.81 L125.48 293.66 L126.46 295.59 L127.44 295.82 L128.42 297.62 L129.4 298.96 L130.38 301.55 L131.36 303.2 L132.34 305.69 L133.32 307.76 L134.3 309.89 L135.28 312.97 L136.26 314.61 L137.24 317.88 L138.22 319.57 L139.2 322.68 L140.18 324.56 L141.16 327.3 L142.14 330.35 L143.12 333.72 L144.1 336.28 L145.08 339.62 L146.06 342.35 L147.04 345.89 L148.02 348.21 L149 350.76 L149.98 354.34 L150.96 357.7 L151.94 360.54 L152.92 363.09 L153.9 365.72 L154.88 368.82 L155.86 371.55 L156.84 374.57 L157.82 377.31 L158.8 380.98 L159.78 383.07 L160.76 385.62 L161.74 389.02 L162.72 392.47 L163.7 395.66 L164.68 397.5 L165.66 401.24 L166.64 404.15 L167.62 406.67 L168.6 409.5 L169.58 411.02 L170.56 413.65 L171.54 416.62 L172.52 418.5 L173.5 419.72 L174.48 421.59 L175.46 424.54 L176.44 425.47 L177.42 427.77 L178.4 428.54 L179.38 429.79 L180.36 431.43 L181.34 432.8 L182.32 434.32 L183.3 435.48 L184.28 436.66 L185.26 436.9 L186.24 437.82 L187.22 439.24 L188.2 440.18 L189.18 440.06 L190.16 440.79 L191.14 442.05 L192.12 442.5 L193.1 442.48 L194.08 443.09 L195.06 443.91 L196.04 444.47 L197.02 444.72 L198 443.93 L198.98 445.38 L199.96 445.06 L200.94 445.18 L201.92 445.87 L202.9 445.88 L203.88 445.38 L204.86 445.67 L205.84 445.91 L206.82 447.11 L207.8 446.23 L208.78 446.48 L209.76 447.07 L210.74 447.21 L211.72 448.01 L212.7 447.41 L213.68 448.22 L214.66 448.18 L215.64 448.35 L216.62 447.56 L217.6 448.04 L218.58 448.26 L219.56 448.35 L220.54 447.61 L221.52 448.27 L222.5 448.68 L223.48 448.28 L224.46 449.04 L225.44 448.39 L226.42 448.01 L227.4 449.07 L228.38 448.54 L229.36 448.34 L230.34 448.3 L231.32 448.44 L232.3 448.95 L233.28 449.18 L234.26 449.33 L235.24 449 L236.22 449.14 L237.2 448.79 L238.18 449.83 L239.16 449.91 L240.14 449.27 L241.12 449.46 L242.1 448.93 L243.08 449.59 L244.06 449.85 L245.04 450.13 L246.02 449.37 L247 449.38 L247.98 450.44 L248.96 449.71 L249.94 450.16 L250.92 449.48 L251.9 449.82 L252.88 449.43 L253.86 450.47 L254.84 450.32 L255.82 449.7 L256.8 449.78 L257.78 449.77 L258.76 449.63 L259.74 450.43 L260.72 450.83 L261.7 450.04 L262.68 450.49 L263.66 449.84 L264.64 450.1 L265.62 450.06 L266.6 451.01 L267.58 450.94 L268.56 450.26 L269.54 450.79 L270.52 451.29 L271.5 450.66 L272.48 451.05 L273.46 450.55 L274.44 450.45 L275.42 450.93 L276.4 451.23 L277.38 451.24 L278.36 450.68 L279.34 450.66 L280.32 451.21 L281.3 450.83 L282.28 451.59 L283.26 450.89 L284.24 450.81 L285.22 451.72 L286.2 450.59 L287.18 450.7 L288.16 450.8 L289.14 451.29 L290.12 451.01 L291.1 451.74 L292.08 451.1 L293.06 451.32 L294.04 451.15 L295.02 449.78 L296 448.38 L296.98 448.7 L297.96 449.04 L298.94 451.9 L299.92 450.41 L300.9 452.13 L301.88 451.04 L302.86 451.37 L303.84 449.72 L304.82 450.87 L305.8 450.74 L306.78 452.07 L307.76 452.43 L308.74 452.65 L309.72 451.64 L310.7 452.42 L311.68 452.44 L312.66 451.48 L313.64 451.89 L314.62 451.94 L315.6 452.66 L316.58 452.31 L317.56 452.15 L318.54 452.55 L319.52 452.05 L320.5 451.79"/>
<path d="M51 416.81 L51.98 413.35 L52.96 414.94 L53.94 414.36 L54.92 414.12 L55.9 412.56 L56.88 411.68 L57.86 411.35 L58.84 411.79 L59.82 412.34 L60.8 409.36 L61.78 408.5 L62.76 406.38 L63.74 406.61 L64.72 406.63 L65.7 403.46 L66.68 402.35 L67.66 400.29 L68.64 398.82 L69.62 397.34 L70.6 393.92 L71.58 392.24 L72.56 390.42 L73.54 388.1 L74.52 387.33 L75.5 383.91 L76.48 380.94 L77.46 378.36 L78.44 376.22 L79.42 373.68 L80.4 370.19 L81.38 367.96 L82.36 365.02 L83.34 362.8 L84.32 360.97 L85.3 357.96 L86.28 355.9 L87.26 352.85 L88.24 350.92 L89.22 347.55 L90.2 345.7 L91.18 342.4 L92.16 339.92 L93.14 337.72 L94.12 335.34 L95.1 332.61 L96.08 330.29 L97.06 328.26 L98.04 325.16 L99.02 322.43 L100 320.68 L100.98 317.9 L101.96 315.96 L102.94 313.28 L103.92 311.23 L104.9 309.8 L105.88 307.23 L106.86 305.73 L107.84 304.04 L108.82 302.28 L109.8 300.62 L110.78 300.26 L111.76 298.06 L112.74 296.65 L113.72 296 L114.7 295.06 L115.68 294.03 L116.66 292.84 L117.64 292.42 L118.62 291.15 L119.6 291.4 L120.58 291.56 L121.56 291.13 L122.54 292.29 L123.52 292.19 L124.5 293.71 L125.48 293.53 L126.46 295.39 L127.44 295.59 L128.42 298.32 L129.4 299.78 L130.38 301.49 L131.36 303.63 L132.34 305.34 L133.32 308.1 L134.3 309.88 L135.28 312.37 L136.26 315.41 L137.24 317.66 L138.22 319.84 L139.2 322.33 L140.18 324.51 L141.16 327.42 L142.14 330.57 L143.12 333.13 L144.1 336.05 L145.08 340.04 L146.06 342.03 L147.04 345.27 L148.02 349 L149 351.78 L149.98 354.95 L150.96 357.45 L151.94 359.85 L152.92 362.51 L153.9 365.81 L154.88 368.77 L155.86 371.42 L156.84 375.29 L157.82 377.39 L158.8 381.27 L159.78 383.17 L160.76 386.47 L161.74 389.51 L162.72 393.04 L163.7 395.45 L164.68 398.37 L165.66 401.59 L166.64 404.13 L167.62 407.37 L168.6 409.93 L169.58 412.36 L170.56 414.44 L171.54 415.89 L172.52 418.64 L173.5 420.04 L174.48 422.65 L175.46 423.92 L176.44 426.32 L177.42 428.34 L178.4 429.61 L179.38 430.51 L180.36 432.55 L181.34 433.87 L182.32 434.81 L183.3 435.18 L184.28 437.34 L185.26 438.25 L186.24 438.89 L187.22 439.45 L188.2 440.11 L189.18 440.49 L190.16 441.33 L191.14 441.64 L192.12 441.98 L193.1 442.81 L194.08 443.93 L195.06 444.03 L196.04 444 L197.02 444.07 L198 445.24 L198.98 445.62 L199.96 444.99 L200.94 446.07 L201.92 446.13 L202.9 446.08 L203.88 446.93 L204.86 446.06 L205.84 446.84 L206.82 447.18 L207.8 447.35 L208.78 447.99 L209.76 447.11 L210.74 447.41 L211.72 447.67 L212.7 448.01 L213.68 448.07 L214.66 448.25 L215.64 448.58 L216.62 448.32 L217.6 448.65 L218.58 447.68 L219.56 448.42 L220.54 448.45 L221.52 448.14 L222.5 448.11 L223.48 449.21 L224.46 448.33 L225.44 448.36 L226.42 448.68 L227.4 448.56 L228.38 449.35 L229.36 449.23 L230.34 448.72 L231.32 449.26 L232.3 448.92 L233.28 449.4 L234.26 448.86 L235.24 449.14 L236.22 449.58 L237.2 449.72 L238.18 449.34 L239.16 448.9 L240.14 449.96 L241.12 449.76 L242.1 449.02 L243.08 449.28 L244.06 449.33 L245.04 450 L246.02 449.23 L247 449.27 L247.98 450.13 L248.96 450.04 L249.94 449.82 L250.92 450.56 L251.9 450.62 L252.88 450.08 L253.86 449.88 L254.84 450.63 L255.82 450.87 L256.8 450.53 L257.78 450.97 L258.76 450.5 L259.74 450.16 L260.72 450.46 L261.7 450.93 L262.68 450.68 L263.66 449.92 L264.64 450.63 L265.62 451.23 L266.6 450.93 L267.58 450.29 L268.56 450.83 L269.54 450.95 L270.52 450.81 L271.5 450.73 L272.48 450.73 L273.46 450.71 L274.44 451.09 L275.42 451.52 L276.4 450.66 L277.38 451.26 L278.36 450.74 L279.34 450.86 L280.32 451.45 L281.3 450.59 L282.28 451.27 L283.26 451.07 L284.24 450.61 L285.22 451.26 L286.2 451.13 L287.18 450.84 L288.16 451.91 L289.14 451 L290.12 451.15 L291.1 451.04 L292.08 450.86 L293.06 451.54 L294.04 452.27 L295.02 452.41 L296 450.23 L296.98 449.18 L297.96 451.08 L298.94 450.51 L299.92 450.39 L300.9 450.35 L301.88 452.21 L302.86 451.16 L303.84 451.32 L304.82 450.71 L305.8 451.52 L306.78 450.84 L307.76 451.39 L308.74 452.84 L309.72 451.92 L310.7 451.81 L311.68 452.17 L312.66 451.59 L313.64 451.86 L314.62 452.02 L315.6 452.1 L316.58 452.23 L317.56 452.85 L318.54 451.96 L319.52 452.8 L320.5 452.87"/>
<path d="M51 415.23 L51.98 417.4 L52.96 412.76 L53.94 412.42 L54.92 412.18 L55.9 412.16 L56.88 412.14 L57.86 414.28 L58.84 410.53 L59.82 412.71 L60.8 411.27 L61.78 406.71 L62.76 406.95 L63.74 405.42 L64.72 404.42 L65.7 403.72 L66.68 400.34 L67.66 401.39 L68.64 399.32 L69.62 397.24 L70.6 396.31 L71.58 392.35 L72.56 389.93 L73.54 389.84 L74.52 385.94 L75.5 384.49 L76.48 381.99 L77.46 377.87 L78.44 375.18 L79.42 373.66 L80.4 370.62 L81.38 368.14 L82.36 365.15 L83.34 362.52 L84.32 360.27 L85.3 357.58 L86.28 356.04 L87.26 352.55 L88.24 350.76 L89.22 347.73 L90.2 345.74 L91.18 342.21 L92.16 340.34 L93.14 337.88 L94.12 335.04 L95.1 332.84 L96.08 330.29 L97.06 327.66 L98.04 324.44 L99.02 323.15 L100 320.22 L100.98 317.75 L101.96 315.08 L102.94 313.41 L103.92 312.02 L104.9 309.41 L105.88 308.04 L106.86 305.51 L107.84 303.84 L108.82 302.71 L109.8 300.92 L110.78 299.65 L111.76 297.76 L112.74 296.66 L113.72 295.65 L114.7 294.2 L115.68 292.91 L116.66 291.98 L117.64 291.71 L118.62 291.44 L119.6 290.57 L120.58 290.86 L121.56 291.5 L122.54 292.3 L123.52 292.1 L124.5 293.29 L125.48 293.94 L126.46 294.32 L127.44 295.56 L128.42 297.28 L129.4 299.37 L130.38 300.87 L131.36 302.89 L132.34 305.19 L133.32 307.69 L134.3 310.31 L135.28 311.81 L136.26 314.4 L137.24 316.97 L138.22 320.47 L139.2 322.76 L140.18 325.47 L141.16 327.37 L142.14 330.4 L143.12 334.09 L144.1 336.91 L145.08 339.35 L146.06 343.06 L147.04 345.62 L148.02 348.64 L149 351.9 L149.98 354.29 L150.96 357.59 L151.94 359.84 L152.92 363.06 L153.9 366.27 L154.88 368.73 L155.86 372.59 L156.84 375.07 L157.82 377.82 L158.8 380.32 L159.78 384 L160.76 386.68 L161.74 389.16 L162.72 392.08 L163.7 395.95 L164.68 398.17 L165.66 401.88 L166.64 404.3 L167.62 406.95 L168.6 410.27 L169.58 412.39 L170.56 414.05 L171.54 416.76 L172.52 418.49 L173.5 421.11 L174.48 423.19 L175.46 424.71 L176.44 426.14 L177.42 428.52 L178.4 429.26 L179.38 431.29 L180.36 432.84 L181.34 433.45 L182.32 434.38 L183.3 436.5 L184.28 437.01 L185.26 438.69 L186.24 438.63 L187.22 439.32 L188.2 440.85 L189.18 440.85 L190.16 442 L191.14 442.27 L192.12 443.15 L193.1 443.59 L194.08 443.19 L195.06 444.75 L196.04 444.63 L197.02 445.46 L198 445.4 L198.98 445.47 L199.96 445.79 L200.94 446.58 L201.92 446.95 L202.9 447.06 L203.88 446.15 L204.86 446.61 L205.84 447.66 L206.82 446.88 L207.8 447.58 L208.78 447.81 L209.76 448.24 L210.74 448.59 L211.72 448.18 L212.7 448.65 L213.68 448.39 L214.66 448.3 L215.64 448.06 L216.62 448.76 L217.6 448.62 L218.58 448.31 L219.56 448.53 L220.54 448.56 L221.52 449.32 L222.5 449.1 L223.48 448.4 L224.46 449.17 L225.44 449.13 L226.42 448.91 L227.4 449.25 L228.38 449.6 L229.36 449.32 L230.34 448.83 L231.32 449.29 L232.3 449.78 L233.28 449.42 L234.26 449.21 L235.24 449.61 L236.22 450.03 L237.2 449.34 L238.18 449.86 L239.16 449.05 L240.14 449.31 L241.12 449.92 L242.1 449.28 L243.08 450.47 L244.06 449.85 L245.04 449.71 L246.02 449.85 L247 450.43 L247.98 449.87 L248.96 450.47 L249.94 450.35 L250.92 450.21 L251.9 449.82 L252.88 449.92 L253.86 449.72 L254.84 450.64 L255.82 449.91 L256.8 451.02 L257.78 450.94 L258.76 450.12 L259.74 450.31 L260.72 450.73 L261.7 450.87 L262.68 450.79 L263.66 450.53 L264.64 450.09 L265.62 450.27 L266.6 450.96 L267.58 450.66 L268.56 451.07 L269.54 450.78 L270.52 450.34 L271.5 450.8 L272.48 451.39 L273.46 451.3 L274.44 451.32 L275.42 450.7 L276.4 450.6 L277.38 450.69 L278.36 451.32 L279.34 451.23 L280.32 451.76 L281.3 451.25 L282.28 450.88 L283.26 451.78 L284.24 451.85 L285.22 450.89 L286.2 451.06 L287.18 451.75 L288.16 450.88 L289.14 451.28 L290.12 451.49 L291.1 451.92 L292.08 451.36 L293.06 451.55 L294.04 452.38 L295.02 450.04 L296 449.38 L296.98 450.93 L297.96 448.8 L298.94 449.06 L299.92 449.97 L300.9 452.29 L301.88 452.26 L302.86 450.79 L303.84 449.42 L304.82 450.25 L305.8 451.9 L306.78 450.87 L307.76 451.66 L308.74 452.56 L309.72 451.97 L310.7 452.2 L311.68 452.26 L312.66 452.74 L313.64 452.08 L314.62 451.86 L315.6 452.47 L316.58 451.83 L317.56 451.68 L318.54 452.91 L319.52 452.95 L320.5 452.98"/>
<path d="M51 415.61 L51.98 413.5 L52.96 414.88 L53.94 415.36 L54.92 416.05 L55.9 414.94 L56.88 410.96 L57.86 413.19 L58.84 413.42 L59.82 412.2 L60.8 409.96 L61.78 410.17 L62.76 407.5 L63.74 407.85 L64.72 403.51 L65.7 404.5 L66.68 400.82 L67.66 399.99 L68.64 399.7 L69.62 397.28 L70.6 394.1 L71.58 393.59 L72.56 389.84 L73.54 389.98 L74.52 386.79 L75.5 382.85 L76.48 381.89 L77.46 379.55 L78.44 376.41 L79.42 372.49 L80.4 370.46 L81.38 368.45 L82.36 365.68 L83.34 363.22 L84.32 360.63 L85.3 357.27 L86.28 354.88 L87.26 352.39 L88.24 349.69 L89.22 348.09 L90.2 344.7 L91.18 342.48 L92.16 339.78 L93.14 338.07 L94.12 335.56 L95.1 332.97 L96.08 329.39 L97.06 327.08 L98.04 325.28 L99.02 322.44 L100 320.34 L100.98 318.09 L101.96 314.95 L102.94 313.57 L103.92 311.61 L104.9 309.59 L105.88 307.47 L106.86 305.7 L107.84 303.99 L108.82 302.34 L109.8 301.01 L110.78 299.92 L111.76 297.73 L112.74 296.72 L113.72 294.91 L114.7 293.78 L115.68 292.99 L116.66 292.28 L117.64 291.39 L118.62 291.21 L119.6 291.16 L120.58 290.98 L121.56 291.49 L122.54 291.52 L123.52 292.66 L124.5 292.63 L125.48 293.01 L126.46 294.55 L127.44 296.22 L128.42 297.59 L129.4 298.73 L130.38 301.31 L131.36 302.72 L132.34 305.62 L133.32 307.55 L134.3 310.49 L135.28 312.44 L136.26 314.55 L137.24 316.76 L138.22 319.99 L139.2 323 L140.18 325.37 L141.16 328.13 L142.14 330.5 L143.12 333.24 L144.1 335.96 L145.08 339.07 L146.06 342.03 L147.04 345.32 L148.02 349.21 L149 352.29 L149.98 354.05 L150.96 356.94 L151.94 359.84 L152.92 363.78 L153.9 366.01 L154.88 368.72 L155.86 372.07 L156.84 375.59 L157.82 377.6 L158.8 381.26 L159.78 384.55 L160.76 387.08 L161.74 389.38 L162.72 393.29 L163.7 396.43 L164.68 399.05 L165.66 402.54 L166.64 405.62 L167.62 407.11 L168.6 410.21 L169.58 412.09 L170.56 415.05 L171.54 417.46 L172.52 419.75 L173.5 421.01 L174.48 423.28 L175.46 425.3 L176.44 426.51 L177.42 429.31 L178.4 430.3 L179.38 431.16 L180.36 432.93 L181.34 434.78 L182.32 435.39 L183.3 436.27 L184.28 437.52 L185.26 439.06 L186.24 439.7 L187.22 440.06 L188.2 440.84 L189.18 442.2 L190.16 441.86 L191.14 442.29 L192.12 443.27 L193.1 444.13 L194.08 444.45 L195.06 444.06 L196.04 444.61 L197.02 445.03 L198 445.68 L198.98 446.42 L199.96 446.74 L200.94 446.51 L201.92 446.08 L202.9 446.56 L203.88 446.92 L204.86 446.94 L205.84 447.99 L206.82 447.98 L207.8 448.21 L208.78 448.48 L209.76 448.57 L210.74 448.49 L211.72 449.06 L212.7 448.02 L213.68 448.48 L214.66 448.69 L215.64 448.69 L216.62 448.36 L217.6 448.95 L218.58 448.59 L219.56 449.56 L220.54 448.65 L221.52 449.33 L222.5 448.58 L223.48 449.38 L224.46 449.52 L225.44 449.28 L226.42 449.13 L227.4 448.97 L228.38 449.74 L229.36 449.39 L230.34 449.87 L231.32 449.64 L232.3 448.99 L233.28 449.7 L234.26 449.7 L235.24 450.16 L236.22 449.37 L237.2 450.3 L238.18 450.44 L239.16 449.63 L240.14 449.59 L241.12 450.44 L242.1 450.32 L243.08 450.41 L244.06 450.53 L245.04 450.11 L246.02 449.56 L247 450.07 L247.98 449.96 L248.96 450.01 L249.94 450.07 L250.92 450.7 L251.9 450.71 L252.88 450.64 L253.86 450.4 L254.84 449.94 L255.82 450.07 L256.8 449.87 L257.78 450.08 L258.76 450.82 L259.74 450.01 L260.72 451.01 L261.7 451.18 L262.68 450.19 L263.66 450.6 L264.64 450.19 L265.62 450.47 L266.6 451.38 L267.58 450.76 L268.56 450.23 L269.54 450.66 L270.52 450.42 L271.5 450.92 L272.48 451.16 L273.46 450.97 L274.44 451.03 L275.42 451.22 L276.4 451.07 L277.38 450.86 L278.36 450.96 L279.34 451.69 L280.32 451.48 L281.3 450.64 L282.28 451.31 L283.26 451.47 L284.24 450.91 L285.22 450.71 L286.2 451.96 L287.18 450.74 L288.16 451.25 L289.14 451.76 L290.12 451.11 L291.1 451.92 L292.08 451.88 L293.06 451.46 L294.04 450.94 L295.02 450.55 L296 449.8 L296.98 447.49 L297.96 449.89 L298.94 450.73 L299.92 449.95 L300.9 451.61 L301.88 451.3 L302.86 450.95 L303.84 450.82 L304.82 451.03 L305.8 451.68 L306.78 452.76 L307.76 451.64 L308.74 452.55 L309.72 452.56 L310.7 452.05 L311.68 452.3 L312.66 451.68 L313.64 452.14 L314.62 452.15 L315.6 452.07 L316.58 451.82 L317.56 452.86 L318.54 452.41 L319.52 452.92 L320.5 452.59"/>
<path d="M51 414.13 L51.98 417.22 L52.96 413.54 L53.94 414.65 L54.92 415.36 L55.9 412.25 L56.88 415.12 L57.86 413.12 L58.84 412.01 L59.82 410.78 L60.8 409.06 L61.78 410.93 L62.76 409.47 L63.74 407.79 L64.72 406.06 L65.7 402.11 L66.68 402.32 L67.66 401.5 L68.64 399.54 L69.62 396.03 L70.6 395.48 L71.58 394.01 L72.56 392.03 L73.54 389.23 L74.52 387.1 L75.5 384.45 L76.48 380.37 L77.46 377.79 L78.44 374.9 L79.42 372.79 L80.4 370.51 L81.38 367.42 L82.36 365.84 L83.34 362.41 L84.32 360.13 L85.3 357.71 L86.28 354.84 L87.26 353.29 L88.24 349.71 L89.22 347.48 L90.2 345.27 L91.18 342.5 L92.16 340.49 L93.14 337.22 L94.12 334.58 L95.1 331.84 L96.08 330.13 L97.06 327.25 L98.04 324.69 L99.02 321.54 L100 319.22 L100.98 317.09 L101.96 314.57 L102.94 312.77 L103.92 311.23 L104.9 308.27 L105.88 307.27 L106.86 304.86 L107.84 303.49 L108.82 301.26 L109.8 300.77 L110.78 299.01 L111.76 297.9 L112.74 296.27 L113.72 295.17 L114.7 293.7 L115.68 292.75 L116.66 292.25 L117.64 291.61 L118.62 290.81 L119.6 291.3 L120.58 291.29 L121.56 291.58 L122.54 291.77 L123.52 291.79 L124.5 292.49 L125.48 293.87 L126.46 294.44 L127.44 296.52 L128.42 297.59 L129.4 298.85 L130.38 300.96 L131.36 302.62 L132.34 304.78 L133.32 307.42 L134.3 310 L135.28 311.78 L136.26 314.42 L137.24 317.7 L138.22 319.35 L139.2 321.97 L140.18 325.87 L141.16 327.57 L142.14 330.98 L143.12 333.5 L144.1 336.44 L145.08 339.33 L146.06 343.25 L147.04 345.24 L148.02 348.35 L149 351.19 L149.98 355.07 L150.96 357.93 L151.94 360.01 L152.92 363.68 L153.9 366.34 L154.88 369.47 L155.86 372.94 L156.84 375.19 L157.82 377.91 L158.8 381.71 L159.78 383.79 L160.76 387.3 L161.74 390.6 L162.72 393.69 L163.7 396.32 L164.68 399.29 L165.66 402.2 L166.64 404.9 L167.62 407.39 L168.6 410.65 L169.58 412.5 L170.56 414.75 L171.54 417 L172.52 419.76 L173.5 421.12 L174.48 423.2 L175.46 425.51 L176.44 426.87 L177.42 428.36 L178.4 430.63 L179.38 431.92 L180.36 432.85 L181.34 434.83 L182.32 436.17 L183.3 437.36 L184.28 437.62 L185.26 438.8 L186.24 440.16 L187.22 440.54 L188.2 441.31 L189.18 441.24 L190.16 442.76 L191.14 443.07 L192.12 443.72 L193.1 443.58 L194.08 444.43 L195.06 444.99 L196.04 444.9 L197.02 446.15 L198 445.84 L198.98 446.57 L199.96 445.99 L200.94 446.95 L201.92 447.34 L202.9 446.99 L203.88 447.77 L204.86 447.12 L205.84 447.16 L206.82 447.96 L207.8 448.44 L208.78 448.11 L209.76 448.92 L210.74 448.36 L211.72 448.91 L212.7 448.23 L213.68 448.77 L214.66 448.88 L215.64 448.83 L216.62 449.19 L217.6 448.52 L218.58 449.25 L219.56 448.84 L220.54 449.4 L221.52 448.95 L222.5 448.73 L223.48 449.94 L224.46 449.25 L225.44 449.22 L226.42 449.93 L227.4 450 L228.38 449.96 L229.36 449.09 L230.34 449.97 L231.32 449.51 L232.3 450.13 L233.28 450.18 L234.26 449.87 L235.24 450.07 L236.22 450.22 L237.2 450.22 L238.18 449.52 L239.16 449.57 L240.14 450.45 L241.12 450.44 L242.1 450.76 L243.08 450.34 L244.06 450.25 L245.04 449.9 L246.02 450.13 L247 450.85 L247.98 449.72 L248.96 450.33 L249.94 450.81 L250.92 450.67 L251.9 450.85 L252.88 450.04 L253.86 450.85 L254.84 449.93 L255.82 450.37 L256.8 450.05 L257.78 450.09 L258.76 450.96 L259.74 450.1 L260.72 451.1 L261.7 450.16 L262.68 450.36 L263.66 450.36 L264.64 450.91 L265.62 450.21 L266.6 450.75 L267.58 451.17 L268.56 450.59 L269.54 451.42 L270.52 450.55 L271.5 450.8 L272.48 450.77 L273.46 451.38 L274.44 451.47 L275.42 450.62 L276.4 450.95 L277.38 451.09 L278.36 451.43 L279.34 450.83 L280.32 450.84 L281.3 451.1 L282.28 450.93 L283.26 451.85 L284.24 451.58 L285.22 451.95 L286.2 451.27 L287.18 451.28 L288.16 451.76 L289.14 451.99 L290.12 450.99 L291.1 451.4 L292.08 450.97 L293.06 451.53 L294.04 451.28 L295.02 451.67 L296 449.5 L296.98 448.69 L297.96 447.97 L298.94 450.67 L299.92 450.67 L300.9 452.13 L301.88 450.53 L302.86 451.46 L303.84 452.47 L304.82 450.95 L305.8 450.82 L306.78 450.8 L307.76 451 L308.74 453 L309.72 451.39 L310.7 451.54 L311.68 451.5 L312.66 452.62 L313.64 452.59 L314.62 451.97 L315.6 451.92 L316.58 451.65 L317.56 452.53 L318.54 452.75 L319.52 451.99 L320.5 452.66"/>
<path d="M51 419.05 L51.98 417.59 L52.96 412.18 L53.94 417.22 L54.92 412.73 L55.9 411.14 L56.88 413.77 L57.86 410.73 L58.84 409.11 L59.82 412.64 L60.8 411.24 L61.78 407.16 L62.76 407.87 L63.74 407.64 L64.72 407.06 L65.7 402.13 L66.68 403.59 L67.66 398.88 L68.64 399.84 L69.62 398.84 L70.6 395.8 L71.58 394.21 L72.56 390.25 L73.54 390.29 L74.52 387.56 L75.5 382.73 L76.48 380.85 L77.46 377.57 L78.44 376.52 L79.42 373.83 L80.4 370.99 L81.38 367.62 L82.36 365.36 L83.34 362.42 L84.32 360.14 L85.3 357.93 L86.28 354.76 L87.26 352.89 L88.24 350.75 L89.22 347.88 L90.2 344.79 L91.18 342.52 L92.16 339.75 L93.14 337.39 L94.12 335.36 L95.1 332.68 L96.08 329.65 L97.06 327.11 L98.04 324.21 L99.02 321.64 L100 319.35 L100.98 317.7 L101.96 315.42 L102.94 312.85 L103.92 310.39 L104.9 308.39 L105.88 307.38 L106.86 305.1 L107.84 303.31 L108.82 302.15 L109.8 301.07 L110.78 299.43 L111.76 297.83 L112.74 296.47 L113.72 295.52 L114.7 294.11 L115.68 293.47 L116.66 292.07 L117.64 291.45 L118.62 290.56 L119.6 291.03 L120.58 290.88 L121.56 290.89 L122.54 291.86 L123.52 292.44 L124.5 293.24 L125.48 293.31 L126.46 294.89 L127.44 296.09 L128.42 297.17 L129.4 299.65 L130.38 300.68 L131.36 303.28 L132.34 305.37 L133.32 307.45 L134.3 310.36 L135.28 312.8 L136.26 314.19 L137.24 317.52 L138.22 319.33 L139.2 323.12 L140.18 324.93 L141.16 327.84 L142.14 330.29 L143.12 334.3 L144.1 336.54 L145.08 340.28 L146.06 342.24 L147.04 345.75 L148.02 348.51 L149 351.69 L149.98 354.88 L150.96 357.48 L151.94 360.38 L152.92 363.72 L153.9 366.71 L154.88 369.44 L155.86 372.57 L156.84 374.8 L157.82 378.62 L158.8 381.77 L159.78 384.29 L160.76 386.79 L161.74 390.32 L162.72 393.79 L163.7 396.29 L164.68 399.41 L165.66 401.89 L166.64 405.09 L167.62 407.72 L168.6 410.64 L169.58 413.09 L170.56 414.92 L171.54 418.29 L172.52 419.67 L173.5 421.27 L174.48 423.86 L175.46 425.41 L176.44 426.89 L177.42 428.76 L178.4 430.69 L179.38 431.9 L180.36 433.1 L181.34 435.16 L182.32 435.79 L183.3 437.66 L184.28 438.34 L185.26 438.89 L186.24 439.63 L187.22 440.26 L188.2 441.2 L189.18 442.3 L190.16 442.2 L191.14 442.9 L192.12 443.47 L193.1 443.98 L194.08 444.59 L195.06 445.09 L196.04 445.88 L197.02 445.52 L198 445.97 L198.98 446.15 L199.96 446.66 L200.94 447.1 L201.92 446.79 L202.9 447.61 L203.88 447.34 L204.86 448.31 L205.84 448.41 L206.82 448 L207.8 447.89 L208.78 448.5 L209.76 448.79 L210.74 448.59 L211.72 449.39 L212.7 449.18 L213.68 449.35 L214.66 448.82 L215.64 448.84 L216.62 449.2 L217.6 448.9 L218.58 449.78 L219.56 449.88 L220.54 448.88 L221.52 448.91 L222.5 449.92 L223.48 449.95 L224.46 449.63 L225.44 449.25 L226.42 449.23 L227.4 449.69 L228.38 449.2 L229.36 449.99 L230.34 449.86 L231.32 449.67 L232.3 450.46 L233.28 449.93 L234.26 449.72 L235.24 450.03 L236.22 450.19 L237.2 450.05 L238.18 449.5 L239.16 450.53 L240.14 450.1 L241.12 449.59 L242.1 450.78 L243.08 450.78 L244.06 450.3 L245.04 450.85 L246.02 450.03 L247 450.44 L247.98 450.77 L248.96 450.96 L249.94 450.83 L250.92 450.64 L251.9 450.13 L252.88 451.06 L253.86 450.98 L254.84 450.14 L255.82 451.11 L256.8 451.01 L257.78 450.62 L258.76 450.76 L259.74 450.24 L260.72 450.76 L261.7 450.5 L262.68 450.9 L263.66 450.62 L264.64 451.16 L265.62 451.47 L266.6 451.08 L267.58 451.43 L268.56 450.79 L269.54 451.58 L270.52 451.5 L271.5 450.77 L272.48 451.11 L273.46 451.36 L274.44 450.67 L275.42 450.76 L276.4 450.77 L277.38 450.58 L278.36 450.72 L279.34 451.15 L280.32 451.86 L281.3 450.84 L282.28 450.93 L283.26 450.73 L284.24 451.28 L285.22 450.81 L286.2 450.86 L287.18 451.05 L288.16 451.23 L289.14 451.68 L290.12 450.9 L291.1 451.48 L292.08 451.14 L293.06 451.07 L294.04 450.65 L295.02 449.94 L296 450.97 L296.98 449.6 L297.96 450.35 L298.94 450.31 L299.92 450.57 L300.9 451.95 L301.88 452.59 L302.86 450.88 L303.84 450.75 L304.82 451.49 L305.8 450.81 L306.78 450.96 L307.76 452.3 L308.74 451.77 L309.72 452.16 L310.7 452.24 L311.68 452.4 L312.66 452.17 L313.64 451.53 L314.62 452.18 L315.6 451.98 L316.58 452.34 L317.56 451.67 L318.54 452.18 L319.52 451.72 L320.5 453.03"/>
<path d="M51 417.95 L51.98 417.95 L52.96 415.89 L53.94 413.34 L54.92 416.1 L55.9 410.54 L56.88 413.78 L57.86 414.39 L58.84 413.5 L59.82 410.12 L60.8 407.8 L61.78 409.72 L62.76 408.77 L63.74 408.41 L64.72 404.74 L65.7 403.92 L66.68 403.74 L67.66 402.12 L68.64 400.35 L69.62 397.48 L70.6 394.96 L71.58 393.15 L72.56 390.48 L73.54 388.31 L74.52 386.18 L75.5 385.18 L76.48 380.78 L77.46 379.07 L78.44 375.01 L79.42 374.1 L80.4 371.09 L81.38 368 L82.36 365.86 L83.34 363 L84.32 360.47 L85.3 357.6 L86.28 355.85 L87.26 352.65 L88.24 349.78 L89.22 347.85 L90.2 345.64 L91.18 342.23 L92.16 339.91 L93.14 337.44 L94.12 334.61 L95.1 332.52 L96.08 329.9 L97.06 326.45 L98.04 324.37 L99.02 321.84 L100 319.87 L100.98 316.72 L101.96 315.57 L102.94 312.55 L103.92 310.8 L104.9 309.01 L105.88 307.47 L106.86 304.88 L107.84 303.06 L108.82 301.91 L109.8 300.62 L110.78 298.93 L111.76 297.98 L112.74 296.31 L113.72 295.13 L114.7 293.96 L115.68 293.4 L116.66 292.12 L117.64 291.65 L118.62 290.38 L119.6 291.01 L120.58 290.39 L121.56 291.41 L122.54 291.98 L123.52 292.23 L124.5 292.73 L125.48 293.76 L126.46 294.43 L127.44 295.98 L128.42 297.08 L129.4 299.25 L130.38 300.67 L131.36 303.52 L132.34 305.5 L133.32 307.59 L134.3 310.11 L135.28 312.81 L136.26 314.28 L137.24 317.49 L138.22 319.77 L139.2 322.21 L140.18 325.43 L141.16 328.03 L142.14 331.38 L143.12 333.39 L144.1 337.11 L145.08 340.32 L146.06 343.17 L147.04 345.38 L148.02 348.84 L149 352.09 L149.98 354.25 L150.96 357.46 L151.94 360.42 L152.92 363.93 L153.9 366.18 L154.88 370.02 L155.86 372.69 L156.84 374.9 L157.82 378.28 L158.8 381.7 L159.78 384.25 L160.76 387.38 L161.74 391.08 L162.72 393.07 L163.7 397.15 L164.68 399.12 L165.66 402.51 L166.64 406.17 L167.62 407.76 L168.6 411.56 L169.58 413.46 L170.56 416.08 L171.54 418.09 L172.52 420.01 L173.5 422 L174.48 424.17 L175.46 425.38 L176.44 427.74 L177.42 429.16 L178.4 430.91 L179.38 432.82 L180.36 433.32 L181.34 435.58 L182.32 436.64 L183.3 437.79 L184.28 438.24 L185.26 439.68 L186.24 440.25 L187.22 441.4 L188.2 441.4 L189.18 442.14 L190.16 443.2 L191.14 444.03 L192.12 443.77 L193.1 445.15 L194.08 444.42 L195.06 445.27 L196.04 446.31 L197.02 446.66 L198 447.05 L198.98 447.23 L199.96 447.14 L200.94 447.53 L201.92 447.85 L202.9 447.54 L203.88 447.61 L204.86 448.67 L205.84 447.73 L206.82 448.29 L207.8 448.89 L208.78 448.92 L209.76 448.6 L210.74 449.4 L211.72 449.65 L212.7 449.48 L213.68 448.93 L214.66 449.54 L215.64 450.04 L216.62 448.9 L217.6 450.12 L218.58 449.88 L219.56 449.21 L220.54 450.23 L221.52 449.37 L222.5 449.63 L223.48 449.76 L224.46 449.45 L225.44 450.04 L226.42 449.53 L227.4 449.52 L228.38 450.57 L229.36 450.19 L230.34 450.62 L231.32 449.67 L232.3 449.65 L233.28 450.24 L234.26 449.65 L235.24 449.58 L236.22 450.74 L237.2 450.72 L238.18 449.76 L239.16 449.82 L240.14 450.54 L241.12 450.16 L242.1 450.57 L243.08 450.24 L244.06 450.04 L245.04 450 L246.02 451.09 L247 450.7 L247.98 450.47 L248.96 449.95 L249.94 449.91 L250.92 450.6 L251.9 450.03 L252.88 451.1 L253.86 450.7 L254.84 450.34 L255.82 451 L256.8 450.99 L257.78 451.21 L258.76 451.15 L259.74 450.44 L260.72 450.86 L261.7 450.39 L262.68 451.14 L263.66 451.01 L264.64 450.96 L265.62 451 L266.6 451.58 L267.58 450.54 L268.56 451.03 L269.54 451.09 L270.52 450.48 L271.5 451.23 L272.48 450.74 L273.46 451.68 L274.44 450.67 L275.42 450.53 L276.4 450.54 L277.38 451.18 L278.36 450.63 L279.34 451.53 L280.32 451.11 L281.3 450.74 L282.28 451.07 L283.26 450.87 L284.24 451.26 L285.22 451.44 L286.2 451.69 L287.18 450.88 L288.16 451.92 L289.14 452.06 L290.12 450.93 L291.1 452.03 L292.08 450.96 L293.06 451.46 L294.04 451.22 L295.02 449.97 L296 448.67 L296.98 448.43 L297.96 449.85 L298.94 449.55 L299.92 450.73 L300.9 450.99 L301.88 452.79 L302.86 451.55 L303.84 450.79 L304.82 449.76 L305.8 450.22 L306.78 451.08 L307.76 452.47 L308.74 452.38 L309.72 451.77 L310.7 452.5 L311.68 451.64 L312.66 451.58 L313.64 452.36 L314.62 452.65 L315.6 452.85 L316.58 451.67 L317.56 452.32 L318.54 451.98 L319.52 452.62 L320.5 452.66"/>
<path d="M51 413.87 L51.98 413.54 L52.96 416.01 L53.94 411.72 L54.92 416.29 L55.9 410.84 L56.88 414.18 L57.86 412.93 L58.84 410.97 L59.82 412.23 L60.8 408.55 L61.78 408.08 L62.76 406.81 L63.74 406.78 L64.72 406.6 L65.7 404.66 L66.68 402.73 L67.66 402.05 L68.64 399.44 L69.62 395.9 L70.6 394.82 L71.58 394.08 L72.56 392.03 L73.54 387.73 L74.52 385.27 L75.5 383.1 L76.48 380.43 L77.46 378.9 L78.44 376.86 L79.42 372.88 L80.4 370.58 L81.38 368.59 L82.36 364.91 L83.34 362.67 L84.32 360.1 L85.3 357.4 L86.28 355.21 L87.26 353.19 L88.24 350.31 L89.22 347.33 L90.2 345.05 L91.18 342.35 L92.16 340.35 L93.14 337.82 L94.12 334.82 L95.1 332.32 L96.08 329.26 L97.06 326.75 L98.04 324.93 L99.02 321.89 L100 319.14 L100.98 317.09 L101.96 315.35 L102.94 313.2 L103.92 310.77 L104.9 308.94 L105.88 307.34 L106.86 305.26 L107.84 303.44 L108.82 301.83 L109.8 301.06 L110.78 298.55 L111.76 298.32 L112.74 296.01 L113.72 295.19 L114.7 294.03 L115.68 292.89 L116.66 292.33 L117.64 291.93 L118.62 290.84 L119.6 290.39 L120.58 290.68 L121.56 291.46 L122.54 291.11 L123.52 292.49 L124.5 292.4 L125.48 293.64 L126.46 295.15 L127.44 295.76 L128.42 297.56 L129.4 298.67 L130.38 300.26 L131.36 302.88 L132.34 304.84 L133.32 307.82 L134.3 309.86 L135.28 311.76 L136.26 314.59 L137.24 316.79 L138.22 319.62 L139.2 323.16 L140.18 325.37 L141.16 327.61 L142.14 330.64 L143.12 333.82 L144.1 337.29 L145.08 340.22 L146.06 342.33 L147.04 346.24 L148.02 348.86 L149 352.28 L149.98 354.72 L150.96 358.09 L151.94 360.18 L152.92 364.14 L153.9 367.03 L154.88 369.84 L155.86 372.44 L156.84 376.14 L157.82 378.07 L158.8 381.63 L159.78 384.05 L160.76 387.95 L161.74 390.78 L162.72 393.12 L163.7 396.07 L164.68 399.93 L165.66 402.94 L166.64 405.96 L167.62 408.05 L168.6 411.2 L169.58 413.92 L170.56 416.33 L171.54 418.26 L172.52 420.5 L173.5 422.31 L174.48 424.67 L175.46 426.27 L176.44 427.8 L177.42 429.32 L178.4 431.23 L179.38 432.54 L180.36 433.58 L181.34 434.93 L182.32 435.87 L183.3 436.98 L184.28 438.86 L185.26 439.9 L186.24 440.44 L187.22 440.82 L188.2 441.17 L189.18 442.83 L190.16 443.2 L191.14 443.12 L192.12 443.92 L193.1 444.21 L194.08 445.6 L195.06 445.73 L196.04 446.19 L197.02 446.15 L198 446.22 L198.98 446.92 L199.96 447.17 L200.94 447.44 L201.92 447.17 L202.9 447.84 L203.88 447.48 L204.86 448.32 L205.84 448.09 L206.82 449.14 L207.8 448.53 L208.78 448.41 L209.76 448.41 L210.74 449.51 L211.72 448.6 L212.7 449.28 L213.68 449.41 L214.66 449.85 L215.64 448.94 L216.62 449.78 L217.6 449.01 L218.58 449.16 L219.56 450.01 L220.54 449.18 L221.52 449.21 L222.5 450.17 L223.48 449.67 L224.46 449.29 L225.44 449.56 L226.42 450.07 L227.4 450.61 L228.38 450.09 L229.36 450.58 L230.34 449.87 L231.32 449.97 L232.3 450.56 L233.28 450.35 L234.26 449.94 L235.24 449.93 L236.22 449.78 L237.2 450.63 L238.18 450.79 L239.16 450.89 L240.14 450.07 L241.12 450.88 L242.1 450.07 L243.08 450.37 L244.06 449.83 L245.04 449.92 L246.02 450.59 L247 450.25 L247.98 450.8 L248.96 450.86 L249.94 450.74 L250.92 451 L251.9 451.1 L252.88 451.11 L253.86 450.03 L254.84 451.13 L255.82 450.69 L256.8 450.44 L257.78 450.65 L258.76 450.93 L259.74 450.41 L260.72 451.19 L261.7 450.71 L262.68 450.43 L263.66 450.66 L264.64 451.06 L265.62 451.27 L266.6 450.6 L267.58 450.39 L268.56 450.58 L269.54 451.28 L270.52 450.52 L271.5 451.18 L272.48 450.94 L273.46 450.56 L274.44 451.24 L275.42 451.28 L276.4 451.25 L277.38 451.69 L278.36 450.64 L279.34 450.65 L280.32 450.99 L281.3 451.11 L282.28 451.91 L283.26 451.8 L284.24 450.78 L285.22 451.67 L286.2 451.62 L287.18 451.17 L288.16 451.57 L289.14 451.84 L290.12 450.94 L291.1 451.28 L292.08 451.52 L293.06 451.14 L294.04 450.53 L295.02 450.99 L296 448.81 L296.98 449.39 L297.96 449.96 L298.94 449.59 L299.92 451.1 L300.9 451.49 L301.88 452.78 L302.86 452.04 L303.84 449.93 L304.82 449.18 L305.8 451.53 L306.78 451.58 L307.76 452.52 L308.74 450.89 L309.72 452.37 L310.7 452.66 L311.68 452.46 L312.66 451.6 L313.64 452.38 L314.62 452.06 L315.6 451.84 L316.58 452.81 L317.56 452.59 L318.54 452.77 L319.52 452.49 L320.5 452.23"/>
</g>
<g stroke="#000" stroke-width="1.9" fill="none">
<path d="M44 273.4 H320.6 M51 273.4 V453.7 M44 453.7 H320.6 M320.6 272.5 V461"/>
<path d="M44 427.96 H51"/>
<path d="M44 402.22 H51"/>
<path d="M44 376.48 H51"/>
<path d="M44 350.74 H51"/>
<path d="M44 325 H51"/>
<path d="M44 299.26 H51"/>
<path d="M75.5 453.7 V461"/>
<path d="M124.5 453.7 V461"/>
<path d="M173.5 453.7 V461"/>
<path d="M222.5 453.7 V461"/>
<path d="M271.5 453.7 V461"/>
</g>
<g font-family="Liberation Sans, sans-serif" font-weight="bold" font-size="13" fill="#000" text-anchor="end">
<text x="41.9" y="458.4">0.0</text>
<text x="41.9" y="432.66">0.1</text>
<text x="41.9" y="406.92">0.2</text>
<text x="41.9" y="381.18">0.3</text>
<text x="41.9" y="355.44">0.4</text>
<text x="41.9" y="329.7">0.5</text>
<text x="41.9" y="303.96">0.6</text>
<text x="41.9" y="278.22">0.7</text>
</g>
<g font-family="Liberation Sans, sans-serif" font-weight="bold" font-size="13" fill="#000" text-anchor="middle">
<text x="75.5" y="474.7">400</text>
<text x="124.5" y="474.7">500</text>
<text x="173.5" y="474.7">600</text>
<text x="222.5" y="474.7">700</text>
<text x="271.5" y="474.7">800</text>
<text x="320.5" y="474.7">900</text>
</g>
<text font-family="Liberation Sans, sans-serif" font-weight="bold" font-size="14.3" text-anchor="middle" x="186.4" y="498.5">Wavelength (nm)</text>
<text font-family="Liberation Sans, sans-serif" font-weight="bold" font-size="14.3" text-anchor="middle" transform="translate(13.7 363) rotate(-90)">Absorbtion</text>
<g stroke="#000" stroke-width="2.6" fill="none">
<path d="M440.7 1.3 H720.8 M440.7 0 V188.5 M436.2 188.5 H720.8 M720.8 0 V193"/>
<path d="M436.2 146.85 H440.7"/>
<path d="M436.2 105.2 H440.7"/>
<path d="M436.2 63.55 H440.7"/>
<path d="M436.2 21.9 H440.7"/>
<path d="M441 188.5 V193"/>
<path d="M496.96 188.5 V193"/>
<path d="M552.92 188.5 V193"/>
<path d="M608.88 188.5 V193"/>
<path d="M664.84 188.5 V193"/>
</g>
<g fill="none" stroke-width="3" stroke-linejoin="round">
<path stroke="#00f" d="M441 188.5 L441.28 185.63 L441.56 182.84 L441.84 180.11 L442.12 177.46 L442.4 174.88 L442.68 172.36 L442.96 169.91 L443.24 167.53 L443.52 165.21 L443.8 162.95 L444.08 160.76 L444.36 158.62 L444.64 156.54 L444.92 154.52 L445.2 152.56 L445.48 150.65 L445.76 148.79 L446.04 146.99 L446.32 145.24 L446.6 143.54 L446.88 141.89 L447.16 140.28 L447.44 138.73 L447.72 137.22 L448 135.75 L448.27 134.33 L448.55 132.95 L448.83 131.62 L449.11 130.32 L449.39 129.06 L449.67 127.85 L449.95 126.67 L450.23 125.53 L450.51 124.43 L450.79 123.36 L451.07 122.32 L451.35 121.32 L451.63 120.36 L451.91 119.42 L452.19 118.52 L452.47 117.65 L452.75 116.81 L453.03 116 L453.31 115.22 L453.59 114.46 L453.87 113.74 L454.15 113.04 L454.43 112.37 L454.71 111.72 L454.99 111.1 L455.27 110.5 L455.55 109.92 L455.83 109.37 L456.11 108.84 L456.39 108.34 L456.67 107.85 L456.95 107.39 L457.23 106.95 L457.51 106.53 L457.79 106.12 L458.07 105.74 L458.35 105.38 L458.63 105.03 L458.91 104.7 L459.19 104.39 L459.47 104.1 L459.75 103.82 L460.03 103.56 L460.31 103.31 L460.59 103.08 L460.87 102.87 L461.15 102.66 L461.43 102.48 L461.71 102.31 L461.99 102.15 L462.26 102 L462.54 101.87 L462.82 101.75 L463.1 101.64 L463.38 101.55 L463.66 101.46 L463.94 101.39 L464.22 101.33 L464.5 101.28 L464.78 101.24 L465.06 101.21 L465.34 101.19 L465.62 101.18 L465.9 101.18 L466.18 101.19 L466.46 101.2 L466.74 101.23 L467.02 101.27 L467.3 101.31 L467.58 101.36 L467.86 101.42 L468.14 101.49 L468.42 101.57 L468.7 101.65 L468.98 101.74 L469.26 101.84 L470.1 102.17 L470.94 102.56 L471.78 103 L472.62 103.49 L473.47 104.03 L474.31 104.61 L475.15 105.22 L475.99 105.87 L476.83 106.55 L477.67 107.26 L478.51 108 L479.36 108.76 L480.2 109.54 L481.04 110.35 L481.88 111.17 L482.72 112.01 L483.56 112.86 L484.4 113.73 L485.24 114.6 L486.09 115.49 L486.93 116.39 L487.77 117.29 L488.61 118.2 L489.45 119.12 L490.29 120.04 L491.13 120.96 L491.97 121.89 L492.82 122.82 L493.66 123.75 L494.5 124.68 L495.34 125.6 L496.18 126.53 L497.02 127.46 L497.86 128.39 L498.7 129.31 L499.55 130.23 L500.39 131.14 L501.23 132.05 L502.07 132.96 L502.91 133.86 L503.75 134.76 L504.59 135.65 L505.43 136.54 L506.28 137.42 L507.12 138.29 L507.96 139.15 L508.8 140.01 L509.64 140.87 L510.48 141.71 L511.32 142.55 L512.16 143.37 L513.01 144.2 L513.85 145.01 L514.69 145.81 L515.53 146.61 L516.37 147.39 L517.21 148.17 L518.05 148.94 L518.89 149.7 L519.74 150.45 L520.58 151.2 L521.42 151.93 L522.26 152.65 L523.1 153.37 L523.94 154.07 L524.78 154.77 L525.62 155.46 L526.47 156.13 L527.31 156.8 L528.15 157.46 L528.99 158.11 L529.83 158.75 L530.67 159.38 L531.51 160 L532.36 160.61 L533.2 161.21 L534.04 161.81 L534.88 162.39 L535.72 162.96 L536.56 163.53 L537.4 164.08 L538.24 164.63 L539.09 165.17 L539.93 165.7 L540.77 166.22 L541.61 166.73 L542.45 167.23 L543.29 167.72 L544.13 168.2 L544.97 168.68 L545.82 169.15 L546.66 169.6 L547.5 170.05 L548.34 170.49 L549.18 170.93 L550.02 171.35 L550.86 171.77 L551.7 172.18 L552.55 172.58 L553.39 172.97 L554.23 173.36 L555.07 173.73 L555.91 174.1 L556.75 174.47 L557.59 174.82 L558.43 175.17 L559.28 175.51 L560.12 175.84 L560.96 176.17 L561.8 176.49 L562.64 176.8 L563.48 177.11 L564.32 177.4 L565.16 177.7 L566.01 177.98 L566.85 178.26 L567.69 178.54 L568.53 178.8 L569.37 179.07 L570.21 179.32 L571.05 179.57 L571.89 179.81 L572.74 180.05 L573.58 180.29 L574.42 180.51 L575.26 180.73 L576.1 180.95 L576.94 181.16 L577.78 181.37 L578.63 181.57 L579.47 181.77 L580.31 181.96 L581.15 182.15 L581.99 182.33 L582.83 182.51 L583.67 182.68 L584.51 182.85 L585.36 183.01 L586.2 183.17 L587.04 183.33 L587.88 183.48 L588.72 183.63 L589.56 183.78 L590.4 183.92 L591.24 184.06 L592.09 184.19 L592.93 184.32 L593.77 184.45 L594.61 184.57 L595.45 184.69 L596.29 184.81 L597.13 184.92 L597.97 185.03 L598.82 185.14 L599.66 185.24 L600.5 185.34 L601.34 185.44 L602.18 185.54 L603.02 185.63 L603.86 185.72 L604.7 185.81 L605.55 185.9 L606.39 185.98 L607.23 186.06 L608.07 186.14 L608.91 186.21 L609.75 186.29 L610.59 186.36 L611.43 186.43 L612.28 186.5 L613.12 186.56 L613.96 186.63 L614.8 186.69 L615.64 186.75 L616.48 186.81 L617.32 186.86 L618.16 186.92 L619.01 186.97 L619.85 187.02 L620.69 187.07 L621.53 187.12 L622.37 187.17 L623.21 187.21 L624.05 187.26 L624.9 187.3 L625.74 187.34 L626.58 187.38 L627.42 187.42 L628.26 187.46 L629.1 187.49 L629.94 187.53 L630.78 187.56 L631.63 187.6 L632.47 187.63 L633.31 187.66 L634.15 187.69 L634.99 187.72 L635.83 187.74 L636.67 187.77 L637.51 187.8 L638.36 187.82 L639.2 187.85 L640.04 187.87 L640.88 187.89 L641.72 187.92 L642.56 187.94 L643.4 187.96 L644.24 187.98 L645.09 188 L645.93 188.02 L646.77 188.03 L647.61 188.05 L648.45 188.07 L649.29 188.08 L650.13 188.1 L650.97 188.11 L651.82 188.13 L652.66 188.14 L653.5 188.16 L654.34 188.17 L655.18 188.18 L656.02 188.19 L656.86 188.21 L657.7 188.22 L658.55 188.23 L659.39 188.24 L660.23 188.25 L661.07 188.26 L661.91 188.27 L662.75 188.28 L663.59 188.28 L664.43 188.29 L665.28 188.3 L666.12 188.31 L666.96 188.32 L667.8 188.32 L668.64 188.33 L669.48 188.34 L670.32 188.34 L671.16 188.35 L672.01 188.36 L672.85 188.36 L673.69 188.37 L674.53 188.37 L675.37 188.38 L676.21 188.38 L677.05 188.39 L677.9 188.39 L678.74 188.4 L679.58 188.4 L680.42 188.4 L681.26 188.41 L682.1 188.41 L682.94 188.42 L683.78 188.42 L684.63 188.42 L685.47 188.43 L686.31 188.43 L687.15 188.43 L687.99 188.43 L688.83 188.44 L689.67 188.44 L690.51 188.44 L691.36 188.45 L692.2 188.45 L693.04 188.45 L693.88 188.45 L694.72 188.45 L695.56 188.46 L696.4 188.46 L697.24 188.46 L698.09 188.46 L698.93 188.46 L699.77 188.46 L700.61 188.47 L701.45 188.47 L702.29 188.47 L703.13 188.47 L703.97 188.47 L704.82 188.47 L705.66 188.47 L706.5 188.48 L707.34 188.48 L708.18 188.48 L709.02 188.48 L709.86 188.48 L710.7 188.48 L711.55 188.48 L712.39 188.48 L713.23 188.48 L714.07 188.48 L714.91 188.48 L715.75 188.48 L716.59 188.49 L717.43 188.49 L718.28 188.49 L719.12 188.49 L719.96 188.49 L720.8 188.49"/>
<path stroke="#0f0" d="M441 188.5 L441.28 188.49 L441.56 188.46 L441.84 188.41 L442.12 188.35 L442.4 188.27 L442.68 188.17 L442.96 188.05 L443.24 187.92 L443.52 187.77 L443.8 187.6 L444.08 187.42 L444.36 187.22 L444.64 187.01 L444.92 186.79 L445.2 186.55 L445.48 186.3 L445.76 186.03 L446.04 185.75 L446.32 185.46 L446.6 185.15 L446.88 184.84 L447.16 184.51 L447.44 184.17 L447.72 183.82 L448 183.45 L448.27 183.08 L448.55 182.7 L448.83 182.31 L449.11 181.9 L449.39 181.49 L449.67 181.07 L449.95 180.64 L450.23 180.2 L450.51 179.75 L450.79 179.29 L451.07 178.83 L451.35 178.35 L451.63 177.87 L451.91 177.39 L452.19 176.89 L452.47 176.39 L452.75 175.88 L453.03 175.36 L453.31 174.84 L453.59 174.32 L453.87 173.78 L454.15 173.24 L454.43 172.7 L454.71 172.15 L454.99 171.59 L455.27 171.03 L455.55 170.46 L455.83 169.89 L456.11 169.32 L456.39 168.74 L456.67 168.16 L456.95 167.57 L457.23 166.98 L457.51 166.38 L457.79 165.78 L458.07 165.18 L458.35 164.58 L458.63 163.97 L458.91 163.36 L459.19 162.74 L459.47 162.13 L459.75 161.51 L460.03 160.89 L460.31 160.26 L460.59 159.64 L460.87 159.01 L461.15 158.38 L461.43 157.75 L461.71 157.11 L461.99 156.48 L462.26 155.84 L462.54 155.2 L462.82 154.56 L463.1 153.92 L463.38 153.28 L463.66 152.64 L463.94 151.99 L464.22 151.35 L464.5 150.71 L464.78 150.06 L465.06 149.41 L465.34 148.77 L465.62 148.12 L465.9 147.47 L466.18 146.83 L466.46 146.18 L466.74 145.53 L467.02 144.89 L467.3 144.24 L467.58 143.59 L467.86 142.95 L468.14 142.3 L468.42 141.65 L468.7 141.01 L468.98 140.36 L469.26 139.72 L470.1 137.79 L470.94 135.87 L471.78 133.95 L472.62 132.05 L473.47 130.16 L474.31 128.28 L475.15 126.42 L475.99 124.57 L476.83 122.74 L477.67 120.93 L478.51 119.13 L479.36 117.36 L480.2 115.6 L481.04 113.87 L481.88 112.15 L482.72 110.46 L483.56 108.79 L484.4 107.14 L485.24 105.51 L486.09 103.91 L486.93 102.32 L487.77 100.77 L488.61 99.23 L489.45 97.72 L490.29 96.23 L491.13 94.77 L491.97 93.33 L492.82 91.91 L493.66 90.52 L494.5 89.15 L495.34 87.8 L496.18 86.48 L497.02 85.18 L497.86 83.9 L498.7 82.65 L499.55 81.42 L500.39 80.21 L501.23 79.03 L502.07 77.86 L502.91 76.72 L503.75 75.61 L504.59 74.51 L505.43 73.44 L506.28 72.38 L507.12 71.35 L507.96 70.34 L508.8 69.35 L509.64 68.38 L510.48 67.43 L511.32 66.49 L512.16 65.58 L513.01 64.69 L513.85 63.82 L514.69 62.96 L515.53 62.13 L516.37 61.31 L517.21 60.51 L518.05 59.72 L518.89 58.96 L519.74 58.21 L520.58 57.47 L521.42 56.76 L522.26 56.06 L523.1 55.37 L523.94 54.7 L524.78 54.05 L525.62 53.41 L526.47 52.79 L527.31 52.18 L528.15 51.58 L528.99 51 L529.83 50.43 L530.67 49.87 L531.51 49.33 L532.36 48.8 L533.2 48.28 L534.04 47.78 L534.88 47.28 L535.72 46.8 L536.56 46.33 L537.4 45.87 L538.24 45.43 L539.09 44.99 L539.93 44.56 L540.77 44.15 L541.61 43.74 L542.45 43.35 L543.29 42.96 L544.13 42.58 L544.97 42.22 L545.82 41.86 L546.66 41.51 L547.5 41.17 L548.34 40.84 L549.18 40.51 L550.02 40.2 L550.86 39.89 L551.7 39.59 L552.55 39.3 L553.39 39.01 L554.23 38.73 L555.07 38.46 L555.91 38.2 L556.75 37.94 L557.59 37.69 L558.43 37.44 L559.28 37.21 L560.12 36.97 L560.96 36.75 L561.8 36.53 L562.64 36.31 L563.48 36.1 L564.32 35.9 L565.16 35.7 L566.01 35.51 L566.85 35.32 L567.69 35.14 L568.53 34.96 L569.37 34.78 L570.21 34.61 L571.05 34.45 L571.89 34.29 L572.74 34.13 L573.58 33.98 L574.42 33.83 L575.26 33.69 L576.1 33.55 L576.94 33.41 L577.78 33.28 L578.63 33.15 L579.47 33.02 L580.31 32.9 L581.15 32.78 L581.99 32.66 L582.83 32.55 L583.67 32.44 L584.51 32.33 L585.36 32.23 L586.2 32.12 L587.04 32.03 L587.88 31.93 L588.72 31.84 L589.56 31.74 L590.4 31.66 L591.24 31.57 L592.09 31.49 L592.93 31.4 L593.77 31.33 L594.61 31.25 L595.45 31.17 L596.29 31.1 L597.13 31.03 L597.97 30.96 L598.82 30.89 L599.66 30.83 L600.5 30.76 L601.34 30.7 L602.18 30.64 L603.02 30.58 L603.86 30.53 L604.7 30.47 L605.55 30.42 L606.39 30.36 L607.23 30.31 L608.07 30.26 L608.91 30.22 L609.75 30.17 L610.59 30.12 L611.43 30.08 L612.28 30.04 L613.12 29.99 L613.96 29.95 L614.8 29.91 L615.64 29.88 L616.48 29.84 L617.32 29.8 L618.16 29.77 L619.01 29.73 L619.85 29.7 L620.69 29.67 L621.53 29.64 L622.37 29.6 L623.21 29.58 L624.05 29.55 L624.9 29.52 L625.74 29.49 L626.58 29.46 L627.42 29.44 L628.26 29.41 L629.1 29.39 L629.94 29.37 L630.78 29.34 L631.63 29.32 L632.47 29.3 L633.31 29.28 L634.15 29.26 L634.99 29.24 L635.83 29.22 L636.67 29.2 L637.51 29.18 L638.36 29.16 L639.2 29.14 L640.04 29.13 L640.88 29.11 L641.72 29.1 L642.56 29.08 L643.4 29.07 L644.24 29.05 L645.09 29.04 L645.93 29.02 L646.77 29.01 L647.61 29 L648.45 28.98 L649.29 28.97 L650.13 28.96 L650.97 28.95 L651.82 28.94 L652.66 28.93 L653.5 28.92 L654.34 28.91 L655.18 28.9 L656.02 28.89 L656.86 28.88 L657.7 28.87 L658.55 28.86 L659.39 28.85 L660.23 28.84 L661.07 28.83 L661.91 28.83 L662.75 28.82 L663.59 28.81 L664.43 28.8 L665.28 28.8 L666.12 28.79 L666.96 28.78 L667.8 28.78 L668.64 28.77 L669.48 28.76 L670.32 28.76 L671.16 28.75 L672.01 28.75 L672.85 28.74 L673.69 28.74 L674.53 28.73 L675.37 28.73 L676.21 28.72 L677.05 28.72 L677.9 28.71 L678.74 28.71 L679.58 28.7 L680.42 28.7 L681.26 28.7 L682.1 28.69 L682.94 28.69 L683.78 28.68 L684.63 28.68 L685.47 28.68 L686.31 28.67 L687.15 28.67 L687.99 28.67 L688.83 28.66 L689.67 28.66 L690.51 28.66 L691.36 28.66 L692.2 28.65 L693.04 28.65 L693.88 28.65 L694.72 28.65 L695.56 28.64 L696.4 28.64 L697.24 28.64 L698.09 28.64 L698.93 28.63 L699.77 28.63 L700.61 28.63 L701.45 28.63 L702.29 28.63 L703.13 28.62 L703.97 28.62 L704.82 28.62 L705.66 28.62 L706.5 28.62 L707.34 28.62 L708.18 28.61 L709.02 28.61 L709.86 28.61 L710.7 28.61 L711.55 28.61 L712.39 28.61 L713.23 28.61 L714.07 28.6 L714.91 28.6 L715.75 28.6 L716.59 28.6 L717.43 28.6 L718.28 28.6 L719.12 28.6 L719.96 28.6 L720.8 28.6"/>
<path stroke="#f00" d="M441 54.04 L441.28 55.31 L441.56 56.64 L441.84 57.99 L442.12 59.35 L442.4 60.7 L442.68 62.06 L442.96 63.41 L443.24 64.75 L443.52 66.09 L443.8 67.42 L444.08 68.74 L444.36 70.05 L444.64 71.35 L444.92 72.65 L445.2 73.93 L445.48 75.2 L445.76 76.46 L446.04 77.71 L446.32 78.95 L446.6 80.18 L446.88 81.39 L447.16 82.6 L447.44 83.79 L447.72 84.98 L448 86.15 L448.27 87.31 L448.55 88.46 L448.83 89.6 L449.11 90.72 L449.39 91.84 L449.67 92.95 L449.95 94.04 L450.23 95.12 L450.51 96.19 L450.79 97.26 L451.07 98.31 L451.35 99.35 L451.63 100.37 L451.91 101.39 L452.19 102.4 L452.47 103.4 L452.75 104.38 L453.03 105.36 L453.31 106.32 L453.59 107.28 L453.87 108.22 L454.15 109.16 L454.43 110.08 L454.71 111 L454.99 111.9 L455.27 112.8 L455.55 113.68 L455.83 114.56 L456.11 115.43 L456.39 116.28 L456.67 117.13 L456.95 117.97 L457.23 118.8 L457.51 119.62 L457.79 120.43 L458.07 121.23 L458.35 122.03 L458.63 122.81 L458.91 123.59 L459.19 124.35 L459.47 125.11 L459.75 125.86 L460.03 126.6 L460.31 127.34 L460.59 128.06 L460.87 128.78 L461.15 129.49 L461.43 130.19 L461.71 130.88 L461.99 131.57 L462.26 132.24 L462.54 132.91 L462.82 133.57 L463.1 134.23 L463.38 134.88 L463.66 135.52 L463.94 136.15 L464.22 136.77 L464.5 137.39 L464.78 138 L465.06 138.61 L465.34 139.2 L465.62 139.8 L465.9 140.38 L466.18 140.96 L466.46 141.53 L466.74 142.09 L467.02 142.65 L467.3 143.2 L467.58 143.74 L467.86 144.28 L468.14 144.81 L468.42 145.34 L468.7 145.86 L468.98 146.37 L469.26 146.88 L470.1 148.37 L470.94 149.81 L471.78 151.2 L472.62 152.54 L473.47 153.83 L474.31 155.08 L475.15 156.29 L475.99 157.45 L476.83 158.57 L477.67 159.66 L478.51 160.7 L479.36 161.71 L480.2 162.68 L481.04 163.62 L481.88 164.52 L482.72 165.4 L483.56 166.24 L484.4 167.05 L485.24 167.83 L486.09 168.59 L486.93 169.32 L487.77 170.02 L488.61 170.69 L489.45 171.35 L490.29 171.97 L491.13 172.58 L491.97 173.17 L492.82 173.73 L493.66 174.27 L494.5 174.8 L495.34 175.3 L496.18 175.79 L497.02 176.26 L497.86 176.71 L498.7 177.14 L499.55 177.56 L500.39 177.97 L501.23 178.36 L502.07 178.73 L502.91 179.09 L503.75 179.44 L504.59 179.78 L505.43 180.1 L506.28 180.41 L507.12 180.71 L507.96 181 L508.8 181.28 L509.64 181.55 L510.48 181.81 L511.32 182.06 L512.16 182.3 L513.01 182.53 L513.85 182.75 L514.69 182.97 L515.53 183.17 L516.37 183.37 L517.21 183.56 L518.05 183.75 L518.89 183.93 L519.74 184.1 L520.58 184.26 L521.42 184.42 L522.26 184.57 L523.1 184.72 L523.94 184.86 L524.78 185 L525.62 185.13 L526.47 185.26 L527.31 185.38 L528.15 185.5 L528.99 185.61 L529.83 185.72 L530.67 185.82 L531.51 185.92 L532.36 186.02 L533.2 186.11 L534.04 186.2 L534.88 186.29 L535.72 186.37 L536.56 186.45 L537.4 186.53 L538.24 186.61 L539.09 186.68 L539.93 186.75 L540.77 186.81 L541.61 186.88 L542.45 186.94 L543.29 187 L544.13 187.05 L544.97 187.11 L545.82 187.16 L546.66 187.21 L547.5 187.26 L548.34 187.31 L549.18 187.35 L550.02 187.4 L550.86 187.44 L551.7 187.48 L552.55 187.52 L553.39 187.55 L554.23 187.59 L555.07 187.63 L555.91 187.66 L556.75 187.69 L557.59 187.72 L558.43 187.75 L559.28 187.78 L560.12 187.81 L560.96 187.83 L561.8 187.86 L562.64 187.88 L563.48 187.91 L564.32 187.93 L565.16 187.95 L566.01 187.97 L566.85 187.99 L567.69 188.01 L568.53 188.03 L569.37 188.05 L570.21 188.07 L571.05 188.08 L571.89 188.1 L572.74 188.11 L573.58 188.13 L574.42 188.14 L575.26 188.16 L576.1 188.17 L576.94 188.18 L577.78 188.19 L578.63 188.21 L579.47 188.22 L580.31 188.23 L581.15 188.24 L581.99 188.25 L582.83 188.26 L583.67 188.27 L584.51 188.28 L585.36 188.29 L586.2 188.29 L587.04 188.3 L587.88 188.31 L588.72 188.32 L589.56 188.32 L590.4 188.33 L591.24 188.34 L592.09 188.34 L592.93 188.35 L593.77 188.35 L594.61 188.36 L595.45 188.37 L596.29 188.37 L597.13 188.38 L597.97 188.38 L598.82 188.39 L599.66 188.39 L600.5 188.39 L601.34 188.4 L602.18 188.4 L603.02 188.41 L603.86 188.41 L604.7 188.41 L605.55 188.42 L606.39 188.42 L607.23 188.42 L608.07 188.43 L608.91 188.43 L609.75 188.43 L610.59 188.43 L611.43 188.44 L612.28 188.44 L613.12 188.44 L613.96 188.44 L614.8 188.45 L615.64 188.45 L616.48 188.45 L617.32 188.45 L618.16 188.45 L619.01 188.46 L619.85 188.46 L620.69 188.46 L621.53 188.46 L622.37 188.46 L623.21 188.46 L624.05 188.46 L624.9 188.47 L625.74 188.47 L626.58 188.47 L627.42 188.47 L628.26 188.47 L629.1 188.47 L629.94 188.47 L630.78 188.47 L631.63 188.48 L632.47 188.48 L633.31 188.48 L634.15 188.48 L634.99 188.48 L635.83 188.48 L636.67 188.48 L637.51 188.48 L638.36 188.48 L639.2 188.48 L640.04 188.48 L640.88 188.48 L641.72 188.48 L642.56 188.49 L643.4 188.49 L644.24 188.49 L645.09 188.49 L645.93 188.49 L646.77 188.49 L647.61 188.49 L648.45 188.49 L649.29 188.49 L650.13 188.49 L650.97 188.49 L651.82 188.49 L652.66 188.49 L653.5 188.49 L654.34 188.49 L655.18 188.49 L656.02 188.49 L656.86 188.49 L657.7 188.49 L658.55 188.49 L659.39 188.49 L660.23 188.49 L661.07 188.49 L661.91 188.49 L662.75 188.49 L663.59 188.49 L664.43 188.49 L665.28 188.5 L666.12 188.5 L666.96 188.5 L667.8 188.5 L668.64 188.5 L669.48 188.5 L670.32 188.5 L671.16 188.5 L672.01 188.5 L672.85 188.5 L673.69 188.5 L674.53 188.5 L675.37 188.5 L676.21 188.5 L677.05 188.5 L677.9 188.5 L678.74 188.5 L679.58 188.5 L680.42 188.5 L681.26 188.5 L682.1 188.5 L682.94 188.5 L683.78 188.5 L684.63 188.5 L685.47 188.5 L686.31 188.5 L687.15 188.5 L687.99 188.5 L688.83 188.5 L689.67 188.5 L690.51 188.5 L691.36 188.5 L692.2 188.5 L693.04 188.5 L693.88 188.5 L694.72 188.5 L695.56 188.5 L696.4 188.5 L697.24 188.5 L698.09 188.5 L698.93 188.5 L699.77 188.5 L700.61 188.5 L701.45 188.5 L702.29 188.5 L703.13 188.5 L703.97 188.5 L704.82 188.5 L705.66 188.5 L706.5 188.5 L707.34 188.5 L708.18 188.5 L709.02 188.5 L709.86 188.5 L710.7 188.5 L711.55 188.5 L712.39 188.5 L713.23 188.5 L714.07 188.5 L714.91 188.5 L715.75 188.5 L716.59 188.5 L717.43 188.5 L718.28 188.5 L719.12 188.5 L719.96 188.5 L720.8 188.5"/>
</g>
<g fill="#000">
<circle cx="441.06" cy="54.28" r="1.75"/>
<circle cx="441.06" cy="187.92" r="1.75"/>
<circle cx="441.06" cy="188.5" r="1.75"/>
<circle cx="441.11" cy="54.53" r="1.75"/>
<circle cx="441.11" cy="187.34" r="1.75"/>
<circle cx="441.11" cy="188.5" r="1.75"/>
<circle cx="441.22" cy="55.05" r="1.75"/>
<circle cx="441.22" cy="186.2" r="1.75"/>
<circle cx="441.22" cy="188.49" r="1.75"/>
<circle cx="441.34" cy="55.57" r="1.75"/>
<circle cx="441.34" cy="185.07" r="1.75"/>
<circle cx="441.34" cy="188.49" r="1.75"/>
<circle cx="441.45" cy="56.1" r="1.75"/>
<circle cx="441.45" cy="183.95" r="1.75"/>
<circle cx="441.45" cy="188.48" r="1.75"/>
<circle cx="441.56" cy="56.64" r="1.75"/>
<circle cx="441.56" cy="182.84" r="1.75"/>
<circle cx="441.56" cy="188.46" r="1.75"/>
<circle cx="441.67" cy="57.18" r="1.75"/>
<circle cx="441.67" cy="181.74" r="1.75"/>
<circle cx="441.67" cy="188.45" r="1.75"/>
<circle cx="441.78" cy="57.72" r="1.75"/>
<circle cx="441.78" cy="180.65" r="1.75"/>
<circle cx="441.78" cy="188.43" r="1.75"/>
<circle cx="441.9" cy="58.26" r="1.75"/>
<circle cx="441.9" cy="179.58" r="1.75"/>
<circle cx="441.9" cy="188.4" r="1.75"/>
<circle cx="442.01" cy="58.8" r="1.75"/>
<circle cx="442.01" cy="178.51" r="1.75"/>
<circle cx="442.01" cy="188.38" r="1.75"/>
<circle cx="442.18" cy="59.62" r="1.75"/>
<circle cx="442.18" cy="176.94" r="1.75"/>
<circle cx="442.18" cy="188.33" r="1.75"/>
<circle cx="442.34" cy="60.43" r="1.75"/>
<circle cx="442.34" cy="175.39" r="1.75"/>
<circle cx="442.34" cy="188.28" r="1.75"/>
<circle cx="442.51" cy="61.25" r="1.75"/>
<circle cx="442.51" cy="173.86" r="1.75"/>
<circle cx="442.51" cy="188.23" r="1.75"/>
<circle cx="442.73" cy="62.33" r="1.75"/>
<circle cx="442.73" cy="171.87" r="1.75"/>
<circle cx="442.73" cy="188.14" r="1.75"/>
<circle cx="443.01" cy="63.68" r="1.75"/>
<circle cx="443.01" cy="169.43" r="1.75"/>
<circle cx="443.01" cy="188.02" r="1.75"/>
<circle cx="443.29" cy="65.02" r="1.75"/>
<circle cx="443.29" cy="167.06" r="1.75"/>
<circle cx="443.29" cy="187.89" r="1.75"/>
<circle cx="443.63" cy="66.62" r="1.75"/>
<circle cx="443.63" cy="164.3" r="1.75"/>
<circle cx="443.63" cy="187.7" r="1.75"/>
<circle cx="443.97" cy="68.21" r="1.75"/>
<circle cx="443.97" cy="161.63" r="1.75"/>
<circle cx="443.97" cy="187.49" r="1.75"/>
<circle cx="444.81" cy="72.13" r="1.75"/>
<circle cx="444.81" cy="155.32" r="1.75"/>
<circle cx="444.81" cy="186.88" r="1.75"/>
<circle cx="445.98" cy="77.46" r="1.75"/>
<circle cx="445.98" cy="147.35" r="1.75"/>
<circle cx="445.98" cy="185.81" r="1.75"/>
<circle cx="447.49" cy="84.03" r="1.75"/>
<circle cx="447.49" cy="138.42" r="1.75"/>
<circle cx="447.49" cy="184.1" r="1.75"/>
<circle cx="449.51" cy="92.28" r="1.75"/>
<circle cx="449.51" cy="128.57" r="1.75"/>
<circle cx="449.51" cy="181.32" r="1.75"/>
<circle cx="452.42" cy="103.2" r="1.75"/>
<circle cx="452.42" cy="117.82" r="1.75"/>
<circle cx="452.42" cy="176.49" r="1.75"/>
<circle cx="455.83" cy="114.56" r="1.75"/>
<circle cx="455.83" cy="109.37" r="1.75"/>
<circle cx="455.83" cy="169.89" r="1.75"/>
<circle cx="460.19" cy="127.04" r="1.75"/>
<circle cx="460.19" cy="103.41" r="1.75"/>
<circle cx="460.19" cy="160.51" r="1.75"/>
<circle cx="465.9" cy="140.38" r="1.75"/>
<circle cx="465.9" cy="101.18" r="1.75"/>
<circle cx="465.9" cy="147.47" r="1.75"/>
<circle cx="473.23" cy="153.48" r="1.75"/>
<circle cx="473.23" cy="103.88" r="1.75"/>
<circle cx="473.23" cy="130.68" r="1.75"/>
<circle cx="487.73" cy="169.98" r="1.75"/>
<circle cx="487.73" cy="117.25" r="1.75"/>
<circle cx="487.73" cy="100.84" r="1.75"/>
<circle cx="510.05" cy="181.68" r="1.75"/>
<circle cx="510.05" cy="141.28" r="1.75"/>
<circle cx="510.05" cy="67.91" r="1.75"/>
<circle cx="542.12" cy="186.91" r="1.75"/>
<circle cx="542.12" cy="167.03" r="1.75"/>
<circle cx="542.12" cy="43.5" r="1.75"/>
<circle cx="571.55" cy="188.09" r="1.75"/>
<circle cx="571.55" cy="179.72" r="1.75"/>
<circle cx="571.55" cy="34.35" r="1.75"/>
<circle cx="588.96" cy="188.32" r="1.75"/>
<circle cx="588.96" cy="183.67" r="1.75"/>
<circle cx="588.96" cy="31.81" r="1.75"/>
<circle cx="609.27" cy="188.43" r="1.75"/>
<circle cx="609.27" cy="186.25" r="1.75"/>
<circle cx="609.27" cy="30.2" r="1.75"/>
<circle cx="632.1" cy="188.48" r="1.75"/>
<circle cx="632.1" cy="187.61" r="1.75"/>
<circle cx="632.1" cy="29.31" r="1.75"/>
<circle cx="657.96" cy="188.49" r="1.75"/>
<circle cx="657.96" cy="188.22" r="1.75"/>
<circle cx="657.96" cy="28.87" r="1.75"/>
<circle cx="687.34" cy="188.5" r="1.75"/>
<circle cx="687.34" cy="188.43" r="1.75"/>
<circle cx="687.34" cy="28.67" r="1.75"/>
<circle cx="720.8" cy="188.5" r="1.75"/>
<circle cx="720.8" cy="188.49" r="1.75"/>
<circle cx="720.8" cy="28.6" r="1.75"/>
</g>
<g font-family="Liberation Sans, sans-serif" font-weight="bold" font-size="13" fill="#000" text-anchor="end">
<text x="432.8" y="193.9" font-size="13.8">0</text>
<text x="433.6" y="152.45" font-size="13.8">1×10<tspan font-size="9.2" dx="0.8" dy="-5">-5</tspan></text>
<text x="433.6" y="110.8" font-size="13.8">2×10<tspan font-size="9.2" dx="0.8" dy="-5">-5</tspan></text>
<text x="433.6" y="69.15" font-size="13.8">3×10<tspan font-size="9.2" dx="0.8" dy="-5">-5</tspan></text>
<text x="433.6" y="27.5" font-size="13.8">4×10<tspan font-size="9.2" dx="0.8" dy="-5">-5</tspan></text>
</g>
<g font-family="Liberation Sans, sans-serif" font-weight="bold" font-size="14" fill="#000" text-anchor="middle">
<text x="441" y="209.6">0.0</text>
<text x="496.96" y="209.6">0.1</text>
<text x="552.92" y="209.6">0.2</text>
<text x="608.88" y="209.6">0.3</text>
<text x="664.84" y="209.6">0.4</text>
<text x="720.8" y="209.6">0.5</text>
</g>
<text font-family="Liberation Sans, sans-serif" font-weight="bold" font-size="14.6" text-anchor="middle" x="580.8" y="233">Time (s)</text>
<text font-family="Liberation Serif, serif" font-weight="bold" font-size="15.2" text-anchor="middle" transform="translate(378 93.5) rotate(-90)">Concentration (M)</text>
<g stroke-width="2.6">
<path stroke="#f00" d="M649.7 109.9 H672.2"/>
<path stroke="#00f" d="M649.7 136.2 H672.2"/>
<path stroke="#0f0" d="M649.7 162.1 H672.2"/>
</g>
<g font-family="Liberation Sans, sans-serif" font-size="14.5" fill="#000">
<text x="682.2" y="115.4">S</text>
<text x="682.2" y="141.6">EI</text>
<text x="682.2" y="167.4">P</text>
</g>
<g stroke="#000" stroke-width="1.9" fill="none">
<path d="M454.3 276.5 H729.2 M454.3 276.5 V460.9 M446.4 460.9 H729.2 M729.2 275.6 V468"/>
<path d="M446.4 408 H454.3"/>
<path d="M446.4 355.1 H454.3"/>
<path d="M446.4 302.2 H454.3"/>
<path d="M453.9 460.9 V468"/>
<path d="M508.96 460.9 V468"/>
<path d="M564.02 460.9 V468"/>
<path d="M619.08 460.9 V468"/>
<path d="M674.14 460.9 V468"/>
</g>
<g fill="none" stroke-width="3" stroke-linejoin="round">
<path stroke="#0f0" d="M453.9 460.9 L453.93 460.12 L453.96 459.34 L453.98 458.56 L454.01 457.79 L454.04 457.03 L454.07 456.26 L454.09 455.5 L454.12 454.75 L454.15 454 L454.18 453.25 L454.2 452.5 L454.23 451.76 L454.26 451.03 L454.29 450.29 L454.31 449.56 L454.34 448.84 L454.37 448.11 L454.4 447.4 L454.42 446.68 L454.45 445.97 L454.48 445.26 L454.51 444.56 L454.53 443.86 L454.56 443.16 L454.59 442.46 L454.62 441.77 L454.64 441.09 L454.67 440.4 L454.7 439.72 L454.73 439.04 L454.75 438.37 L454.78 437.7 L454.81 437.03 L454.84 436.37 L454.86 435.71 L454.89 435.05 L454.92 434.4 L454.95 433.75 L454.97 433.1 L455 432.46 L455.06 431.18 L455.11 429.91 L455.17 428.66 L455.22 427.42 L455.28 426.19 L455.33 424.98 L455.39 423.77 L455.44 422.58 L455.5 421.4 L455.55 420.23 L455.61 419.08 L455.66 417.93 L455.72 416.8 L455.77 415.68 L455.83 414.57 L455.88 413.46 L455.94 412.38 L455.99 411.3 L456.05 410.23 L456.1 409.17 L456.16 408.13 L456.21 407.09 L456.27 406.06 L456.32 405.05 L456.38 404.04 L456.43 403.05 L456.49 402.06 L456.54 401.09 L456.6 400.12 L456.65 399.16 L456.71 398.22 L456.76 397.28 L456.82 396.35 L456.87 395.43 L456.93 394.52 L456.98 393.62 L457.04 392.73 L457.09 391.85 L457.15 390.97 L457.2 390.11 L457.26 389.25 L457.31 388.4 L457.37 387.56 L457.42 386.73 L457.48 385.91 L457.53 385.09 L457.59 384.29 L457.64 383.49 L457.7 382.7 L457.75 381.91 L457.81 381.14 L457.86 380.37 L457.92 379.61 L457.97 378.86 L458.03 378.11 L458.08 377.38 L458.14 376.65 L458.19 375.92 L458.25 375.21 L458.3 374.5 L458.36 373.8 L458.41 373.1 L458.47 372.42 L458.53 371.73 L458.58 371.06 L458.64 370.39 L458.69 369.73 L458.75 369.08 L458.8 368.43 L458.86 367.79 L458.91 367.16 L458.97 366.53 L459.02 365.9 L459.08 365.29 L459.13 364.68 L459.19 364.08 L459.24 363.48 L459.3 362.89 L459.35 362.3 L459.41 361.72 L459.46 361.15 L459.65 359.17 L459.85 357.27 L460.04 355.43 L460.23 353.65 L460.43 351.94 L460.62 350.29 L460.81 348.69 L461.01 347.15 L461.2 345.66 L461.4 344.22 L461.59 342.83 L461.78 341.49 L461.98 340.2 L462.17 338.95 L462.36 337.74 L462.56 336.58 L462.75 335.45 L462.94 334.37 L463.14 333.32 L463.33 332.31 L463.52 331.33 L463.72 330.39 L463.91 329.47 L464.1 328.6 L464.3 327.75 L464.49 326.93 L464.68 326.14 L464.88 325.37 L465.07 324.63 L465.26 323.92 L465.46 323.23 L465.65 322.57 L465.84 321.93 L466.04 321.31 L466.23 320.71 L466.42 320.14 L466.62 319.58 L466.81 319.04 L467 318.52 L467.2 318.02 L467.39 317.54 L467.58 317.07 L467.78 316.62 L467.97 316.18 L468.16 315.76 L468.36 315.36 L468.55 314.96 L468.74 314.59 L468.94 314.22 L469.13 313.87 L469.32 313.53 L469.52 313.2 L469.71 312.88 L469.9 312.57 L470.1 312.28 L470.29 311.99 L470.48 311.72 L470.68 311.45 L470.87 311.19 L471.07 310.94 L471.26 310.7 L471.45 310.47 L471.65 310.25 L471.84 310.03 L472.03 309.83 L472.23 309.62 L472.42 309.43 L472.61 309.24 L472.81 309.06 L473 308.89 L473.19 308.72 L473.39 308.56 L473.58 308.4 L473.77 308.25 L473.97 308.1 L474.16 307.96 L474.35 307.82 L474.55 307.69 L474.74 307.56 L474.93 307.44 L475.13 307.32 L475.32 307.21 L475.51 307.09 L475.71 306.99 L475.9 306.88 L476.09 306.79 L476.29 306.69 L476.48 306.6 L476.67 306.51 L476.87 306.42 L477.06 306.34 L477.25 306.26 L477.45 306.18 L477.64 306.1 L477.83 306.03 L478.03 305.96 L478.22 305.89 L478.41 305.83 L478.61 305.76 L478.8 305.7 L478.99 305.64 L479.19 305.59 L479.38 305.53 L479.57 305.48 L479.77 305.43 L479.96 305.38 L480.16 305.33 L480.35 305.29 L480.54 305.24 L480.74 305.2 L480.93 305.16 L481.12 305.12 L481.32 305.08 L481.51 305.04 L481.7 305 L481.9 304.97 L482.09 304.94 L482.28 304.9 L482.48 304.87 L482.67 304.84 L482.86 304.81 L483.06 304.79 L483.25 304.76 L483.44 304.73 L483.64 304.71 L483.83 304.68 L484.02 304.66 L484.22 304.64 L484.41 304.61 L484.6 304.59 L484.8 304.57 L484.99 304.55 L485.18 304.53 L485.38 304.51 L485.57 304.5 L485.76 304.48 L485.96 304.46 L486.15 304.45 L486.34 304.43 L486.54 304.42 L486.73 304.4 L486.92 304.39 L487.12 304.37 L487.31 304.36 L487.5 304.35 L487.7 304.34 L487.89 304.33 L488.08 304.31 L488.28 304.3 L488.47 304.29 L488.66 304.28 L488.86 304.27 L489.05 304.26 L489.24 304.25 L489.44 304.25 L489.63 304.24 L489.83 304.23 L490.02 304.22 L490.21 304.21 L490.41 304.21 L490.6 304.2 L490.79 304.19 L490.99 304.19 L491.18 304.18 L491.37 304.17 L491.57 304.17 L491.76 304.16 L491.95 304.15 L492.15 304.15 L492.34 304.14 L492.53 304.14 L492.73 304.13 L492.92 304.13 L493.11 304.13 L493.31 304.12 L493.5 304.12 L493.69 304.11 L493.89 304.11 L494.08 304.1 L494.27 304.1 L494.47 304.1 L494.66 304.09 L494.85 304.09 L495.05 304.09 L495.24 304.08 L495.43 304.08 L495.63 304.08 L495.82 304.08 L496.01 304.07 L496.21 304.07 L496.4 304.07 L496.59 304.07 L496.79 304.06 L496.98 304.06 L497.17 304.06 L497.37 304.06 L497.56 304.06 L497.75 304.05 L497.95 304.05 L498.5 304.05 L500.83 304.03 L503.16 304.02 L505.49 304.01 L507.82 304.01 L510.15 304 L512.48 304 L514.81 304 L517.14 304 L519.47 304 L521.8 304 L524.13 304 L526.46 304 L528.79 304 L531.12 304 L533.45 304 L535.78 304 L538.11 304 L540.44 304 L542.77 304 L545.1 304 L547.44 304 L549.77 304 L552.1 304 L554.43 304 L556.76 304 L559.09 304 L561.42 304 L563.75 304 L566.08 304 L568.41 304 L570.74 304 L573.07 304 L575.4 304 L577.73 304 L580.06 304 L582.39 304 L584.72 304 L587.05 304 L589.38 304 L591.71 304 L594.04 304 L596.37 304 L598.7 304 L601.03 304 L603.36 304 L605.69 304 L608.02 304 L610.35 304 L612.68 304 L615.01 304 L617.34 304 L619.68 304 L622.01 304 L624.34 304 L626.67 304 L629 304 L631.33 304 L633.66 304 L635.99 304 L638.32 304 L640.65 304 L642.98 304 L645.31 304 L647.64 304 L649.97 304 L652.3 304 L654.63 304 L656.96 304 L659.29 304 L661.62 304 L663.95 304 L666.28 304 L668.61 304 L670.94 304 L673.27 304 L675.6 304 L677.93 304 L680.26 304 L682.59 304 L684.92 304 L687.25 304 L689.58 304 L691.91 304 L694.25 304 L696.58 304 L698.91 304 L701.24 304 L703.57 304 L705.9 304 L708.23 304 L710.56 304 L712.89 304 L715.22 304 L717.55 304 L719.88 304 L722.21 304 L724.54 304 L726.87 304 L729.2 304"/>
<path stroke="#00f" d="M453.9 319.35 L453.93 319.4 L453.96 319.45 L453.98 319.51 L454.01 319.57 L454.04 319.63 L454.07 319.69 L454.09 319.76 L454.12 319.83 L454.15 319.9 L454.18 319.97 L454.2 320.04 L454.23 320.12 L454.26 320.2 L454.29 320.29 L454.31 320.37 L454.34 320.46 L454.37 320.56 L454.4 320.66 L454.42 320.76 L454.45 320.86 L454.48 320.97 L454.51 321.08 L454.53 321.19 L454.56 321.31 L454.59 321.44 L454.62 321.56 L454.64 321.69 L454.67 321.83 L454.7 321.97 L454.73 322.11 L454.75 322.26 L454.78 322.42 L454.81 322.58 L454.84 322.74 L454.86 322.91 L454.89 323.08 L454.92 323.26 L454.95 323.44 L454.97 323.63 L455 323.83 L455.06 324.23 L455.11 324.66 L455.17 325.11 L455.22 325.58 L455.28 326.08 L455.33 326.6 L455.39 327.15 L455.44 327.71 L455.5 328.31 L455.55 328.92 L455.61 329.56 L455.66 330.22 L455.72 330.9 L455.77 331.61 L455.83 332.34 L455.88 333.08 L455.94 333.85 L455.99 334.63 L456.05 335.43 L456.1 336.25 L456.16 337.08 L456.21 337.93 L456.27 338.79 L456.32 339.66 L456.38 340.55 L456.43 341.44 L456.49 342.34 L456.54 343.25 L456.6 344.17 L456.65 345.09 L456.71 346.02 L456.76 346.95 L456.82 347.89 L456.87 348.82 L456.93 349.76 L456.98 350.7 L457.04 351.64 L457.09 352.58 L457.15 353.52 L457.2 354.45 L457.26 355.38 L457.31 356.32 L457.37 357.24 L457.42 358.17 L457.48 359.09 L457.53 360 L457.59 360.91 L457.64 361.82 L457.7 362.72 L457.75 363.61 L457.81 364.5 L457.86 365.39 L457.92 366.26 L457.97 367.14 L458.03 368 L458.08 368.86 L458.14 369.71 L458.19 370.56 L458.25 371.4 L458.3 372.23 L458.36 373.06 L458.41 373.88 L458.47 374.69 L458.53 375.5 L458.58 376.29 L458.64 377.09 L458.69 377.87 L458.75 378.65 L458.8 379.42 L458.86 380.19 L458.91 380.95 L458.97 381.7 L459.02 382.44 L459.08 383.18 L459.13 383.91 L459.19 384.64 L459.24 385.36 L459.3 386.07 L459.35 386.77 L459.41 387.47 L459.46 388.16 L459.65 390.54 L459.85 392.85 L460.04 395.08 L460.23 397.24 L460.43 399.33 L460.62 401.35 L460.81 403.3 L461.01 405.19 L461.2 407.02 L461.4 408.79 L461.59 410.5 L461.78 412.15 L461.98 413.75 L462.17 415.3 L462.36 416.79 L462.56 418.24 L462.75 419.64 L462.94 420.99 L463.14 422.3 L463.33 423.57 L463.52 424.8 L463.72 425.98 L463.91 427.13 L464.1 428.24 L464.3 429.31 L464.49 430.34 L464.68 431.35 L464.88 432.32 L465.07 433.26 L465.26 434.16 L465.46 435.04 L465.65 435.89 L465.84 436.71 L466.04 437.5 L466.23 438.27 L466.42 439.01 L466.62 439.73 L466.81 440.43 L467 441.1 L467.2 441.75 L467.39 442.38 L467.58 442.98 L467.78 443.57 L467.97 444.14 L468.16 444.69 L468.36 445.22 L468.55 445.74 L468.74 446.24 L468.94 446.72 L469.13 447.18 L469.32 447.63 L469.52 448.07 L469.71 448.49 L469.9 448.9 L470.1 449.29 L470.29 449.67 L470.48 450.04 L470.68 450.4 L470.87 450.74 L471.07 451.07 L471.26 451.4 L471.45 451.71 L471.65 452.01 L471.84 452.3 L472.03 452.58 L472.23 452.86 L472.42 453.12 L472.61 453.38 L472.81 453.62 L473 453.86 L473.19 454.09 L473.39 454.32 L473.58 454.53 L473.77 454.74 L473.97 454.94 L474.16 455.14 L474.35 455.33 L474.55 455.51 L474.74 455.69 L474.93 455.86 L475.13 456.02 L475.32 456.18 L475.51 456.34 L475.71 456.49 L475.9 456.63 L476.09 456.77 L476.29 456.91 L476.48 457.04 L476.67 457.17 L476.87 457.29 L477.06 457.41 L477.25 457.52 L477.45 457.63 L477.64 457.74 L477.83 457.84 L478.03 457.94 L478.22 458.04 L478.41 458.14 L478.61 458.23 L478.8 458.31 L478.99 458.4 L479.19 458.48 L479.38 458.56 L479.57 458.64 L479.77 458.71 L479.96 458.78 L480.16 458.85 L480.35 458.92 L480.54 458.98 L480.74 459.05 L480.93 459.11 L481.12 459.17 L481.32 459.22 L481.51 459.28 L481.7 459.33 L481.9 459.38 L482.09 459.43 L482.28 459.48 L482.48 459.53 L482.67 459.57 L482.86 459.62 L483.06 459.66 L483.25 459.7 L483.44 459.74 L483.64 459.78 L483.83 459.81 L484.02 459.85 L484.22 459.88 L484.41 459.92 L484.6 459.95 L484.8 459.98 L484.99 460.01 L485.18 460.04 L485.38 460.07 L485.57 460.1 L485.76 460.12 L485.96 460.15 L486.15 460.17 L486.34 460.2 L486.54 460.22 L486.73 460.24 L486.92 460.26 L487.12 460.28 L487.31 460.3 L487.5 460.32 L487.7 460.34 L487.89 460.36 L488.08 460.38 L488.28 460.4 L488.47 460.41 L488.66 460.43 L488.86 460.44 L489.05 460.46 L489.24 460.47 L489.44 460.49 L489.63 460.5 L489.83 460.51 L490.02 460.53 L490.21 460.54 L490.41 460.55 L490.6 460.56 L490.79 460.57 L490.99 460.58 L491.18 460.59 L491.37 460.6 L491.57 460.61 L491.76 460.62 L491.95 460.63 L492.15 460.64 L492.34 460.65 L492.53 460.66 L492.73 460.67 L492.92 460.67 L493.11 460.68 L493.31 460.69 L493.5 460.7 L493.69 460.7 L493.89 460.71 L494.08 460.71 L494.27 460.72 L494.47 460.73 L494.66 460.73 L494.85 460.74 L495.05 460.74 L495.24 460.75 L495.43 460.75 L495.63 460.76 L495.82 460.76 L496.01 460.77 L496.21 460.77 L496.4 460.78 L496.59 460.78 L496.79 460.78 L496.98 460.79 L497.17 460.79 L497.37 460.79 L497.56 460.8 L497.75 460.8 L497.95 460.8 L498.5 460.81 L500.83 460.84 L503.16 460.86 L505.49 460.87 L507.82 460.88 L510.15 460.89 L512.48 460.89 L514.81 460.89 L517.14 460.9 L519.47 460.9 L521.8 460.9 L524.13 460.9 L526.46 460.9 L528.79 460.9 L531.12 460.9 L533.45 460.9 L535.78 460.9 L538.11 460.9 L540.44 460.9 L542.77 460.9 L545.1 460.9 L547.44 460.9 L549.77 460.9 L552.1 460.9 L554.43 460.9 L556.76 460.9 L559.09 460.9 L561.42 460.9 L563.75 460.9 L566.08 460.9 L568.41 460.9 L570.74 460.9 L573.07 460.9 L575.4 460.9 L577.73 460.9 L580.06 460.9 L582.39 460.9 L584.72 460.9 L587.05 460.9 L589.38 460.9 L591.71 460.9 L594.04 460.9 L596.37 460.9 L598.7 460.9 L601.03 460.9 L603.36 460.9 L605.69 460.9 L608.02 460.9 L610.35 460.9 L612.68 460.9 L615.01 460.9 L617.34 460.9 L619.68 460.9 L622.01 460.9 L624.34 460.9 L626.67 460.9 L629 460.9 L631.33 460.9 L633.66 460.9 L635.99 460.9 L638.32 460.9 L640.65 460.9 L642.98 460.9 L645.31 460.9 L647.64 460.9 L649.97 460.9 L652.3 460.9 L654.63 460.9 L656.96 460.9 L659.29 460.9 L661.62 460.9 L663.95 460.9 L666.28 460.9 L668.61 460.9 L670.94 460.9 L673.27 460.9 L675.6 460.9 L677.93 460.9 L680.26 460.9 L682.59 460.9 L684.92 460.9 L687.25 460.9 L689.58 460.9 L691.91 460.9 L694.25 460.9 L696.58 460.9 L698.91 460.9 L701.24 460.9 L703.57 460.9 L705.9 460.9 L708.23 460.9 L710.56 460.9 L712.89 460.9 L715.22 460.9 L717.55 460.9 L719.88 460.9 L722.21 460.9 L724.54 460.9 L726.87 460.9 L729.2 460.9"/>
<path stroke="#f00" d="M453.9 418.05 L453.93 418.05 L453.96 418.05 L453.98 418.05 L454.01 418.05 L454.04 418.05 L454.07 418.05 L454.09 418.05 L454.12 418.05 L454.15 418.06 L454.18 418.06 L454.2 418.07 L454.23 418.08 L454.26 418.09 L454.29 418.11 L454.31 418.14 L454.34 418.17 L454.37 418.21 L454.4 418.26 L454.42 418.33 L454.45 418.41 L454.48 418.51 L454.51 418.63 L454.53 418.77 L454.56 418.94 L454.59 419.14 L454.62 419.37 L454.64 419.64 L454.67 419.95 L454.7 420.3 L454.73 420.7 L454.75 421.16 L454.78 421.67 L454.81 422.24 L454.84 422.88 L454.86 423.58 L454.89 424.35 L454.92 425.19 L454.95 426.11 L454.97 427.1 L455 428.17 L455.06 430.52 L455.11 433.13 L455.17 435.97 L455.22 438.98 L455.28 442.06 L455.33 445.14 L455.39 448.09 L455.44 450.83 L455.5 453.28 L455.55 455.36 L455.61 457.05 L455.66 458.36 L455.72 459.31 L455.77 459.96 L455.83 460.38 L455.88 460.64 L455.94 460.77 L455.99 460.85 L456.05 460.88 L456.1 460.89 L456.16 460.9 L456.21 460.9 L456.27 460.9 L456.32 460.9 L456.38 460.9 L456.43 460.9 L456.49 460.9 L456.54 460.9 L456.6 460.9 L456.65 460.9 L456.71 460.9 L456.76 460.9 L456.82 460.9 L456.87 460.9 L456.93 460.9 L456.98 460.9 L457.04 460.9 L457.09 460.9 L457.15 460.9 L457.2 460.9 L457.26 460.9 L457.31 460.9 L457.37 460.9 L457.42 460.9 L457.48 460.9 L457.53 460.9 L457.59 460.9 L457.64 460.9 L457.7 460.9 L457.75 460.9 L457.81 460.9 L457.86 460.9 L457.92 460.9 L457.97 460.9 L458.03 460.9 L458.08 460.9 L458.14 460.9 L458.19 460.9 L458.25 460.9 L458.3 460.9 L458.36 460.9 L458.41 460.9 L458.47 460.9 L458.53 460.9 L458.58 460.9 L458.64 460.9 L458.69 460.9 L458.75 460.9 L458.8 460.9 L458.86 460.9 L458.91 460.9 L458.97 460.9 L459.02 460.9 L459.08 460.9 L459.13 460.9 L459.19 460.9 L459.24 460.9 L459.3 460.9 L459.35 460.9 L459.41 460.9 L459.46 460.9 L459.65 460.9 L459.85 460.9 L460.04 460.9 L460.23 460.9 L460.43 460.9 L460.62 460.9 L460.81 460.9 L461.01 460.9 L461.2 460.9 L461.4 460.9 L461.59 460.9 L461.78 460.9 L461.98 460.9 L462.17 460.9 L462.36 460.9 L462.56 460.9 L462.75 460.9 L462.94 460.9 L463.14 460.9 L463.33 460.9 L463.52 460.9 L463.72 460.9 L463.91 460.9 L464.1 460.9 L464.3 460.9 L464.49 460.9 L464.68 460.9 L464.88 460.9 L465.07 460.9 L465.26 460.9 L465.46 460.9 L465.65 460.9 L465.84 460.9 L466.04 460.9 L466.23 460.9 L466.42 460.9 L466.62 460.9 L466.81 460.9 L467 460.9 L467.2 460.9 L467.39 460.9 L467.58 460.9 L467.78 460.9 L467.97 460.9 L468.16 460.9 L468.36 460.9 L468.55 460.9 L468.74 460.9 L468.94 460.9 L469.13 460.9 L469.32 460.9 L469.52 460.9 L469.71 460.9 L469.9 460.9 L470.1 460.9 L470.29 460.9 L470.48 460.9 L470.68 460.9 L470.87 460.9 L471.07 460.9 L471.26 460.9 L471.45 460.9 L471.65 460.9 L471.84 460.9 L472.03 460.9 L472.23 460.9 L472.42 460.9 L472.61 460.9 L472.81 460.9 L473 460.9 L473.19 460.9 L473.39 460.9 L473.58 460.9 L473.77 460.9 L473.97 460.9 L474.16 460.9 L474.35 460.9 L474.55 460.9 L474.74 460.9 L474.93 460.9 L475.13 460.9 L475.32 460.9 L475.51 460.9 L475.71 460.9 L475.9 460.9 L476.09 460.9 L476.29 460.9 L476.48 460.9 L476.67 460.9 L476.87 460.9 L477.06 460.9 L477.25 460.9 L477.45 460.9 L477.64 460.9 L477.83 460.9 L478.03 460.9 L478.22 460.9 L478.41 460.9 L478.61 460.9 L478.8 460.9 L478.99 460.9 L479.19 460.9 L479.38 460.9 L479.57 460.9 L479.77 460.9 L479.96 460.9 L480.16 460.9 L480.35 460.9 L480.54 460.9 L480.74 460.9 L480.93 460.9 L481.12 460.9 L481.32 460.9 L481.51 460.9 L481.7 460.9 L481.9 460.9 L482.09 460.9 L482.28 460.9 L482.48 460.9 L482.67 460.9 L482.86 460.9 L483.06 460.9 L483.25 460.9 L483.44 460.9 L483.64 460.9 L483.83 460.9 L484.02 460.9 L484.22 460.9 L484.41 460.9 L484.6 460.9 L484.8 460.9 L484.99 460.9 L485.18 460.9 L485.38 460.9 L485.57 460.9 L485.76 460.9 L485.96 460.9 L486.15 460.9 L486.34 460.9 L486.54 460.9 L486.73 460.9 L486.92 460.9 L487.12 460.9 L487.31 460.9 L487.5 460.9 L487.7 460.9 L487.89 460.9 L488.08 460.9 L488.28 460.9 L488.47 460.9 L488.66 460.9 L488.86 460.9 L489.05 460.9 L489.24 460.9 L489.44 460.9 L489.63 460.9 L489.83 460.9 L490.02 460.9 L490.21 460.9 L490.41 460.9 L490.6 460.9 L490.79 460.9 L490.99 460.9 L491.18 460.9 L491.37 460.9 L491.57 460.9 L491.76 460.9 L491.95 460.9 L492.15 460.9 L492.34 460.9 L492.53 460.9 L492.73 460.9 L492.92 460.9 L493.11 460.9 L493.31 460.9 L493.5 460.9 L493.69 460.9 L493.89 460.9 L494.08 460.9 L494.27 460.9 L494.47 460.9 L494.66 460.9 L494.85 460.9 L495.05 460.9 L495.24 460.9 L495.43 460.9 L495.63 460.9 L495.82 460.9 L496.01 460.9 L496.21 460.9 L496.4 460.9 L496.59 460.9 L496.79 460.9 L496.98 460.9 L497.17 460.9 L497.37 460.9 L497.56 460.9 L497.75 460.9 L497.95 460.9 L498.5 460.9 L500.83 460.9 L503.16 460.9 L505.49 460.9 L507.82 460.9 L510.15 460.9 L512.48 460.9 L514.81 460.9 L517.14 460.9 L519.47 460.9 L521.8 460.9 L524.13 460.9 L526.46 460.9 L528.79 460.9 L531.12 460.9 L533.45 460.9 L535.78 460.9 L538.11 460.9 L540.44 460.9 L542.77 460.9 L545.1 460.9 L547.44 460.9 L549.77 460.9 L552.1 460.9 L554.43 460.9 L556.76 460.9 L559.09 460.9 L561.42 460.9 L563.75 460.9 L566.08 460.9 L568.41 460.9 L570.74 460.9 L573.07 460.9 L575.4 460.9 L577.73 460.9 L580.06 460.9 L582.39 460.9 L584.72 460.9 L587.05 460.9 L589.38 460.9 L591.71 460.9 L594.04 460.9 L596.37 460.9 L598.7 460.9 L601.03 460.9 L603.36 460.9 L605.69 460.9 L608.02 460.9 L610.35 460.9 L612.68 460.9 L615.01 460.9 L617.34 460.9 L619.68 460.9 L622.01 460.9 L624.34 460.9 L626.67 460.9 L629 460.9 L631.33 460.9 L633.66 460.9 L635.99 460.9 L638.32 460.9 L640.65 460.9 L642.98 460.9 L645.31 460.9 L647.64 460.9 L649.97 460.9 L652.3 460.9 L654.63 460.9 L656.96 460.9 L659.29 460.9 L661.62 460.9 L663.95 460.9 L666.28 460.9 L668.61 460.9 L670.94 460.9 L673.27 460.9 L675.6 460.9 L677.93 460.9 L680.26 460.9 L682.59 460.9 L684.92 460.9 L687.25 460.9 L689.58 460.9 L691.91 460.9 L694.25 460.9 L696.58 460.9 L698.91 460.9 L701.24 460.9 L703.57 460.9 L705.9 460.9 L708.23 460.9 L710.56 460.9 L712.89 460.9 L715.22 460.9 L717.55 460.9 L719.88 460.9 L722.21 460.9 L724.54 460.9 L726.87 460.9 L729.2 460.9"/>
</g>
<g fill="#000">
<circle cx="454.18" cy="453.25" r="1.75"/>
<circle cx="454.29" cy="450.29" r="1.75"/>
<circle cx="454.45" cy="320.86" r="1.75"/>
<circle cx="454.45" cy="445.97" r="1.75"/>
<circle cx="454.73" cy="420.7" r="1.75"/>
<circle cx="454.73" cy="322.11" r="1.75"/>
<circle cx="454.73" cy="439.04" r="1.75"/>
<circle cx="454.95" cy="426.11" r="1.75"/>
<circle cx="454.95" cy="323.44" r="1.75"/>
<circle cx="454.95" cy="433.75" r="1.75"/>
<circle cx="455.11" cy="433.13" r="1.75"/>
<circle cx="455.11" cy="324.66" r="1.75"/>
<circle cx="455.11" cy="429.91" r="1.75"/>
<circle cx="455.28" cy="442.06" r="1.75"/>
<circle cx="455.28" cy="326.08" r="1.75"/>
<circle cx="455.28" cy="426.19" r="1.75"/>
<circle cx="455.44" cy="450.83" r="1.75"/>
<circle cx="455.44" cy="327.71" r="1.75"/>
<circle cx="455.44" cy="422.58" r="1.75"/>
<circle cx="455.61" cy="457.05" r="1.75"/>
<circle cx="455.61" cy="329.56" r="1.75"/>
<circle cx="455.61" cy="419.08" r="1.75"/>
<circle cx="455.88" cy="333.08" r="1.75"/>
<circle cx="455.88" cy="413.46" r="1.75"/>
<circle cx="456.43" cy="341.44" r="1.75"/>
<circle cx="456.43" cy="403.05" r="1.75"/>
<circle cx="457.15" cy="353.52" r="1.75"/>
<circle cx="457.15" cy="390.97" r="1.75"/>
<circle cx="458.08" cy="368.86" r="1.75"/>
<circle cx="458.08" cy="377.38" r="1.75"/>
<circle cx="459.3" cy="386.07" r="1.75"/>
<circle cx="459.3" cy="362.89" r="1.75"/>
<circle cx="460.89" cy="404.07" r="1.75"/>
<circle cx="460.89" cy="348.06" r="1.75"/>
<circle cx="462.82" cy="420.14" r="1.75"/>
<circle cx="462.82" cy="335.05" r="1.75"/>
<circle cx="465.57" cy="435.55" r="1.75"/>
<circle cx="465.57" cy="322.83" r="1.75"/>
<circle cx="468.82" cy="446.43" r="1.75"/>
<circle cx="468.82" cy="314.44" r="1.75"/>
<circle cx="473.01" cy="453.87" r="1.75"/>
<circle cx="473.01" cy="308.88" r="1.75"/>
<circle cx="478.62" cy="458.23" r="1.75"/>
<circle cx="478.62" cy="305.76" r="1.75"/>
<circle cx="485.89" cy="460.14" r="1.75"/>
<circle cx="485.89" cy="304.47" r="1.75"/>
<circle cx="494.81" cy="460.74" r="1.75"/>
<circle cx="494.81" cy="304.09" r="1.75"/>
<circle cx="507.09" cy="460.88" r="1.75"/>
<circle cx="507.09" cy="304.01" r="1.75"/>
<circle cx="522.28" cy="460.9" r="1.75"/>
<circle cx="522.28" cy="304" r="1.75"/>
<circle cx="553.56" cy="460.9" r="1.75"/>
<circle cx="553.56" cy="304" r="1.75"/>
<circle cx="599.81" cy="460.9" r="1.75"/>
<circle cx="599.81" cy="304" r="1.75"/>
<circle cx="667.53" cy="460.9" r="1.75"/>
<circle cx="667.53" cy="304" r="1.75"/>
<circle cx="729.2" cy="460.9" r="1.75"/>
<circle cx="729.2" cy="304" r="1.75"/>
</g>
<g font-family="Liberation Sans, sans-serif" font-weight="bold" font-size="13" fill="#000" text-anchor="end">
<text x="444.3" y="465.8" font-size="13.8">0</text>
<text x="445.3" y="414.2" font-size="13.8">1×10<tspan font-size="9.2" dx="0.8" dy="-5">-5</tspan></text>
<text x="445.3" y="361.3" font-size="13.8">2×10<tspan font-size="9.2" dx="0.8" dy="-5">-5</tspan></text>
<text x="445.3" y="308.4" font-size="13.8">3×10<tspan font-size="9.2" dx="0.8" dy="-5">-5</tspan></text>
</g>
<g font-family="Liberation Sans, sans-serif" font-weight="bold" font-size="14" fill="#000" text-anchor="middle">
<text x="453.9" y="481.8">0.0</text>
<text x="508.96" y="481.8">0.1</text>
<text x="564.02" y="481.8">0.2</text>
<text x="619.08" y="481.8">0.3</text>
<text x="674.14" y="481.8">0.4</text>
<text x="729.2" y="481.8">0.5</text>
</g>
<text font-family="Liberation Sans, sans-serif" font-weight="bold" font-size="14.6" text-anchor="middle" x="592.2" y="506.3">Time (s)</text>
<text font-family="Liberation Serif, serif" font-weight="bold" font-size="13.7" text-anchor="middle" transform="translate(389.5 364) rotate(-90)">Concentration (M)</text>
<g stroke-width="2.2">
<path stroke="#f00" d="M659.5 383.75 H681.4"/>
<path stroke="#0f0" d="M659.5 406.9 H681.4"/>
<path stroke="#00f" d="M659.5 430.3 H681.4"/>
</g>
<g font-family="Liberation Sans, sans-serif" font-size="14.5" fill="#000">
<text x="691.2" y="389.6">S</text>
<text x="691.2" y="412.3">P</text>
<text x="691.2" y="435.7">EI</text>
</g>
</svg>
</body></html>
